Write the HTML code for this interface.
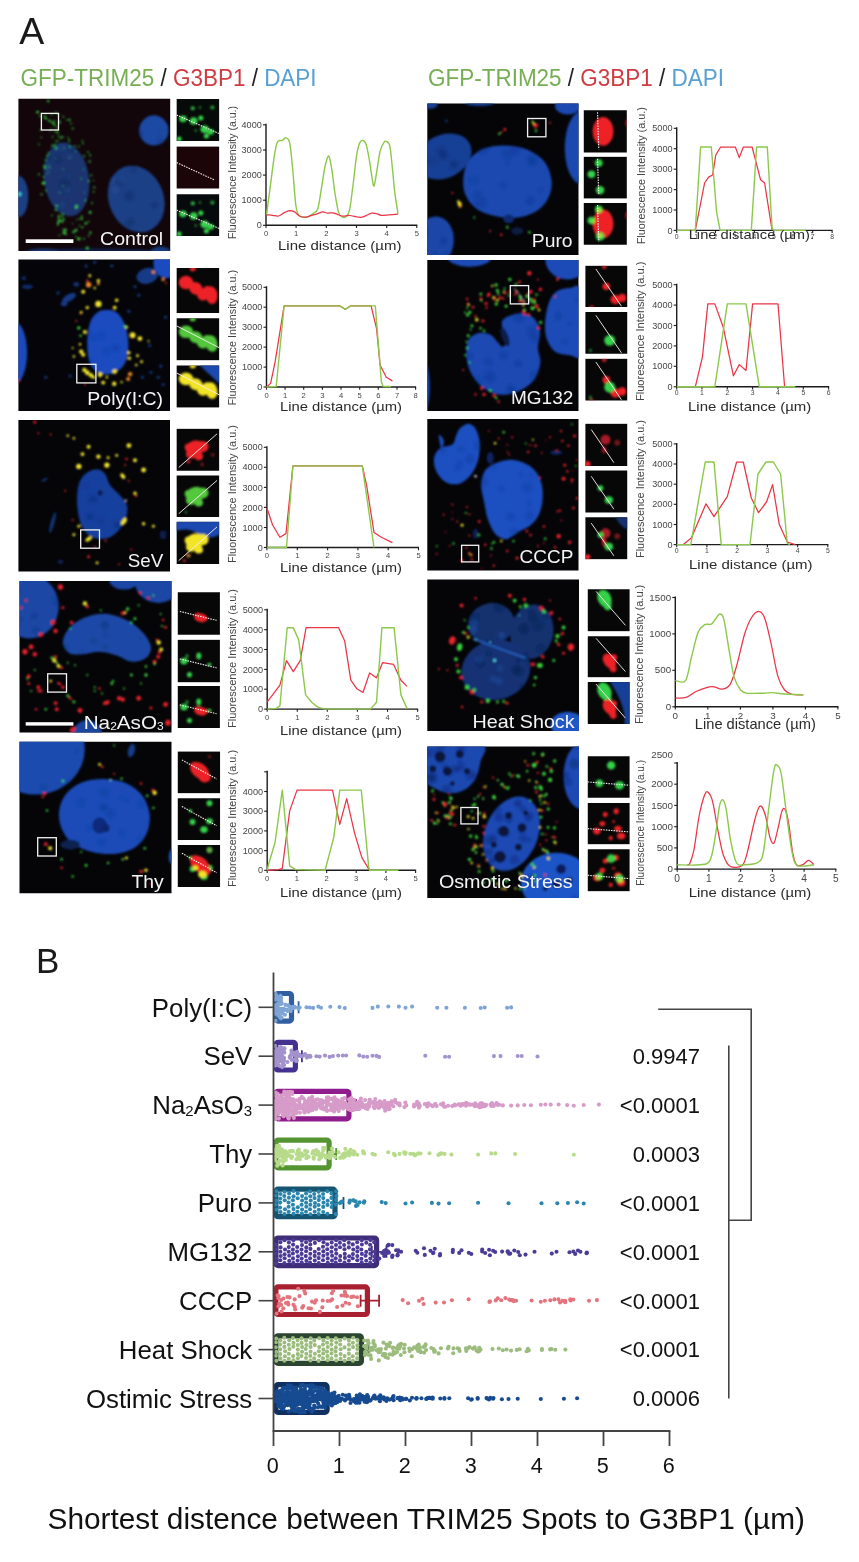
<!DOCTYPE html>
<html lang="en"><head><meta charset="utf-8"><title>Figure</title>
<style>
html,body{margin:0;padding:0;background:#fff;}
body{width:859px;height:1562px;overflow:hidden;}
svg{display:block;}
text{font-family:"Liberation Sans",sans-serif;}
</style></head><body>
<svg width="859" height="1562" viewBox="0 0 859 1562">
<defs>
<filter id="b1" x="-20%" y="-20%" width="140%" height="140%"><feGaussianBlur stdDeviation="0.9"/></filter>
<filter id="b2" x="-20%" y="-20%" width="140%" height="140%"><feGaussianBlur stdDeviation="1.6"/></filter>
<filter id="b3" x="-20%" y="-20%" width="140%" height="140%"><feGaussianBlur stdDeviation="2.8"/></filter>
<filter id="b0" x="-20%" y="-20%" width="140%" height="140%"><feGaussianBlur stdDeviation="0.55"/></filter>
<filter id="bt" x="-5%" y="-5%" width="110%" height="110%"><feGaussianBlur stdDeviation="0.35"/></filter>
</defs>
<rect x="0" y="0" width="859" height="1562" fill="#ffffff"/>
<text x="19.3" y="43.6" font-size="37.5" fill="#1a1a1a" text-anchor="start" >A</text>
<text x="36.0" y="973.2" font-size="35" fill="#1a1a1a" text-anchor="start" >B</text>
<text x="20.6" y="86.4" font-size="23" textLength="296" lengthAdjust="spacingAndGlyphs" filter="url(#bt)"><tspan fill="#76ae52">GFP-TRIM25</tspan><tspan fill="#222"> / </tspan><tspan fill="#cf3a42">G3BP1</tspan><tspan fill="#222"> / </tspan><tspan fill="#58a0d4">DAPI</tspan></text>
<text x="428.0" y="86.4" font-size="23" textLength="296" lengthAdjust="spacingAndGlyphs" filter="url(#bt)"><tspan fill="#76ae52">GFP-TRIM25</tspan><tspan fill="#222"> / </tspan><tspan fill="#cf3a42">G3BP1</tspan><tspan fill="#222"> / </tspan><tspan fill="#58a0d4">DAPI</tspan></text>
<g filter="url(#bt)">
<path d="M266.0,123.8 V225.3 H417.3" fill="none" stroke="#1c1c1c" stroke-width="1.4"/>
<path d="M266.0,225.3 v2.7" stroke="#1c1c1c" stroke-width="1.1"/>
<text x="266.0" y="236.2" font-size="7.6" fill="#444" text-anchor="middle" >0</text>
<path d="M296.1,225.3 v2.7" stroke="#1c1c1c" stroke-width="1.1"/>
<text x="296.1" y="236.2" font-size="7.6" fill="#444" text-anchor="middle" >1</text>
<path d="M326.3,225.3 v2.7" stroke="#1c1c1c" stroke-width="1.1"/>
<text x="326.3" y="236.2" font-size="7.6" fill="#444" text-anchor="middle" >2</text>
<path d="M356.5,225.3 v2.7" stroke="#1c1c1c" stroke-width="1.1"/>
<text x="356.5" y="236.2" font-size="7.6" fill="#444" text-anchor="middle" >3</text>
<path d="M386.7,225.3 v2.7" stroke="#1c1c1c" stroke-width="1.1"/>
<text x="386.7" y="236.2" font-size="7.6" fill="#444" text-anchor="middle" >4</text>
<path d="M416.8,225.3 v2.7" stroke="#1c1c1c" stroke-width="1.1"/>
<text x="416.8" y="236.2" font-size="7.6" fill="#444" text-anchor="middle" >5</text>
<path d="M266.0,225.3 h-3.0" stroke="#1c1c1c" stroke-width="1.1"/>
<text x="261.8" y="228.4" font-size="9.1" fill="#444" text-anchor="end" >0</text>
<path d="M266.0,200.2 h-3.0" stroke="#1c1c1c" stroke-width="1.1"/>
<text x="261.8" y="203.3" font-size="9.1" fill="#444" text-anchor="end" >1000</text>
<path d="M266.0,175.1 h-3.0" stroke="#1c1c1c" stroke-width="1.1"/>
<text x="261.8" y="178.2" font-size="9.1" fill="#444" text-anchor="end" >2000</text>
<path d="M266.0,150.0 h-3.0" stroke="#1c1c1c" stroke-width="1.1"/>
<text x="261.8" y="153.1" font-size="9.1" fill="#444" text-anchor="end" >3000</text>
<path d="M266.0,124.8 h-3.0" stroke="#1c1c1c" stroke-width="1.1"/>
<text x="261.8" y="127.9" font-size="9.1" fill="#444" text-anchor="end" >4000</text>
<path d="M266.5,214.8 C267.1,210.3 268.8,197.7 270.1,187.9 C271.4,178.1 273.1,163.8 274.3,156.1 C275.5,148.5 276.1,144.6 277.5,141.9 C278.8,139.3 280.9,141.2 282.3,140.5 C283.8,139.8 284.8,137.3 286.0,137.8 C287.2,138.2 288.6,138.1 289.7,143.2 C290.8,148.3 291.6,158.0 292.6,168.3 C293.6,178.7 294.8,197.3 295.8,205.0 C296.8,212.8 297.5,212.8 298.7,214.8 C300.0,216.8 301.6,216.9 303.1,217.2 C304.7,217.6 306.4,217.4 308.0,216.8 C309.6,216.1 311.3,214.9 312.9,213.6 C314.5,212.2 316.4,213.0 317.8,208.7 C319.2,204.4 320.2,195.0 321.5,187.9 C322.7,180.8 323.9,171.2 325.1,165.9 C326.4,160.6 327.7,155.3 328.8,156.1 C329.9,156.9 331.0,164.7 332.0,170.8 C333.0,176.9 333.8,185.9 334.9,192.8 C336.0,199.7 337.4,208.4 338.6,212.4 C339.8,216.4 341.0,216.0 342.2,216.8 C343.5,217.5 344.7,217.9 345.9,216.8 C347.1,215.6 348.4,215.5 349.6,209.9 C350.8,204.3 352.0,192.4 353.3,183.0 C354.5,173.6 355.7,160.6 356.9,153.7 C358.1,146.8 359.2,143.2 360.6,141.5 C362.0,139.7 364.1,140.1 365.5,142.9 C366.9,145.8 368.0,152.7 369.1,158.6 C370.2,164.4 371.3,173.6 372.1,178.1 C372.9,182.7 373.3,186.8 374.0,186.0 C374.8,185.1 375.5,179.0 376.5,173.2 C377.5,167.5 378.9,156.3 380.1,151.2 C381.4,146.1 382.7,144.3 383.8,142.7 C384.9,141.0 385.7,140.8 386.7,141.5 C387.8,142.1 389.0,141.9 389.9,146.3 C390.9,150.8 391.6,160.6 392.4,168.3 C393.2,176.1 393.9,185.3 394.8,192.8 C395.8,200.3 397.5,210.1 398.0,213.6" fill="none" stroke="#8cc84a" stroke-width="1.4" stroke-linejoin="round"/>
<path d="M266.5,214.8 C267.5,214.9 270.5,215.1 272.6,215.3 C274.6,215.5 276.6,216.5 278.7,216.0 C280.7,215.5 283.0,213.3 284.8,212.4 C286.6,211.5 288.1,210.7 289.7,210.6 C291.3,210.6 292.9,211.0 294.6,211.9 C296.2,212.8 297.6,215.1 299.5,216.0 C301.3,216.9 303.5,217.4 305.6,217.2 C307.6,217.1 309.6,215.9 311.7,215.3 C313.7,214.7 316.0,214.2 317.8,213.6 C319.6,213.0 321.1,212.0 322.7,211.9 C324.3,211.8 325.9,212.9 327.6,213.1 C329.2,213.3 330.8,212.6 332.5,212.8 C334.1,213.1 335.7,213.8 337.4,214.3 C339.0,214.8 340.2,215.8 342.2,216.0 C344.3,216.2 347.1,215.4 349.6,215.5 C352.0,215.7 354.9,216.5 356.9,216.8 C359.0,217.0 360.2,217.5 361.8,217.2 C363.4,217.0 365.1,216.0 366.7,215.3 C368.3,214.6 370.0,213.4 371.6,213.1 C373.2,212.8 374.8,213.2 376.5,213.6 C378.1,213.9 379.3,215.1 381.4,215.3 C383.4,215.5 385.9,215.0 388.7,214.8 C391.5,214.6 396.4,214.2 398.0,214.1" fill="none" stroke="#ea3546" stroke-width="1.25" stroke-linejoin="round"/>
<text transform="translate(236.1,239.0) rotate(-90)" font-size="11.2" fill="#444" textLength="133.0" lengthAdjust="spacingAndGlyphs">Fluorescence Intensity (a.u.)</text>
<text x="278.0" y="250.3" font-size="13.2" fill="#2a2a2a" text-anchor="start" textLength="123.4" lengthAdjust="spacingAndGlyphs" >Line distance (µm)</text>
</g>
<g filter="url(#bt)">
<path d="M266.5,286.3 V387.0 H416.1" fill="none" stroke="#1c1c1c" stroke-width="1.4"/>
<path d="M266.5,387.0 v2.7" stroke="#1c1c1c" stroke-width="1.1"/>
<text x="266.5" y="397.9" font-size="7.6" fill="#444" text-anchor="middle" >0</text>
<path d="M285.1,387.0 v2.7" stroke="#1c1c1c" stroke-width="1.1"/>
<text x="285.1" y="397.9" font-size="7.6" fill="#444" text-anchor="middle" >1</text>
<path d="M303.7,387.0 v2.7" stroke="#1c1c1c" stroke-width="1.1"/>
<text x="303.7" y="397.9" font-size="7.6" fill="#444" text-anchor="middle" >2</text>
<path d="M322.4,387.0 v2.7" stroke="#1c1c1c" stroke-width="1.1"/>
<text x="322.4" y="397.9" font-size="7.6" fill="#444" text-anchor="middle" >3</text>
<path d="M341.0,387.0 v2.7" stroke="#1c1c1c" stroke-width="1.1"/>
<text x="341.0" y="397.9" font-size="7.6" fill="#444" text-anchor="middle" >4</text>
<path d="M359.7,387.0 v2.7" stroke="#1c1c1c" stroke-width="1.1"/>
<text x="359.7" y="397.9" font-size="7.6" fill="#444" text-anchor="middle" >5</text>
<path d="M378.3,387.0 v2.7" stroke="#1c1c1c" stroke-width="1.1"/>
<text x="378.3" y="397.9" font-size="7.6" fill="#444" text-anchor="middle" >6</text>
<path d="M397.0,387.0 v2.7" stroke="#1c1c1c" stroke-width="1.1"/>
<text x="397.0" y="397.9" font-size="7.6" fill="#444" text-anchor="middle" >7</text>
<path d="M415.6,387.0 v2.7" stroke="#1c1c1c" stroke-width="1.1"/>
<text x="415.6" y="397.9" font-size="7.6" fill="#444" text-anchor="middle" >8</text>
<path d="M266.5,387.0 h-3.0" stroke="#1c1c1c" stroke-width="1.1"/>
<text x="262.3" y="390.1" font-size="9.1" fill="#444" text-anchor="end" >0</text>
<path d="M266.5,367.1 h-3.0" stroke="#1c1c1c" stroke-width="1.1"/>
<text x="262.3" y="370.2" font-size="9.1" fill="#444" text-anchor="end" >1000</text>
<path d="M266.5,347.1 h-3.0" stroke="#1c1c1c" stroke-width="1.1"/>
<text x="262.3" y="350.2" font-size="9.1" fill="#444" text-anchor="end" >2000</text>
<path d="M266.5,327.2 h-3.0" stroke="#1c1c1c" stroke-width="1.1"/>
<text x="262.3" y="330.3" font-size="9.1" fill="#444" text-anchor="end" >3000</text>
<path d="M266.5,307.2 h-3.0" stroke="#1c1c1c" stroke-width="1.1"/>
<text x="262.3" y="310.3" font-size="9.1" fill="#444" text-anchor="end" >4000</text>
<path d="M266.5,287.3 h-3.0" stroke="#1c1c1c" stroke-width="1.1"/>
<text x="262.3" y="290.4" font-size="9.1" fill="#444" text-anchor="end" >5000</text>
<path d="M266.5,387.0 L270.6,383.4 L275.0,362.6 L284.1,305.9 L339.8,305.9 L345.2,309.3 L350.8,305.9 L371.1,305.9 L376.5,328.3 L380.1,365.0 L386.3,377.2 L392.4,380.9" fill="none" stroke="#ea3546" stroke-width="1.25" stroke-linejoin="round"/>
<path d="M266.5,387.0 L276.2,386.5 L284.1,305.9 L339.8,305.9 L345.2,309.3 L350.8,305.9 L375.3,305.9 L381.4,382.1 L383.3,386.5 L391.1,386.5" fill="none" stroke="#8cc84a" stroke-width="1.4" stroke-linejoin="round"/>
<text transform="translate(236.1,405.5) rotate(-90)" font-size="11.2" fill="#444" textLength="135.5" lengthAdjust="spacingAndGlyphs">Fluorescence Intensity (a.u.)</text>
<text x="280.0" y="411.3" font-size="13.2" fill="#2a2a2a" text-anchor="start" textLength="122.0" lengthAdjust="spacingAndGlyphs" >Line distance (µm)</text>
</g>
<g filter="url(#bt)">
<path d="M266.9,446.3 V547.5 H419.0" fill="none" stroke="#1c1c1c" stroke-width="1.4"/>
<path d="M266.9,547.5 v2.7" stroke="#1c1c1c" stroke-width="1.1"/>
<text x="266.9" y="558.4" font-size="7.6" fill="#444" text-anchor="middle" >0</text>
<path d="M297.3,547.5 v2.7" stroke="#1c1c1c" stroke-width="1.1"/>
<text x="297.3" y="558.4" font-size="7.6" fill="#444" text-anchor="middle" >1</text>
<path d="M327.6,547.5 v2.7" stroke="#1c1c1c" stroke-width="1.1"/>
<text x="327.6" y="558.4" font-size="7.6" fill="#444" text-anchor="middle" >2</text>
<path d="M357.9,547.5 v2.7" stroke="#1c1c1c" stroke-width="1.1"/>
<text x="357.9" y="558.4" font-size="7.6" fill="#444" text-anchor="middle" >3</text>
<path d="M388.2,547.5 v2.7" stroke="#1c1c1c" stroke-width="1.1"/>
<text x="388.2" y="558.4" font-size="7.6" fill="#444" text-anchor="middle" >4</text>
<path d="M418.5,547.5 v2.7" stroke="#1c1c1c" stroke-width="1.1"/>
<text x="418.5" y="558.4" font-size="7.6" fill="#444" text-anchor="middle" >5</text>
<path d="M266.9,547.5 h-3.0" stroke="#1c1c1c" stroke-width="1.1"/>
<text x="262.7" y="550.6" font-size="9.1" fill="#444" text-anchor="end" >0</text>
<path d="M266.9,527.5 h-3.0" stroke="#1c1c1c" stroke-width="1.1"/>
<text x="262.7" y="530.6" font-size="9.1" fill="#444" text-anchor="end" >1000</text>
<path d="M266.9,507.4 h-3.0" stroke="#1c1c1c" stroke-width="1.1"/>
<text x="262.7" y="510.5" font-size="9.1" fill="#444" text-anchor="end" >2000</text>
<path d="M266.9,487.4 h-3.0" stroke="#1c1c1c" stroke-width="1.1"/>
<text x="262.7" y="490.5" font-size="9.1" fill="#444" text-anchor="end" >3000</text>
<path d="M266.9,467.3 h-3.0" stroke="#1c1c1c" stroke-width="1.1"/>
<text x="262.7" y="470.4" font-size="9.1" fill="#444" text-anchor="end" >4000</text>
<path d="M266.9,447.3 h-3.0" stroke="#1c1c1c" stroke-width="1.1"/>
<text x="262.7" y="450.4" font-size="9.1" fill="#444" text-anchor="end" >5000</text>
<path d="M266.9,507.9 L272.6,525.0 L279.9,537.2 L286.0,533.6 L292.9,465.9 L362.3,465.9 L366.7,485.9 L374.0,532.4 L381.4,537.2 L392.4,542.6" fill="none" stroke="#ea3546" stroke-width="1.25" stroke-linejoin="round"/>
<path d="M266.9,547.5 L286.5,547.5 L292.9,465.9 L362.3,465.9 L374.0,547.5" fill="none" stroke="#8cc84a" stroke-width="1.4" stroke-linejoin="round"/>
<text transform="translate(236.1,563.0) rotate(-90)" font-size="11.2" fill="#444" textLength="138.0" lengthAdjust="spacingAndGlyphs">Fluorescence Intensity (a.u.)</text>
<text x="280.0" y="572.3" font-size="13.2" fill="#2a2a2a" text-anchor="start" textLength="122.0" lengthAdjust="spacingAndGlyphs" >Line distance (µm)</text>
</g>
<g filter="url(#bt)">
<path d="M267.2,608.8 V709.1 H418.1" fill="none" stroke="#1c1c1c" stroke-width="1.4"/>
<path d="M267.2,709.1 v2.7" stroke="#1c1c1c" stroke-width="1.1"/>
<text x="267.2" y="720.0" font-size="7.6" fill="#444" text-anchor="middle" >0</text>
<path d="M297.3,709.1 v2.7" stroke="#1c1c1c" stroke-width="1.1"/>
<text x="297.3" y="720.0" font-size="7.6" fill="#444" text-anchor="middle" >1</text>
<path d="M327.3,709.1 v2.7" stroke="#1c1c1c" stroke-width="1.1"/>
<text x="327.3" y="720.0" font-size="7.6" fill="#444" text-anchor="middle" >2</text>
<path d="M357.4,709.1 v2.7" stroke="#1c1c1c" stroke-width="1.1"/>
<text x="357.4" y="720.0" font-size="7.6" fill="#444" text-anchor="middle" >3</text>
<path d="M387.5,709.1 v2.7" stroke="#1c1c1c" stroke-width="1.1"/>
<text x="387.5" y="720.0" font-size="7.6" fill="#444" text-anchor="middle" >4</text>
<path d="M417.6,709.1 v2.7" stroke="#1c1c1c" stroke-width="1.1"/>
<text x="417.6" y="720.0" font-size="7.6" fill="#444" text-anchor="middle" >5</text>
<path d="M267.2,709.1 h-3.0" stroke="#1c1c1c" stroke-width="1.1"/>
<text x="263.0" y="712.2" font-size="9.1" fill="#444" text-anchor="end" >0</text>
<path d="M267.2,689.2 h-3.0" stroke="#1c1c1c" stroke-width="1.1"/>
<text x="263.0" y="692.3" font-size="9.1" fill="#444" text-anchor="end" >1000</text>
<path d="M267.2,669.4 h-3.0" stroke="#1c1c1c" stroke-width="1.1"/>
<text x="263.0" y="672.5" font-size="9.1" fill="#444" text-anchor="end" >2000</text>
<path d="M267.2,649.5 h-3.0" stroke="#1c1c1c" stroke-width="1.1"/>
<text x="263.0" y="652.6" font-size="9.1" fill="#444" text-anchor="end" >3000</text>
<path d="M267.2,629.7 h-3.0" stroke="#1c1c1c" stroke-width="1.1"/>
<text x="263.0" y="632.8" font-size="9.1" fill="#444" text-anchor="end" >4000</text>
<path d="M267.2,609.8 h-3.0" stroke="#1c1c1c" stroke-width="1.1"/>
<text x="263.0" y="612.9" font-size="9.1" fill="#444" text-anchor="end" >5000</text>
<path d="M267.2,701.8 L272.6,694.9 L279.9,685.1 L286.5,660.7 L293.3,671.7 L300.2,660.7 L306.1,627.7 L338.6,627.7 L344.7,641.1 L350.8,680.2 L356.9,688.8 L363.0,692.5 L369.6,672.9 L376.5,677.8 L382.6,662.6 L393.6,664.4 L400.9,680.2 L407.0,686.4" fill="none" stroke="#ea3546" stroke-width="1.25" stroke-linejoin="round"/>
<path d="M267.2,709.1 L276.2,708.4 L279.9,705.9 L287.2,627.7 L293.3,627.7 L298.7,639.9 L305.6,694.9 L311.7,702.2 L317.8,707.1 L325.1,709.1 L370.4,709.1 L376.5,702.2 L381.9,627.7 L394.1,627.7 L400.9,694.9 L407.0,708.4" fill="none" stroke="#8cc84a" stroke-width="1.4" stroke-linejoin="round"/>
<text transform="translate(236.1,728.0) rotate(-90)" font-size="11.2" fill="#444" textLength="139.0" lengthAdjust="spacingAndGlyphs">Fluorescence Intensity (a.u.)</text>
<text x="280.0" y="735.3" font-size="13.2" fill="#2a2a2a" text-anchor="start" textLength="122.0" lengthAdjust="spacingAndGlyphs" >Line distance (µm)</text>
</g>
<g filter="url(#bt)">
<path d="M267.2,770.8 V870.3 H416.1" fill="none" stroke="#1c1c1c" stroke-width="1.4"/>
<path d="M267.2,870.3 v2.7" stroke="#1c1c1c" stroke-width="1.1"/>
<text x="267.2" y="881.2" font-size="7.6" fill="#444" text-anchor="middle" >0</text>
<path d="M296.9,870.3 v2.7" stroke="#1c1c1c" stroke-width="1.1"/>
<text x="296.9" y="881.2" font-size="7.6" fill="#444" text-anchor="middle" >1</text>
<path d="M326.6,870.3 v2.7" stroke="#1c1c1c" stroke-width="1.1"/>
<text x="326.6" y="881.2" font-size="7.6" fill="#444" text-anchor="middle" >2</text>
<path d="M356.2,870.3 v2.7" stroke="#1c1c1c" stroke-width="1.1"/>
<text x="356.2" y="881.2" font-size="7.6" fill="#444" text-anchor="middle" >3</text>
<path d="M385.9,870.3 v2.7" stroke="#1c1c1c" stroke-width="1.1"/>
<text x="385.9" y="881.2" font-size="7.6" fill="#444" text-anchor="middle" >4</text>
<path d="M415.6,870.3 v2.7" stroke="#1c1c1c" stroke-width="1.1"/>
<text x="415.6" y="881.2" font-size="7.6" fill="#444" text-anchor="middle" >5</text>
<path d="M267.2,870.3 h-3.0" stroke="#1c1c1c" stroke-width="1.1"/>
<text x="263.0" y="873.4" font-size="9.1" fill="#444" text-anchor="end" >0</text>
<path d="M267.2,850.6 h-3.0" stroke="#1c1c1c" stroke-width="1.1"/>
<text x="263.0" y="853.7" font-size="9.1" fill="#444" text-anchor="end" >1000</text>
<path d="M267.2,830.9 h-3.0" stroke="#1c1c1c" stroke-width="1.1"/>
<text x="263.0" y="834.0" font-size="9.1" fill="#444" text-anchor="end" >2000</text>
<path d="M267.2,811.2 h-3.0" stroke="#1c1c1c" stroke-width="1.1"/>
<text x="263.0" y="814.3" font-size="9.1" fill="#444" text-anchor="end" >3000</text>
<path d="M267.2,791.5 h-3.0" stroke="#1c1c1c" stroke-width="1.1"/>
<text x="263.0" y="794.6" font-size="9.1" fill="#444" text-anchor="end" >4000</text>
<path d="M267.2,771.8 h-3.0" stroke="#1c1c1c" stroke-width="1.1"/>
<path d="M267.2,870.3 L278.7,869.6 L282.3,868.4 L289.7,810.9 L297.0,790.1 L332.5,790.1 L339.8,824.4 L346.7,798.7 L354.5,832.9 L361.8,857.4 L369.1,869.6" fill="none" stroke="#ea3546" stroke-width="1.25" stroke-linejoin="round"/>
<path d="M267.2,870.3 L268.4,864.7 L275.0,842.7 L282.3,790.1 L289.7,865.9 L295.8,869.6 L325.1,870.3 L333.7,837.8 L339.8,790.1 L361.3,790.1 L368.7,867.1 L369.6,870.3 L398.5,870.3" fill="none" stroke="#8cc84a" stroke-width="1.4" stroke-linejoin="round"/>
<text transform="translate(236.1,887.0) rotate(-90)" font-size="11.2" fill="#444" textLength="137.0" lengthAdjust="spacingAndGlyphs">Fluorescence Intensity (a.u.)</text>
<text x="280.0" y="897.3" font-size="13.2" fill="#2a2a2a" text-anchor="start" textLength="122.0" lengthAdjust="spacingAndGlyphs" >Line distance (µm)</text>
</g>
<g filter="url(#bt)">
<path d="M676.7,127.3 V230.4 H832.6" fill="none" stroke="#1c1c1c" stroke-width="1.4"/>
<path d="M676.7,230.4 v2.7" stroke="#1c1c1c" stroke-width="1.1"/>
<text x="676.7" y="238.8" font-size="6.8" fill="#444" text-anchor="middle" >0</text>
<path d="M696.1,230.4 v2.7" stroke="#1c1c1c" stroke-width="1.1"/>
<text x="696.1" y="238.8" font-size="6.8" fill="#444" text-anchor="middle" >1</text>
<path d="M715.5,230.4 v2.7" stroke="#1c1c1c" stroke-width="1.1"/>
<text x="715.5" y="238.8" font-size="6.8" fill="#444" text-anchor="middle" >2</text>
<path d="M734.9,230.4 v2.7" stroke="#1c1c1c" stroke-width="1.1"/>
<text x="734.9" y="238.8" font-size="6.8" fill="#444" text-anchor="middle" >3</text>
<path d="M754.4,230.4 v2.7" stroke="#1c1c1c" stroke-width="1.1"/>
<text x="754.4" y="238.8" font-size="6.8" fill="#444" text-anchor="middle" >4</text>
<path d="M773.8,230.4 v2.7" stroke="#1c1c1c" stroke-width="1.1"/>
<text x="773.8" y="238.8" font-size="6.8" fill="#444" text-anchor="middle" >5</text>
<path d="M793.2,230.4 v2.7" stroke="#1c1c1c" stroke-width="1.1"/>
<text x="793.2" y="238.8" font-size="6.8" fill="#444" text-anchor="middle" >6</text>
<path d="M812.7,230.4 v2.7" stroke="#1c1c1c" stroke-width="1.1"/>
<text x="812.7" y="238.8" font-size="6.8" fill="#444" text-anchor="middle" >7</text>
<path d="M832.1,230.4 v2.7" stroke="#1c1c1c" stroke-width="1.1"/>
<text x="832.1" y="238.8" font-size="6.8" fill="#444" text-anchor="middle" >8</text>
<path d="M676.7,230.4 h-3.0" stroke="#1c1c1c" stroke-width="1.1"/>
<text x="672.5" y="233.5" font-size="9.1" fill="#444" text-anchor="end" >0</text>
<path d="M676.7,210.0 h-3.0" stroke="#1c1c1c" stroke-width="1.1"/>
<text x="672.5" y="213.1" font-size="9.1" fill="#444" text-anchor="end" >1000</text>
<path d="M676.7,189.6 h-3.0" stroke="#1c1c1c" stroke-width="1.1"/>
<text x="672.5" y="192.7" font-size="9.1" fill="#444" text-anchor="end" >2000</text>
<path d="M676.7,169.2 h-3.0" stroke="#1c1c1c" stroke-width="1.1"/>
<text x="672.5" y="172.3" font-size="9.1" fill="#444" text-anchor="end" >3000</text>
<path d="M676.7,148.7 h-3.0" stroke="#1c1c1c" stroke-width="1.1"/>
<text x="672.5" y="151.8" font-size="9.1" fill="#444" text-anchor="end" >4000</text>
<path d="M676.7,128.3 h-3.0" stroke="#1c1c1c" stroke-width="1.1"/>
<text x="672.5" y="131.4" font-size="9.1" fill="#444" text-anchor="end" >5000</text>
<path d="M695.3,230.4 L704.6,183.0 L708.6,177.1 L712.6,175.0 L715.8,155.0 L720.6,147.0 L735.3,147.0 L739.3,157.6 L743.3,147.0 L752.1,147.0 L756.6,164.3 L760.6,179.8 L764.6,183.0 L772.1,230.4" fill="none" stroke="#ea3546" stroke-width="1.25" stroke-linejoin="round"/>
<path d="M676.7,230.4 L695.3,230.4 L700.6,147.0 L711.3,147.0 L716.6,212.3 L720.1,230.4 L751.3,230.4 L756.6,147.0 L767.3,147.0 L772.1,228.3 L774.0,230.4 L806.0,230.4" fill="none" stroke="#8cc84a" stroke-width="1.4" stroke-linejoin="round"/>
<text transform="translate(644.6,244.3) rotate(-90)" font-size="11.2" fill="#444" textLength="137.3" lengthAdjust="spacingAndGlyphs">Fluorescence Intensity (a.u.)</text>
<text x="688.7" y="239.3" font-size="13.6" fill="#2a2a2a" text-anchor="start" textLength="125.3" lengthAdjust="spacingAndGlyphs" >Line distance (µm):</text>
</g>
<g filter="url(#bt)">
<path d="M676.7,283.7 V386.8 H829.1" fill="none" stroke="#1c1c1c" stroke-width="1.4"/>
<path d="M676.7,386.8 v2.7" stroke="#1c1c1c" stroke-width="1.1"/>
<text x="676.7" y="395.2" font-size="6.8" fill="#444" text-anchor="middle" >0</text>
<path d="M702.0,386.8 v2.7" stroke="#1c1c1c" stroke-width="1.1"/>
<text x="702.0" y="395.2" font-size="6.8" fill="#444" text-anchor="middle" >1</text>
<path d="M727.3,386.8 v2.7" stroke="#1c1c1c" stroke-width="1.1"/>
<text x="727.3" y="395.2" font-size="6.8" fill="#444" text-anchor="middle" >2</text>
<path d="M752.6,386.8 v2.7" stroke="#1c1c1c" stroke-width="1.1"/>
<text x="752.6" y="395.2" font-size="6.8" fill="#444" text-anchor="middle" >3</text>
<path d="M778.0,386.8 v2.7" stroke="#1c1c1c" stroke-width="1.1"/>
<text x="778.0" y="395.2" font-size="6.8" fill="#444" text-anchor="middle" >4</text>
<path d="M803.3,386.8 v2.7" stroke="#1c1c1c" stroke-width="1.1"/>
<text x="803.3" y="395.2" font-size="6.8" fill="#444" text-anchor="middle" >5</text>
<path d="M828.6,386.8 v2.7" stroke="#1c1c1c" stroke-width="1.1"/>
<text x="828.6" y="395.2" font-size="6.8" fill="#444" text-anchor="middle" >6</text>
<path d="M676.7,386.8 h-3.0" stroke="#1c1c1c" stroke-width="1.1"/>
<text x="672.5" y="389.9" font-size="9.1" fill="#444" text-anchor="end" >0</text>
<path d="M676.7,366.3 h-3.0" stroke="#1c1c1c" stroke-width="1.1"/>
<text x="672.5" y="369.4" font-size="9.1" fill="#444" text-anchor="end" >1000</text>
<path d="M676.7,345.9 h-3.0" stroke="#1c1c1c" stroke-width="1.1"/>
<text x="672.5" y="349.0" font-size="9.1" fill="#444" text-anchor="end" >2000</text>
<path d="M676.7,325.5 h-3.0" stroke="#1c1c1c" stroke-width="1.1"/>
<text x="672.5" y="328.6" font-size="9.1" fill="#444" text-anchor="end" >3000</text>
<path d="M676.7,305.1 h-3.0" stroke="#1c1c1c" stroke-width="1.1"/>
<text x="672.5" y="308.2" font-size="9.1" fill="#444" text-anchor="end" >4000</text>
<path d="M676.7,284.7 h-3.0" stroke="#1c1c1c" stroke-width="1.1"/>
<text x="672.5" y="287.8" font-size="9.1" fill="#444" text-anchor="end" >5000</text>
<path d="M695.3,386.8 L702.5,356.6 L707.8,303.9 L714.8,303.9 L723.3,327.3 L733.4,375.8 L739.3,364.6 L746.0,370.5 L752.6,303.9 L778.0,303.9 L784.6,386.8" fill="none" stroke="#ea3546" stroke-width="1.25" stroke-linejoin="round"/>
<path d="M676.7,386.8 L714.8,386.8 L727.3,303.9 L746.0,303.9 L759.3,386.8 L795.3,386.8" fill="none" stroke="#8cc84a" stroke-width="1.4" stroke-linejoin="round"/>
<text transform="translate(643.8,401.0) rotate(-90)" font-size="11.2" fill="#444" textLength="139.5" lengthAdjust="spacingAndGlyphs">Fluorescence Intensity (a.u.)</text>
<text x="688.0" y="411.1" font-size="13.2" fill="#2a2a2a" text-anchor="start" textLength="123.3" lengthAdjust="spacingAndGlyphs" >Line distance (µm)</text>
</g>
<g filter="url(#bt)">
<path d="M676.7,442.9 V544.6 H828.3" fill="none" stroke="#1c1c1c" stroke-width="1.4"/>
<path d="M676.7,544.6 v2.7" stroke="#1c1c1c" stroke-width="1.1"/>
<text x="676.7" y="553.0" font-size="6.8" fill="#444" text-anchor="middle" >0</text>
<path d="M706.9,544.6 v2.7" stroke="#1c1c1c" stroke-width="1.1"/>
<text x="706.9" y="553.0" font-size="6.8" fill="#444" text-anchor="middle" >1</text>
<path d="M737.1,544.6 v2.7" stroke="#1c1c1c" stroke-width="1.1"/>
<text x="737.1" y="553.0" font-size="6.8" fill="#444" text-anchor="middle" >2</text>
<path d="M767.4,544.6 v2.7" stroke="#1c1c1c" stroke-width="1.1"/>
<text x="767.4" y="553.0" font-size="6.8" fill="#444" text-anchor="middle" >3</text>
<path d="M797.6,544.6 v2.7" stroke="#1c1c1c" stroke-width="1.1"/>
<text x="797.6" y="553.0" font-size="6.8" fill="#444" text-anchor="middle" >4</text>
<path d="M827.8,544.6 v2.7" stroke="#1c1c1c" stroke-width="1.1"/>
<text x="827.8" y="553.0" font-size="6.8" fill="#444" text-anchor="middle" >5</text>
<path d="M676.7,544.6 h-3.0" stroke="#1c1c1c" stroke-width="1.1"/>
<text x="672.5" y="547.7" font-size="9.1" fill="#444" text-anchor="end" >0</text>
<path d="M676.7,524.5 h-3.0" stroke="#1c1c1c" stroke-width="1.1"/>
<text x="672.5" y="527.6" font-size="9.1" fill="#444" text-anchor="end" >1000</text>
<path d="M676.7,504.3 h-3.0" stroke="#1c1c1c" stroke-width="1.1"/>
<text x="672.5" y="507.4" font-size="9.1" fill="#444" text-anchor="end" >2000</text>
<path d="M676.7,484.2 h-3.0" stroke="#1c1c1c" stroke-width="1.1"/>
<text x="672.5" y="487.3" font-size="9.1" fill="#444" text-anchor="end" >3000</text>
<path d="M676.7,464.0 h-3.0" stroke="#1c1c1c" stroke-width="1.1"/>
<text x="672.5" y="467.1" font-size="9.1" fill="#444" text-anchor="end" >4000</text>
<path d="M676.7,443.9 h-3.0" stroke="#1c1c1c" stroke-width="1.1"/>
<text x="672.5" y="447.0" font-size="9.1" fill="#444" text-anchor="end" >5000</text>
<path d="M683.3,544.6 L691.3,538.0 L706.0,503.8 L714.0,516.6 L727.3,496.6 L736.6,462.0 L743.3,462.0 L751.3,498.0 L758.5,512.6 L766.5,502.0 L772.6,484.6 L779.3,524.6 L787.3,542.0 L795.3,544.6" fill="none" stroke="#ea3546" stroke-width="1.25" stroke-linejoin="round"/>
<path d="M676.7,544.6 L690.8,544.6 L705.2,462.0 L714.0,462.0 L721.2,544.6 L750.0,544.6 L758.0,474.0 L766.0,462.0 L773.4,462.0 L780.6,474.0 L787.3,543.3 L790.0,544.6" fill="none" stroke="#8cc84a" stroke-width="1.4" stroke-linejoin="round"/>
<text transform="translate(643.8,558.0) rotate(-90)" font-size="11.2" fill="#444" textLength="138.0" lengthAdjust="spacingAndGlyphs">Fluorescence Intensity (a.u.)</text>
<text x="689.0" y="568.9" font-size="13.2" fill="#2a2a2a" text-anchor="start" textLength="123.6" lengthAdjust="spacingAndGlyphs" >Line distance (µm)</text>
</g>
<g filter="url(#bt)">
<path d="M675.3,596.5 V706.8 H838.4" fill="none" stroke="#1c1c1c" stroke-width="1.4"/>
<path d="M675.3,706.8 v2.7" stroke="#1c1c1c" stroke-width="1.1"/>
<text x="675.3" y="718.6" font-size="9.8" fill="#444" text-anchor="middle" >0</text>
<path d="M707.8,706.8 v2.7" stroke="#1c1c1c" stroke-width="1.1"/>
<text x="707.8" y="718.6" font-size="9.8" fill="#444" text-anchor="middle" >1</text>
<path d="M740.4,706.8 v2.7" stroke="#1c1c1c" stroke-width="1.1"/>
<text x="740.4" y="718.6" font-size="9.8" fill="#444" text-anchor="middle" >2</text>
<path d="M772.9,706.8 v2.7" stroke="#1c1c1c" stroke-width="1.1"/>
<text x="772.9" y="718.6" font-size="9.8" fill="#444" text-anchor="middle" >3</text>
<path d="M805.4,706.8 v2.7" stroke="#1c1c1c" stroke-width="1.1"/>
<text x="805.4" y="718.6" font-size="9.8" fill="#444" text-anchor="middle" >4</text>
<path d="M837.9,706.8 v2.7" stroke="#1c1c1c" stroke-width="1.1"/>
<text x="837.9" y="718.6" font-size="9.8" fill="#444" text-anchor="middle" >5</text>
<path d="M675.3,706.8 h-3.0" stroke="#1c1c1c" stroke-width="1.1"/>
<text x="671.1" y="709.9" font-size="9.8" fill="#444" text-anchor="end" >0</text>
<path d="M675.3,670.3 h-3.0" stroke="#1c1c1c" stroke-width="1.1"/>
<text x="671.1" y="673.4" font-size="9.8" fill="#444" text-anchor="end" >500</text>
<path d="M675.3,633.9 h-3.0" stroke="#1c1c1c" stroke-width="1.1"/>
<text x="671.1" y="637.0" font-size="9.8" fill="#444" text-anchor="end" >1000</text>
<path d="M675.3,597.5 h-3.0" stroke="#1c1c1c" stroke-width="1.1"/>
<text x="671.1" y="600.6" font-size="9.8" fill="#444" text-anchor="end" >1500</text>
<path d="M675.3,698.0 C677.1,697.9 682.4,698.5 686.0,697.4 C689.5,696.3 693.1,693.0 696.6,691.3 C700.2,689.6 704.4,688.1 707.3,687.3 C710.2,686.5 711.5,686.5 714.0,686.8 C716.4,687.1 719.3,689.5 722.0,689.2 C724.6,688.8 727.5,688.5 730.0,684.6 C732.4,680.8 734.2,674.4 736.6,666.0 C739.1,657.5 742.2,642.0 744.6,634.0 C747.1,626.0 749.0,621.8 751.3,618.0 C753.6,614.2 756.3,611.3 758.5,611.3 C760.7,611.3 762.5,612.4 764.6,618.0 C766.8,623.5 769.1,634.9 771.3,644.6 C773.5,654.4 775.7,669.1 778.0,676.6 C780.2,684.2 782.2,687.0 784.6,690.0 C787.1,692.9 789.5,693.7 792.6,694.5 C795.7,695.3 801.5,694.7 803.3,694.8" fill="none" stroke="#ea3546" stroke-width="1.25" stroke-linejoin="round"/>
<path d="M675.3,680.6 C677.0,680.6 682.8,684.4 685.5,680.6 C688.1,676.9 689.2,666.0 691.3,658.0 C693.4,650.0 695.8,638.2 698.0,632.6 C700.2,627.1 702.4,626.1 704.6,624.7 C706.9,623.2 709.5,625.0 711.3,624.1 C713.1,623.2 713.9,621.0 715.3,619.3 C716.7,617.6 718.4,614.0 719.8,614.0 C721.3,614.0 722.4,613.8 723.8,619.3 C725.3,624.9 727.0,637.8 728.6,647.3 C730.3,656.9 732.0,669.5 734.0,676.6 C736.0,683.7 738.4,687.2 740.6,690.0 C742.9,692.7 743.5,692.6 747.3,693.2 C751.1,693.7 759.1,693.3 763.3,693.2 C767.5,693.1 769.1,692.5 772.6,692.6 C776.2,692.8 779.5,693.6 784.6,694.0 C789.7,694.3 800.2,694.6 803.3,694.8" fill="none" stroke="#8cc84a" stroke-width="1.4" stroke-linejoin="round"/>
<text transform="translate(643.3,724.0) rotate(-90)" font-size="11.2" fill="#444" textLength="139.3" lengthAdjust="spacingAndGlyphs">Fluorescence Intensity (a.u.)</text>
<text x="694.8" y="728.9" font-size="14.2" fill="#2a2a2a" text-anchor="start" textLength="121.0" lengthAdjust="spacingAndGlyphs" >Line distance (µm)</text>
</g>
<g filter="url(#bt)">
<path d="M677.2,762.0 V869.1 H836.3" fill="none" stroke="#1c1c1c" stroke-width="1.4"/>
<path d="M677.2,869.1 v2.7" stroke="#1c1c1c" stroke-width="1.1"/>
<text x="677.2" y="882.3" font-size="10.2" fill="#444" text-anchor="middle" >0</text>
<path d="M708.9,869.1 v2.7" stroke="#1c1c1c" stroke-width="1.1"/>
<text x="708.9" y="882.3" font-size="10.2" fill="#444" text-anchor="middle" >1</text>
<path d="M740.6,869.1 v2.7" stroke="#1c1c1c" stroke-width="1.1"/>
<text x="740.6" y="882.3" font-size="10.2" fill="#444" text-anchor="middle" >2</text>
<path d="M772.4,869.1 v2.7" stroke="#1c1c1c" stroke-width="1.1"/>
<text x="772.4" y="882.3" font-size="10.2" fill="#444" text-anchor="middle" >3</text>
<path d="M804.1,869.1 v2.7" stroke="#1c1c1c" stroke-width="1.1"/>
<text x="804.1" y="882.3" font-size="10.2" fill="#444" text-anchor="middle" >4</text>
<path d="M835.8,869.1 v2.7" stroke="#1c1c1c" stroke-width="1.1"/>
<text x="835.8" y="882.3" font-size="10.2" fill="#444" text-anchor="middle" >5</text>
<path d="M677.2,869.1 h-3.0" stroke="#1c1c1c" stroke-width="1.1"/>
<text x="673.0" y="872.2" font-size="9.8" fill="#444" text-anchor="end" >0</text>
<path d="M677.2,847.9 h-3.0" stroke="#1c1c1c" stroke-width="1.1"/>
<text x="673.0" y="851.0" font-size="9.8" fill="#444" text-anchor="end" >500</text>
<path d="M677.2,826.7 h-3.0" stroke="#1c1c1c" stroke-width="1.1"/>
<text x="673.0" y="829.8" font-size="9.8" fill="#444" text-anchor="end" >1000</text>
<path d="M677.2,805.4 h-3.0" stroke="#1c1c1c" stroke-width="1.1"/>
<text x="673.0" y="808.5" font-size="9.8" fill="#444" text-anchor="end" >1500</text>
<path d="M677.2,784.2 h-3.0" stroke="#1c1c1c" stroke-width="1.1"/>
<text x="673.0" y="787.3" font-size="9.8" fill="#444" text-anchor="end" >2000</text>
<path d="M677.2,763.0 h-3.0" stroke="#1c1c1c" stroke-width="1.1"/>
<text x="673.0" y="758.1" font-size="9.8" fill="#444" text-anchor="end" >2500</text>
<path d="M687.3,865.1 C687.8,864.7 688.9,865.5 690.0,863.0 C691.1,860.4 692.4,857.6 694.0,849.6 C695.5,841.6 697.5,824.1 699.3,815.0 C701.1,805.9 703.2,798.8 704.6,795.0 C706.1,791.2 706.8,791.2 708.1,792.3 C709.4,793.4 711.0,795.2 712.6,801.6 C714.3,808.1 716.2,822.1 718.0,831.0 C719.8,839.9 721.3,849.1 723.3,855.0 C725.3,860.8 726.9,864.4 730.0,866.2 C733.1,867.9 739.1,867.9 742.0,865.6 C744.9,863.3 745.3,859.4 747.3,852.3 C749.3,845.2 752.1,830.3 754.0,823.0 C755.8,815.6 757.2,811.0 758.5,808.3 C759.8,805.6 760.7,805.4 762.0,807.0 C763.2,808.5 764.6,812.5 766.0,817.6 C767.3,822.8 768.6,833.4 770.0,837.6 C771.3,841.9 772.6,844.5 774.0,843.0 C775.3,841.4 776.6,833.6 778.0,828.3 C779.3,823.0 780.8,814.1 782.0,811.0 C783.2,807.9 784.0,807.6 785.2,809.6 C786.3,811.6 787.4,815.9 788.6,823.0 C789.9,830.1 791.3,845.3 792.6,852.3 C794.0,859.3 794.8,863.1 796.6,865.1 C798.4,867.1 801.3,865.1 803.3,864.3 C805.3,863.5 806.8,860.2 808.6,860.3 C810.4,860.4 813.1,864.1 814.0,864.8" fill="none" stroke="#ea3546" stroke-width="1.25" stroke-linejoin="round"/>
<path d="M677.2,864.8 C680.9,864.8 693.8,865.6 699.3,864.8 C704.8,864.1 707.3,865.1 710.0,860.3 C712.6,855.5 713.8,845.2 715.3,836.3 C716.9,827.4 718.1,813.1 719.3,807.0 C720.5,800.9 721.4,799.6 722.5,799.8 C723.6,800.0 724.6,801.3 726.0,808.3 C727.4,815.3 729.0,832.5 730.8,841.6 C732.6,850.7 734.3,859.1 736.6,863.0 C738.9,866.8 741.1,864.9 744.6,864.8 C748.2,864.7 754.9,864.5 758.0,862.4 C761.1,860.3 761.5,861.1 763.3,852.3 C765.1,843.5 766.9,823.4 768.6,809.6 C770.4,795.9 772.5,777.0 774.0,769.7 C775.4,762.3 776.2,764.8 777.4,765.7 C778.7,766.5 779.8,765.9 781.4,775.0 C783.1,784.1 785.4,807.0 787.3,820.3 C789.2,833.6 790.8,847.4 792.6,855.0 C794.4,862.5 794.4,864.0 798.0,865.6 C801.5,867.3 811.3,865.0 814.0,864.8" fill="none" stroke="#8cc84a" stroke-width="1.4" stroke-linejoin="round"/>
<text transform="translate(643.6,885.7) rotate(-90)" font-size="11.2" fill="#444" textLength="125.7" lengthAdjust="spacingAndGlyphs">Fluorescence Intensity (a.u.)</text>
<text x="688.7" y="897.3" font-size="13.2" fill="#2a2a2a" text-anchor="start" textLength="122.6" lengthAdjust="spacingAndGlyphs" >Line distance (µm)</text>
</g>
<svg x="18.4" y="98.7" width="151.8" height="152.3" viewBox="0 0 151.8 152.3">
<rect x="-1" y="-1" width="153.8" height="154.3" fill="#12060b"/>
<g filter="url(#b1)"><path d="M70.4,77.6 C71.3,83.7 71.2,90.8 70.0,96.4 C68.9,101.9 66.6,107.5 63.8,111.0 C61.0,114.5 57.1,117.0 53.3,117.5 C49.6,118.0 45.2,116.7 41.5,114.1 C37.9,111.5 34.1,106.8 31.5,101.8 C28.9,96.7 26.8,89.9 25.9,83.8 C25.0,77.7 25.2,70.6 26.3,65.0 C27.4,59.4 29.8,53.9 32.5,50.4 C35.3,46.9 39.3,44.4 43.0,43.9 C46.7,43.4 51.2,44.6 54.8,47.2 C58.5,49.9 62.3,54.5 64.9,59.6 C67.5,64.6 69.6,71.4 70.4,77.6Z" fill="#1a3570" opacity="1"/><g filter="url(#b2)"><clipPath id="c18_98_1"><path d="M70.4,77.6 C71.3,83.7 71.2,90.8 70.0,96.4 C68.9,101.9 66.6,107.5 63.8,111.0 C61.0,114.5 57.1,117.0 53.3,117.5 C49.6,118.0 45.2,116.7 41.5,114.1 C37.9,111.5 34.1,106.8 31.5,101.8 C28.9,96.7 26.8,89.9 25.9,83.8 C25.0,77.7 25.2,70.6 26.3,65.0 C27.4,59.4 29.8,53.9 32.5,50.4 C35.3,46.9 39.3,44.4 43.0,43.9 C46.7,43.4 51.2,44.6 54.8,47.2 C58.5,49.9 62.3,54.5 64.9,59.6 C67.5,64.6 69.6,71.4 70.4,77.6Z"/></clipPath><g clip-path="url(#c18_98_1)"><circle cx="46.0" cy="85.1" r="4.8" fill="#0c1a42" opacity="0.29"/><circle cx="52.1" cy="57.5" r="3.5" fill="#244a90" opacity="0.35"/><circle cx="30.1" cy="66.2" r="2.3" fill="#244a90" opacity="0.33"/><circle cx="27.8" cy="116.2" r="4.9" fill="#244a90" opacity="0.32"/><circle cx="32.9" cy="45.0" r="3.6" fill="#0c1a42" opacity="0.22"/><circle cx="36.7" cy="46.1" r="3.4" fill="#0c1a42" opacity="0.37"/><circle cx="49.0" cy="91.0" r="3.5" fill="#244a90" opacity="0.28"/><circle cx="38.3" cy="117.3" r="5.0" fill="#244a90" opacity="0.34"/><circle cx="39.9" cy="60.8" r="2.9" fill="#0c1a42" opacity="0.35"/><circle cx="43.7" cy="106.2" r="3.2" fill="#244a90" opacity="0.37"/><circle cx="25.9" cy="59.3" r="4.7" fill="#0c1a42" opacity="0.40"/><circle cx="43.6" cy="49.3" r="3.9" fill="#244a90" opacity="0.24"/><circle cx="29.8" cy="68.4" r="4.9" fill="#244a90" opacity="0.21"/><circle cx="36.9" cy="51.3" r="2.2" fill="#244a90" opacity="0.22"/><circle cx="50.8" cy="76.8" r="2.6" fill="#244a90" opacity="0.21"/><circle cx="54.6" cy="52.5" r="3.3" fill="#0c1a42" opacity="0.24"/></g></g><path d="M143.2,90.0 C145.4,95.3 146.5,101.8 146.2,107.2 C146.0,112.7 144.2,118.5 141.6,122.6 C139.1,126.7 134.9,130.3 130.7,132.0 C126.4,133.7 121.0,134.0 116.3,132.9 C111.5,131.7 106.2,128.7 102.3,125.0 C98.3,121.3 94.6,115.8 92.5,110.5 C90.3,105.2 89.2,98.7 89.4,93.3 C89.7,87.8 91.5,82.0 94.0,77.9 C96.6,73.8 100.8,70.2 105.0,68.5 C109.3,66.8 114.7,66.5 119.4,67.6 C124.2,68.8 129.5,71.8 133.4,75.5 C137.4,79.2 141.1,84.7 143.2,90.0Z" fill="#1c3f86" opacity="1"/><g filter="url(#b2)"><clipPath id="c18_98_2"><path d="M143.2,90.0 C145.4,95.3 146.5,101.8 146.2,107.2 C146.0,112.7 144.2,118.5 141.6,122.6 C139.1,126.7 134.9,130.3 130.7,132.0 C126.4,133.7 121.0,134.0 116.3,132.9 C111.5,131.7 106.2,128.7 102.3,125.0 C98.3,121.3 94.6,115.8 92.5,110.5 C90.3,105.2 89.2,98.7 89.4,93.3 C89.7,87.8 91.5,82.0 94.0,77.9 C96.6,73.8 100.8,70.2 105.0,68.5 C109.3,66.8 114.7,66.5 119.4,67.6 C124.2,68.8 129.5,71.8 133.4,75.5 C137.4,79.2 141.1,84.7 143.2,90.0Z"/></clipPath><g clip-path="url(#c18_98_2)"><circle cx="144.6" cy="120.0" r="2.9" fill="#2752a0" opacity="0.23"/><circle cx="111.8" cy="123.4" r="3.9" fill="#0e2252" opacity="0.40"/><circle cx="101.6" cy="84.5" r="4.3" fill="#0e2252" opacity="0.25"/><circle cx="93.6" cy="73.5" r="3.7" fill="#0e2252" opacity="0.31"/><circle cx="110.6" cy="97.2" r="4.9" fill="#0e2252" opacity="0.31"/><circle cx="138.7" cy="79.6" r="2.5" fill="#2752a0" opacity="0.36"/><circle cx="103.6" cy="80.0" r="4.2" fill="#2752a0" opacity="0.22"/><circle cx="143.4" cy="125.2" r="3.8" fill="#0e2252" opacity="0.20"/><circle cx="91.6" cy="130.4" r="2.7" fill="#2752a0" opacity="0.24"/><circle cx="136.2" cy="106.5" r="2.9" fill="#0e2252" opacity="0.34"/><circle cx="93.4" cy="82.5" r="3.7" fill="#2752a0" opacity="0.32"/><circle cx="105.4" cy="127.5" r="2.6" fill="#0e2252" opacity="0.24"/><circle cx="114.8" cy="71.6" r="2.5" fill="#0e2252" opacity="0.31"/><circle cx="96.9" cy="91.3" r="4.7" fill="#2752a0" opacity="0.32"/></g></g><path d="M150.1,31.8 C150.1,34.3 149.4,37.2 148.2,39.4 C146.9,41.6 144.9,43.6 142.8,44.9 C140.7,46.2 137.9,46.9 135.5,46.9 C133.0,46.9 130.2,46.2 128.1,44.9 C126.0,43.6 124.0,41.6 122.7,39.4 C121.5,37.2 120.8,34.3 120.8,31.8 C120.8,29.3 121.5,26.4 122.7,24.2 C124.0,22.0 126.0,19.9 128.1,18.7 C130.2,17.4 133.0,16.6 135.5,16.6 C137.9,16.6 140.7,17.4 142.8,18.7 C144.9,19.9 146.9,22.0 148.2,24.2 C149.4,26.4 150.1,29.3 150.1,31.8Z" fill="#1d49a4" opacity="1"/><g filter="url(#b2)"><clipPath id="c18_98_3"><path d="M150.1,31.8 C150.1,34.3 149.4,37.2 148.2,39.4 C146.9,41.6 144.9,43.6 142.8,44.9 C140.7,46.2 137.9,46.9 135.5,46.9 C133.0,46.9 130.2,46.2 128.1,44.9 C126.0,43.6 124.0,41.6 122.7,39.4 C121.5,37.2 120.8,34.3 120.8,31.8 C120.8,29.3 121.5,26.4 122.7,24.2 C124.0,22.0 126.0,19.9 128.1,18.7 C130.2,17.4 133.0,16.6 135.5,16.6 C137.9,16.6 140.7,17.4 142.8,18.7 C144.9,19.9 146.9,22.0 148.2,24.2 C149.4,26.4 150.1,29.3 150.1,31.8Z"/></clipPath><g clip-path="url(#c18_98_3)"><circle cx="141.1" cy="34.3" r="2.4" fill="#102a68" opacity="0.19"/><circle cx="121.3" cy="44.2" r="4.1" fill="#102a68" opacity="0.39"/><circle cx="121.4" cy="35.9" r="3.4" fill="#102a68" opacity="0.34"/><circle cx="130.1" cy="46.9" r="2.2" fill="#102a68" opacity="0.30"/><circle cx="142.4" cy="43.9" r="4.2" fill="#102a68" opacity="0.33"/></g></g><path d="M9.8,97.8 C9.8,101.3 9.3,105.2 8.5,108.2 C7.7,111.2 6.3,114.1 4.9,115.8 C3.5,117.5 1.6,118.6 0.0,118.6 C-1.6,118.6 -3.5,117.5 -4.9,115.8 C-6.3,114.1 -7.7,111.2 -8.5,108.2 C-9.3,105.2 -9.8,101.3 -9.8,97.8 C-9.8,94.3 -9.3,90.4 -8.5,87.4 C-7.7,84.4 -6.3,81.5 -4.9,79.8 C-3.5,78.1 -1.6,77.0 -0.0,77.0 C1.6,77.0 3.5,78.1 4.9,79.8 C6.3,81.5 7.7,84.4 8.5,87.4 C9.3,90.4 9.8,94.3 9.8,97.8Z" fill="#1b3f86" opacity="1"/><circle cx="1.0" cy="95.4" r="2.20" fill="#38c8d8"/><ellipse cx="76.3" cy="155.7" rx="80.7" ry="6.4" fill="#0f1a3e" opacity="1" transform="rotate(0 76.3 155.7)"/><ellipse cx="142.3" cy="154.0" rx="11.0" ry="6.1" fill="#173a7c" opacity="1" transform="rotate(0 142.3 154.0)"/><ellipse cx="24.9" cy="154.0" rx="17.1" ry="4.4" fill="#142e66" opacity="1" transform="rotate(0 24.9 154.0)"/><circle cx="63.3" cy="120.4" r="1.01" fill="#2fbf3a" opacity="0.75"/><circle cx="20.7" cy="75.6" r="1.08" fill="#3ad23a" opacity="0.75"/><circle cx="25.7" cy="68.6" r="1.19" fill="#2fbf3a" opacity="0.75"/><circle cx="40.4" cy="118.7" r="1.21" fill="#3ad23a" opacity="0.75"/><circle cx="64.0" cy="41.9" r="0.84" fill="#3ad23a" opacity="0.75"/><circle cx="24.9" cy="78.3" r="0.86" fill="#45d84a" opacity="0.75"/><circle cx="75.9" cy="88.7" r="1.04" fill="#45d84a" opacity="0.75"/><circle cx="27.5" cy="91.9" r="0.84" fill="#3ad23a" opacity="0.75"/><circle cx="64.0" cy="120.3" r="0.83" fill="#3ad23a" opacity="0.75"/><circle cx="54.3" cy="125.0" r="0.79" fill="#2fbf3a" opacity="0.75"/><circle cx="27.5" cy="69.1" r="0.91" fill="#45d84a" opacity="0.75"/><circle cx="39.2" cy="42.0" r="1.00" fill="#2fbf3a" opacity="0.75"/><circle cx="75.2" cy="93.1" r="0.94" fill="#3ad23a" opacity="0.75"/><circle cx="60.5" cy="47.6" r="0.87" fill="#45d84a" opacity="0.75"/><circle cx="67.2" cy="101.7" r="1.03" fill="#2fbf3a" opacity="0.75"/><circle cx="73.0" cy="76.6" r="1.12" fill="#2fbf3a" opacity="0.75"/><circle cx="39.2" cy="123.3" r="0.81" fill="#2fbf3a" opacity="0.75"/><circle cx="44.2" cy="115.6" r="0.94" fill="#3ad23a" opacity="0.75"/><circle cx="73.6" cy="104.4" r="1.14" fill="#2fbf3a" opacity="0.75"/><circle cx="50.8" cy="41.7" r="1.17" fill="#3ad23a" opacity="0.75"/><circle cx="33.5" cy="116.6" r="0.90" fill="#45d84a" opacity="0.75"/><circle cx="69.7" cy="53.4" r="1.06" fill="#2fbf3a" opacity="0.75"/><circle cx="74.9" cy="81.8" r="0.77" fill="#45d84a" opacity="0.75"/><circle cx="70.5" cy="82.4" r="0.99" fill="#3ad23a" opacity="0.75"/><circle cx="64.5" cy="44.5" r="0.96" fill="#3ad23a" opacity="0.75"/><circle cx="30.0" cy="54.7" r="0.85" fill="#45d84a" opacity="0.75"/><circle cx="71.7" cy="56.6" r="1.08" fill="#3ad23a" opacity="0.75"/><circle cx="46.1" cy="120.2" r="0.83" fill="#2fbf3a" opacity="0.75"/><circle cx="23.1" cy="95.6" r="1.10" fill="#45d84a" opacity="0.75"/><circle cx="28.6" cy="57.3" r="0.89" fill="#3ad23a" opacity="0.75"/><circle cx="27.3" cy="61.3" r="1.02" fill="#2fbf3a" opacity="0.75"/><circle cx="71.3" cy="62.7" r="1.18" fill="#45d84a" opacity="0.75"/><circle cx="65.8" cy="57.3" r="1.10" fill="#2fbf3a" opacity="0.75"/><circle cx="36.3" cy="46.6" r="1.19" fill="#2fbf3a" opacity="0.75"/><circle cx="26.1" cy="67.1" r="1.13" fill="#2fbf3a" opacity="0.75"/><circle cx="33.9" cy="46.8" r="1.07" fill="#45d84a" opacity="0.75"/><circle cx="41.5" cy="122.4" r="1.17" fill="#45d84a" opacity="0.75"/><circle cx="43.2" cy="38.2" r="0.78" fill="#45d84a" opacity="0.75"/><circle cx="37.3" cy="42.5" r="0.82" fill="#3ad23a" opacity="0.8"/><circle cx="36.1" cy="22.3" r="0.94" fill="#2fbf3a" opacity="0.8"/><circle cx="44.9" cy="18.1" r="0.94" fill="#3ad23a" opacity="0.8"/><circle cx="33.0" cy="15.7" r="0.81" fill="#3ad23a" opacity="0.8"/><circle cx="22.3" cy="31.2" r="1.00" fill="#2fbf3a" opacity="0.8"/><circle cx="39.2" cy="33.5" r="1.19" fill="#3ad23a" opacity="0.8"/><circle cx="40.1" cy="15.8" r="0.89" fill="#3ad23a" opacity="0.8"/><circle cx="37.8" cy="49.5" r="1.18" fill="#3ad23a" opacity="0.8"/><circle cx="40.8" cy="24.5" r="0.92" fill="#3ad23a" opacity="0.8"/><circle cx="56.7" cy="47.1" r="0.84" fill="#2fbf3a" opacity="0.8"/><circle cx="51.0" cy="21.3" r="1.22" fill="#3ad23a" opacity="0.8"/><circle cx="38.3" cy="28.7" r="1.16" fill="#2fbf3a" opacity="0.8"/><circle cx="25.6" cy="18.1" r="0.87" fill="#3ad23a" opacity="0.8"/><circle cx="40.2" cy="37.3" r="0.93" fill="#2fbf3a" opacity="0.8"/><circle cx="26.9" cy="16.1" r="0.92" fill="#3ad23a" opacity="0.8"/><circle cx="49.8" cy="39.0" r="0.83" fill="#2fbf3a" opacity="0.8"/><circle cx="21.6" cy="17.4" r="0.98" fill="#3ad23a" opacity="0.8"/><circle cx="51.5" cy="48.0" r="1.06" fill="#2fbf3a" opacity="0.8"/><circle cx="31.7" cy="31.9" r="0.82" fill="#3ad23a" opacity="0.8"/><circle cx="42.2" cy="39.4" r="1.03" fill="#2fbf3a" opacity="0.8"/><circle cx="54.3" cy="29.9" r="1.07" fill="#3ad23a" opacity="0.8"/><circle cx="19.7" cy="13.5" r="0.88" fill="#2fbf3a" opacity="0.8"/><circle cx="33.8" cy="15.1" r="0.75" fill="#2fbf3a" opacity="0.8"/><circle cx="34.2" cy="38.1" r="0.89" fill="#3ad23a" opacity="0.8"/><circle cx="52.6" cy="25.0" r="0.92" fill="#2fbf3a" opacity="0.8"/><circle cx="36.9" cy="32.5" r="1.01" fill="#3ad23a" opacity="0.8"/><circle cx="33.2" cy="30.3" r="0.79" fill="#2fbf3a" opacity="0.8"/><circle cx="44.5" cy="38.5" r="0.86" fill="#3ad23a" opacity="0.8"/><circle cx="19.9" cy="13.6" r="0.99" fill="#3ad23a" opacity="0.8"/><circle cx="20.5" cy="45.7" r="0.84" fill="#2fbf3a" opacity="0.8"/><circle cx="41.4" cy="23.0" r="1.15" fill="#3ad23a" opacity="0.8"/><circle cx="22.8" cy="38.6" r="0.84" fill="#2fbf3a" opacity="0.8"/><circle cx="37.6" cy="14.1" r="0.95" fill="#3ad23a" opacity="0.8"/><circle cx="48.3" cy="21.1" r="0.80" fill="#3ad23a" opacity="0.8"/><circle cx="44.7" cy="120.7" r="0.99" fill="#45d84a" opacity="0.85"/><circle cx="45.2" cy="134.2" r="1.33" fill="#3ad23a" opacity="0.85"/><circle cx="71.8" cy="113.4" r="0.94" fill="#3ad23a" opacity="0.85"/><circle cx="44.9" cy="131.0" r="0.89" fill="#45d84a" opacity="0.85"/><circle cx="40.7" cy="121.4" r="1.25" fill="#3ad23a" opacity="0.85"/><circle cx="71.9" cy="134.0" r="1.22" fill="#45d84a" opacity="0.85"/><circle cx="57.6" cy="131.6" r="1.46" fill="#45d84a" opacity="0.85"/><circle cx="38.2" cy="107.4" r="1.13" fill="#45d84a" opacity="0.85"/><circle cx="43.9" cy="122.8" r="1.23" fill="#45d84a" opacity="0.85"/><circle cx="61.4" cy="120.1" r="0.89" fill="#3ad23a" opacity="0.85"/><circle cx="58.7" cy="120.8" r="0.75" fill="#45d84a" opacity="0.85"/><circle cx="47.3" cy="135.1" r="1.24" fill="#45d84a" opacity="0.85"/><circle cx="47.0" cy="131.3" r="1.46" fill="#45d84a" opacity="0.85"/><circle cx="70.4" cy="137.1" r="0.89" fill="#45d84a" opacity="0.85"/><circle cx="39.8" cy="124.0" r="1.29" fill="#3ad23a" opacity="0.85"/><circle cx="39.4" cy="126.1" r="0.97" fill="#3ad23a" opacity="0.85"/><circle cx="46.2" cy="133.9" r="1.02" fill="#45d84a" opacity="0.85"/><circle cx="55.2" cy="133.3" r="1.34" fill="#45d84a" opacity="0.85"/><circle cx="58.2" cy="107.8" r="1.41" fill="#45d84a" opacity="0.85"/><circle cx="65.5" cy="140.0" r="0.86" fill="#45d84a" opacity="0.85"/><circle cx="64.0" cy="128.6" r="1.15" fill="#3ad23a" opacity="0.85"/><circle cx="43.6" cy="117.9" r="1.08" fill="#45d84a" opacity="0.85"/><circle cx="59.9" cy="140.2" r="1.42" fill="#45d84a" opacity="0.85"/><circle cx="61.0" cy="140.2" r="1.34" fill="#3ad23a" opacity="0.85"/><circle cx="63.4" cy="117.9" r="1.04" fill="#3ad23a" opacity="0.85"/><circle cx="67.5" cy="124.6" r="1.37" fill="#3ad23a" opacity="0.85"/><circle cx="57.4" cy="137.8" r="0.78" fill="#3ad23a" opacity="0.85"/><circle cx="40.6" cy="117.1" r="1.04" fill="#3ad23a" opacity="0.85"/><circle cx="37.3" cy="111.4" r="1.05" fill="#45d84a" opacity="0.85"/><circle cx="61.0" cy="127.1" r="0.80" fill="#45d84a" opacity="0.85"/><circle cx="41.0" cy="136.6" r="0.82" fill="#45d84a" opacity="0.85"/><circle cx="70.2" cy="122.9" r="0.93" fill="#3ad23a" opacity="0.85"/><circle cx="71.7" cy="113.7" r="1.43" fill="#45d84a" opacity="0.85"/><circle cx="57.5" cy="109.0" r="1.07" fill="#45d84a" opacity="0.85"/><circle cx="31.1" cy="68.7" r="0.77" fill="#3aa860" opacity="0.6"/><circle cx="45.7" cy="49.4" r="0.84" fill="#3aa860" opacity="0.6"/><circle cx="57.3" cy="52.8" r="0.92" fill="#3aa860" opacity="0.6"/><circle cx="62.8" cy="80.1" r="0.94" fill="#3aa860" opacity="0.6"/><circle cx="50.7" cy="59.4" r="0.80" fill="#3aa860" opacity="0.6"/><circle cx="65.3" cy="70.6" r="0.88" fill="#3aa860" opacity="0.6"/><circle cx="65.8" cy="93.8" r="0.76" fill="#3aa860" opacity="0.6"/><circle cx="37.1" cy="59.9" r="0.73" fill="#3aa860" opacity="0.6"/><circle cx="30.2" cy="73.4" r="0.79" fill="#3aa860" opacity="0.6"/><circle cx="28.4" cy="75.1" r="0.81" fill="#3aa860" opacity="0.6"/><circle cx="30.6" cy="67.8" r="0.85" fill="#3aa860" opacity="0.6"/><circle cx="41.2" cy="93.9" r="0.98" fill="#3aa860" opacity="0.6"/><circle cx="44.5" cy="87.6" r="0.95" fill="#3aa860" opacity="0.6"/><circle cx="44.9" cy="70.7" r="0.80" fill="#3aa860" opacity="0.6"/><circle cx="68.9" cy="149.1" r="1.22" fill="#3ad23a"/><circle cx="29.8" cy="2.4" r="1.22" fill="#3ad23a"/><circle cx="24.9" cy="84.4" r="1.71" fill="#3ad23a"/><circle cx="18.8" cy="13.4" r="1.22" fill="#3ad23a"/><circle cx="27.4" cy="19.6" r="1.22" fill="#3ad23a"/><circle cx="31.1" cy="22.0" r="1.22" fill="#3ad23a"/><circle cx="34.2" cy="23.7" r="1.22" fill="#3ad23a"/><circle cx="35.9" cy="25.7" r="1.22" fill="#3ad23a"/></g>
<g filter="url(#bt)"><rect x="23.0" y="14.7" width="17.1" height="16.6" fill="none" stroke="#f2f2f2" stroke-width="1.3"/><rect x="7.3" y="140.6" width="47.7" height="3.7" fill="#ffffff"/><text x="81.7" y="146.0" font-size="19" fill="#f4f4f4" textLength="63.1" lengthAdjust="spacingAndGlyphs">Control</text></g>
</svg>
<svg x="18.4" y="259.4" width="151.6" height="151.6" viewBox="0 0 151.6 151.6">
<rect x="-1" y="-1" width="153.6" height="153.6" fill="#050509"/>
<g filter="url(#b1)"><path d="M86.1,50.6 C89.5,50.4 94.8,50.4 98.3,53.1 C101.8,55.7 104.9,61.0 106.8,66.5 C108.8,72.0 110.0,80.0 110.0,86.1 C110.0,92.2 109.0,98.7 106.8,103.2 C104.7,107.7 101.3,111.1 97.1,113.0 C92.8,114.8 85.5,115.8 81.2,114.2 C76.9,112.6 73.4,108.3 71.4,103.2 C69.4,98.1 68.9,90.1 68.9,83.6 C68.9,77.1 70.0,68.9 71.4,64.1 C72.8,59.2 75.1,56.5 77.5,54.3 C80.0,52.0 82.6,50.8 86.1,50.6Z" fill="#1a4cc0" opacity="1"/><g filter="url(#b2)"><clipPath id="c18_259_1"><path d="M86.1,50.6 C89.5,50.4 94.8,50.4 98.3,53.1 C101.8,55.7 104.9,61.0 106.8,66.5 C108.8,72.0 110.0,80.0 110.0,86.1 C110.0,92.2 109.0,98.7 106.8,103.2 C104.7,107.7 101.3,111.1 97.1,113.0 C92.8,114.8 85.5,115.8 81.2,114.2 C76.9,112.6 73.4,108.3 71.4,103.2 C69.4,98.1 68.9,90.1 68.9,83.6 C68.9,77.1 70.0,68.9 71.4,64.1 C72.8,59.2 75.1,56.5 77.5,54.3 C80.0,52.0 82.6,50.8 86.1,50.6Z"/></clipPath><g clip-path="url(#c18_259_1)"><circle cx="88.4" cy="92.4" r="4.0" fill="#0f2f88" opacity="0.21"/><circle cx="69.4" cy="74.4" r="2.8" fill="#0f2f88" opacity="0.36"/><circle cx="97.3" cy="88.8" r="3.7" fill="#0f2f88" opacity="0.33"/><circle cx="74.9" cy="78.6" r="2.5" fill="#0f2f88" opacity="0.38"/><circle cx="71.4" cy="102.7" r="2.2" fill="#0f2f88" opacity="0.33"/><circle cx="82.8" cy="76.3" r="4.5" fill="#0f2f88" opacity="0.18"/><circle cx="71.4" cy="108.8" r="3.5" fill="#0f2f88" opacity="0.20"/><circle cx="109.5" cy="110.8" r="2.3" fill="#0f2f88" opacity="0.27"/></g></g><path d="M8.6,93.4 C8.6,98.5 8.0,104.3 7.0,108.7 C6.0,113.1 4.4,117.3 2.7,119.9 C1.0,122.4 -1.2,124.0 -3.2,124.0 C-5.1,124.0 -7.4,122.4 -9.0,119.9 C-10.7,117.3 -12.4,113.1 -13.3,108.7 C-14.3,104.3 -14.9,98.5 -14.9,93.4 C-14.9,88.3 -14.3,82.5 -13.3,78.1 C-12.4,73.7 -10.7,69.5 -9.0,66.9 C-7.4,64.4 -5.1,62.8 -3.2,62.8 C-1.2,62.8 1.0,64.4 2.7,66.9 C4.4,69.5 6.0,73.7 7.0,78.1 C8.0,82.5 8.6,88.3 8.6,93.4Z" fill="#1a4cc0" opacity="1"/><path d="M161.9,4.2 C161.9,6.6 161.2,9.4 160.1,11.5 C158.9,13.6 157.1,15.6 155.1,16.9 C153.2,18.1 150.7,18.8 148.4,18.8 C146.2,18.8 143.6,18.1 141.7,16.9 C139.7,15.6 137.9,13.6 136.8,11.5 C135.6,9.4 135.0,6.6 135.0,4.2 C135.0,1.7 135.6,-1.1 136.8,-3.2 C137.9,-5.3 139.7,-7.3 141.7,-8.5 C143.6,-9.8 146.2,-10.5 148.4,-10.5 C150.7,-10.5 153.2,-9.8 155.1,-8.5 C157.1,-7.3 158.9,-5.3 160.1,-3.2 C161.2,-1.1 161.9,1.7 161.9,4.2Z" fill="#1a4cc0" opacity="1"/><ellipse cx="128.9" cy="16.4" rx="11.0" ry="7.8" fill="#143a86" opacity="1" transform="rotate(-15 128.9 16.4)"/><ellipse cx="50.6" cy="38.4" rx="7.8" ry="3.4" fill="#143a86" opacity="1" transform="rotate(-30 50.6 38.4)"/><ellipse cx="57.9" cy="24.9" rx="2.9" ry="2.4" fill="#123070" opacity="1" transform="rotate(0 57.9 24.9)"/><ellipse cx="45.7" cy="44.5" rx="3.4" ry="2.2" fill="#143a86" opacity="1" transform="rotate(0 45.7 44.5)"/><ellipse cx="9.0" cy="27.4" rx="5.4" ry="2.4" fill="#102a66" opacity="1" transform="rotate(0 9.0 27.4)"/><ellipse cx="5.4" cy="18.8" rx="2.4" ry="2.0" fill="#102a66" opacity="1" transform="rotate(0 5.4 18.8)"/><circle cx="116.6" cy="27.4" r="1.71" fill="#12306e"/><circle cx="120.3" cy="35.9" r="1.71" fill="#12306e"/><circle cx="110.5" cy="51.8" r="1.71" fill="#12306e"/><circle cx="132.5" cy="113.0" r="1.71" fill="#12306e"/><circle cx="139.9" cy="117.8" r="1.71" fill="#12306e"/><circle cx="144.7" cy="125.2" r="1.71" fill="#12306e"/><circle cx="142.3" cy="106.8" r="1.71" fill="#12306e"/><circle cx="124.0" cy="117.8" r="1.71" fill="#12306e"/><circle cx="27.4" cy="117.8" r="1.71" fill="#12306e"/><circle cx="51.8" cy="116.6" r="1.71" fill="#12306e"/><circle cx="39.6" cy="33.5" r="1.71" fill="#12306e"/><circle cx="67.7" cy="6.6" r="1.71" fill="#12306e"/><circle cx="76.3" cy="2.9" r="1.71" fill="#12306e"/><circle cx="93.4" cy="6.6" r="1.71" fill="#12306e"/><circle cx="147.2" cy="57.9" r="1.71" fill="#12306e"/><circle cx="131.3" cy="86.1" r="1.71" fill="#12306e"/><circle cx="80.0" cy="44.5" r="3.18" fill="#efe22a"/><circle cx="68.9" cy="48.2" r="1.71" fill="#efe22a"/><circle cx="62.8" cy="53.1" r="1.47" fill="#efe22a"/><circle cx="98.3" cy="40.8" r="1.71" fill="#efe22a"/><circle cx="96.3" cy="48.2" r="1.96" fill="#efe22a"/><circle cx="64.8" cy="32.3" r="1.96" fill="#efe22a"/><circle cx="80.0" cy="21.3" r="1.71" fill="#efe22a"/><circle cx="71.4" cy="16.4" r="1.47" fill="#efe22a"/><circle cx="66.5" cy="72.6" r="1.96" fill="#efe22a"/><circle cx="114.2" cy="75.8" r="2.93" fill="#efe22a"/><circle cx="121.5" cy="79.2" r="2.44" fill="#efe22a"/><circle cx="108.1" cy="67.7" r="1.71" fill="#efe22a"/><circle cx="62.8" cy="92.2" r="2.20" fill="#efe22a"/><circle cx="64.8" cy="95.4" r="1.96" fill="#efe22a"/><circle cx="55.5" cy="97.1" r="1.22" fill="#efe22a"/><circle cx="110.5" cy="93.4" r="1.71" fill="#efe22a"/><circle cx="111.0" cy="98.8" r="1.71" fill="#efe22a"/><circle cx="119.1" cy="96.3" r="1.47" fill="#efe22a"/><circle cx="123.2" cy="102.4" r="1.47" fill="#efe22a"/><circle cx="81.7" cy="115.4" r="2.44" fill="#efe22a"/><circle cx="96.3" cy="112.2" r="2.44" fill="#efe22a"/><circle cx="84.8" cy="123.2" r="1.96" fill="#efe22a"/><circle cx="95.8" cy="124.4" r="2.20" fill="#efe22a"/><circle cx="54.3" cy="88.5" r="0.98" fill="#efe22a"/><circle cx="130.1" cy="81.7" r="0.98" fill="#efe22a"/><circle cx="76.3" cy="28.6" r="1.22" fill="#efe22a"/><circle cx="61.6" cy="84.8" r="1.22" fill="#efe22a"/><circle cx="103.2" cy="122.7" r="1.22" fill="#efe22a"/><circle cx="117.8" cy="105.6" r="1.22" fill="#efe22a"/><circle cx="88.5" cy="117.8" r="1.22" fill="#efe22a"/><circle cx="66.0" cy="110.5" r="2.20" fill="#efe22a"/><circle cx="68.9" cy="113.4" r="2.44" fill="#efe22a"/><circle cx="72.6" cy="115.9" r="2.20" fill="#efe22a"/><circle cx="75.1" cy="117.8" r="1.71" fill="#efe22a"/><circle cx="60.4" cy="68.5" r="1.71" fill="#3ad23a"/><circle cx="106.8" cy="67.0" r="1.47" fill="#3ad23a"/><circle cx="62.1" cy="76.3" r="1.22" fill="#3ad23a"/><circle cx="70.2" cy="25.4" r="2.69" fill="#f08a22"/><circle cx="111.7" cy="114.7" r="2.20" fill="#f08a22"/><circle cx="109.8" cy="119.6" r="1.96" fill="#f08a22"/><circle cx="135.0" cy="12.7" r="1.71" fill="#f08a22"/><circle cx="144.7" cy="20.0" r="1.71" fill="#f08a22"/><circle cx="80.0" cy="24.4" r="1.47" fill="#f08a22"/><circle cx="68.9" cy="21.3" r="1.22" fill="#e8222c"/><circle cx="57.9" cy="61.6" r="0.98" fill="#e8222c"/><circle cx="62.3" cy="54.3" r="0.98" fill="#e8222c"/><circle cx="66.5" cy="125.2" r="0.98" fill="#e8222c"/><circle cx="147.7" cy="23.7" r="0.98" fill="#e8222c"/><circle cx="0.5" cy="121.5" r="1.22" fill="#e8222c"/></g>
<g filter="url(#bt)"><rect x="58.4" y="104.9" width="19.1" height="18.6" fill="none" stroke="#f2f2f2" stroke-width="1.3"/><text x="68.9" y="146.0" font-size="19" fill="#f4f4f4" textLength="75.8" lengthAdjust="spacingAndGlyphs">Poly(I:C)</text></g>
</svg>
<svg x="18.4" y="419.9" width="151.6" height="151.6" viewBox="0 0 151.6 151.6">
<rect x="-1" y="-1" width="153.6" height="153.6" fill="#050508"/>
<g filter="url(#b1)"><path d="M68.9,52.6 C71.8,50.6 75.8,49.2 78.7,49.4 C81.7,49.6 84.4,51.2 86.6,53.8 C88.7,56.4 89.1,61.3 91.4,64.8 C93.8,68.3 97.9,71.1 100.7,74.6 C103.6,78.0 107.5,81.3 108.6,85.6 C109.6,89.9 108.6,95.8 106.8,100.2 C105.1,104.7 101.5,109.4 98.3,112.5 C95.0,115.5 91.4,117.8 87.3,118.6 C83.2,119.4 77.7,119.2 73.8,117.4 C70.0,115.5 66.4,111.7 64.1,107.6 C61.7,103.5 60.6,98.2 59.7,92.9 C58.8,87.6 58.4,81.1 58.7,75.8 C59.0,70.5 59.9,65.0 61.6,61.1 C63.3,57.3 66.1,54.5 68.9,52.6Z" fill="#173f9e" opacity="1"/><g filter="url(#b2)"><clipPath id="c18_419_1"><path d="M68.9,52.6 C71.8,50.6 75.8,49.2 78.7,49.4 C81.7,49.6 84.4,51.2 86.6,53.8 C88.7,56.4 89.1,61.3 91.4,64.8 C93.8,68.3 97.9,71.1 100.7,74.6 C103.6,78.0 107.5,81.3 108.6,85.6 C109.6,89.9 108.6,95.8 106.8,100.2 C105.1,104.7 101.5,109.4 98.3,112.5 C95.0,115.5 91.4,117.8 87.3,118.6 C83.2,119.4 77.7,119.2 73.8,117.4 C70.0,115.5 66.4,111.7 64.1,107.6 C61.7,103.5 60.6,98.2 59.7,92.9 C58.8,87.6 58.4,81.1 58.7,75.8 C59.0,70.5 59.9,65.0 61.6,61.1 C63.3,57.3 66.1,54.5 68.9,52.6Z"/></clipPath><g clip-path="url(#c18_419_1)"><circle cx="71.6" cy="96.8" r="4.1" fill="#0c2a70" opacity="0.37"/><circle cx="67.9" cy="65.3" r="2.4" fill="#0c2a70" opacity="0.23"/><circle cx="95.3" cy="58.4" r="3.6" fill="#0c2a70" opacity="0.23"/><circle cx="73.4" cy="79.3" r="4.5" fill="#0c2a70" opacity="0.31"/><circle cx="59.4" cy="68.5" r="2.4" fill="#0c2a70" opacity="0.37"/><circle cx="99.1" cy="105.2" r="4.5" fill="#0c2a70" opacity="0.34"/><circle cx="106.0" cy="104.3" r="2.8" fill="#0c2a70" opacity="0.37"/><circle cx="83.0" cy="101.6" r="3.7" fill="#0c2a70" opacity="0.27"/><circle cx="76.8" cy="79.1" r="2.9" fill="#0c2a70" opacity="0.21"/></g></g><ellipse cx="81.7" cy="72.9" rx="2.4" ry="2.9" fill="#0a1c50" opacity="1" transform="rotate(0 81.7 72.9)"/><ellipse cx="34.2" cy="102.7" rx="2.0" ry="11.0" fill="#12306e" opacity="1" transform="rotate(15 34.2 102.7)"/><ellipse cx="26.2" cy="59.9" rx="3.4" ry="1.5" fill="#102a60" opacity="1" transform="rotate(-30 26.2 59.9)"/><ellipse cx="42.1" cy="141.8" rx="2.9" ry="2.0" fill="#0e2456" opacity="1" transform="rotate(0 42.1 141.8)"/><ellipse cx="144.7" cy="114.9" rx="3.4" ry="4.4" fill="#0c1e48" opacity="1" transform="rotate(0 144.7 114.9)"/><circle cx="70.2" cy="26.9" r="1.96" fill="#efe22a"/><circle cx="64.1" cy="34.2" r="1.96" fill="#efe22a"/><circle cx="80.0" cy="36.7" r="2.20" fill="#efe22a"/><circle cx="60.4" cy="46.5" r="2.69" fill="#efe22a"/><circle cx="88.5" cy="45.2" r="2.69" fill="#efe22a"/><circle cx="89.7" cy="37.9" r="1.47" fill="#efe22a"/><circle cx="98.3" cy="35.5" r="1.47" fill="#efe22a"/><circle cx="110.5" cy="25.7" r="2.44" fill="#efe22a"/><circle cx="116.6" cy="40.3" r="1.96" fill="#efe22a"/><circle cx="125.2" cy="50.1" r="2.44" fill="#efe22a"/><circle cx="116.6" cy="73.3" r="1.71" fill="#efe22a"/><circle cx="125.2" cy="103.9" r="1.71" fill="#efe22a"/><circle cx="135.0" cy="106.4" r="1.47" fill="#efe22a"/><circle cx="55.5" cy="114.9" r="1.47" fill="#efe22a"/><circle cx="60.4" cy="106.4" r="1.47" fill="#efe22a"/><circle cx="49.4" cy="15.9" r="1.22" fill="#efe22a"/><circle cx="55.5" cy="18.3" r="1.22" fill="#efe22a"/><circle cx="78.7" cy="143.0" r="1.47" fill="#efe22a"/><ellipse cx="104.4" cy="56.2" rx="3.18" ry="1.96" fill="#efe22a" transform="rotate(55 104.4 56.2)"/><ellipse cx="105.6" cy="101.5" rx="4.16" ry="2.20" fill="#efe22a" transform="rotate(-55 105.6 101.5)"/><ellipse cx="70.2" cy="119.1" rx="3.67" ry="1.96" fill="#efe22a" transform="rotate(-35 70.2 119.1)"/><circle cx="16.4" cy="2.4" r="1.47" fill="#e8222c"/><circle cx="20.0" cy="13.4" r="0.98" fill="#e8222c"/><circle cx="32.3" cy="14.7" r="0.98" fill="#e8222c"/><circle cx="46.9" cy="70.9" r="0.98" fill="#e8222c"/><circle cx="70.2" cy="136.9" r="1.47" fill="#e8222c"/><circle cx="108.1" cy="39.1" r="1.22" fill="#e8222c"/><circle cx="87.3" cy="121.0" r="0.98" fill="#e8222c"/><circle cx="54.3" cy="100.2" r="0.98" fill="#e8222c"/><circle cx="106.8" cy="45.2" r="0.98" fill="#e8222c"/><circle cx="117.8" cy="75.8" r="1.22" fill="#e8222c"/><circle cx="110.5" cy="61.1" r="0.98" fill="#e8222c"/><circle cx="76.3" cy="127.1" r="0.98" fill="#e8222c"/><circle cx="113.0" cy="129.6" r="0.98" fill="#e8222c"/><circle cx="100.7" cy="144.3" r="0.98" fill="#e8222c"/><circle cx="107.6" cy="80.7" r="0.98" fill="#e8e8ff"/></g>
<g filter="url(#bt)"><rect x="62.3" y="110.0" width="18.8" height="18.3" fill="none" stroke="#f2f2f2" stroke-width="1.3"/><text x="109.3" y="146.7" font-size="19" fill="#f4f4f4" textLength="35.5" lengthAdjust="spacingAndGlyphs">SeV</text></g>
</svg>
<svg x="19.5" y="580.9" width="152" height="151.6" viewBox="0 0 152 151.6">
<rect x="-1" y="-1" width="154" height="153.6" fill="#050508"/>
<g filter="url(#b1)"><path d="M39.2,25.7 C39.2,31.0 37.8,37.0 35.4,41.6 C33.0,46.2 29.0,50.6 24.8,53.2 C20.7,55.8 15.2,57.5 10.4,57.5 C5.6,57.5 0.1,55.8 -4.0,53.2 C-8.2,50.6 -12.2,46.2 -14.6,41.6 C-17.0,37.0 -18.5,31.0 -18.5,25.7 C-18.5,20.4 -17.0,14.4 -14.6,9.8 C-12.2,5.2 -8.2,0.8 -4.0,-1.9 C0.1,-4.5 5.6,-6.1 10.4,-6.1 C15.2,-6.1 20.7,-4.5 24.8,-1.9 C29.0,0.8 33.0,5.2 35.4,9.8 C37.8,14.4 39.2,20.4 39.2,25.7Z" fill="#1c47a5" opacity="1"/><g filter="url(#b2)"><clipPath id="c19_580_1"><path d="M39.2,25.7 C39.2,31.0 37.8,37.0 35.4,41.6 C33.0,46.2 29.0,50.6 24.8,53.2 C20.7,55.8 15.2,57.5 10.4,57.5 C5.6,57.5 0.1,55.8 -4.0,53.2 C-8.2,50.6 -12.2,46.2 -14.6,41.6 C-17.0,37.0 -18.5,31.0 -18.5,25.7 C-18.5,20.4 -17.0,14.4 -14.6,9.8 C-12.2,5.2 -8.2,0.8 -4.0,-1.9 C0.1,-4.5 5.6,-6.1 10.4,-6.1 C15.2,-6.1 20.7,-4.5 24.8,-1.9 C29.0,0.8 33.0,5.2 35.4,9.8 C37.8,14.4 39.2,20.4 39.2,25.7Z"/></clipPath><g clip-path="url(#c19_580_1)"><circle cx="-12.3" cy="38.6" r="4.0" fill="#0e2a70" opacity="0.39"/><circle cx="-2.8" cy="10.1" r="4.2" fill="#0e2a70" opacity="0.32"/><circle cx="-1.0" cy="37.4" r="3.2" fill="#0e2a70" opacity="0.35"/><circle cx="-11.6" cy="8.1" r="4.7" fill="#0e2a70" opacity="0.26"/><circle cx="-3.4" cy="45.0" r="3.9" fill="#0e2a70" opacity="0.21"/><circle cx="13.4" cy="36.1" r="2.5" fill="#0e2a70" opacity="0.32"/><circle cx="-11.4" cy="15.3" r="2.2" fill="#0e2a70" opacity="0.22"/><circle cx="38.0" cy="19.5" r="5.0" fill="#0e2a70" opacity="0.28"/><circle cx="16.6" cy="49.4" r="4.1" fill="#0e2a70" opacity="0.20"/><circle cx="15.5" cy="34.2" r="2.5" fill="#0e2a70" opacity="0.20"/></g></g><path d="M43.4,61.1 C43.4,57.0 45.8,51.8 49.5,47.7 C53.2,43.6 59.1,39.1 65.4,36.7 C71.7,34.2 80.1,32.4 87.4,33.0 C94.7,33.6 103.3,37.1 109.4,40.3 C115.5,43.6 120.4,48.3 124.1,52.6 C127.8,56.8 131.0,61.9 131.4,66.0 C131.8,70.1 129.8,74.6 126.5,77.0 C123.3,79.5 116.7,81.1 111.9,80.7 C107.0,80.3 102.5,76.2 97.2,74.6 C91.9,72.9 85.8,71.1 80.1,70.9 C74.4,70.7 68.1,73.1 63.0,73.3 C57.9,73.6 52.8,74.2 49.5,72.1 C46.3,70.1 43.4,65.2 43.4,61.1Z" fill="#1f4aa8" opacity="1"/><g filter="url(#b2)"><clipPath id="c19_580_2"><path d="M43.4,61.1 C43.4,57.0 45.8,51.8 49.5,47.7 C53.2,43.6 59.1,39.1 65.4,36.7 C71.7,34.2 80.1,32.4 87.4,33.0 C94.7,33.6 103.3,37.1 109.4,40.3 C115.5,43.6 120.4,48.3 124.1,52.6 C127.8,56.8 131.0,61.9 131.4,66.0 C131.8,70.1 129.8,74.6 126.5,77.0 C123.3,79.5 116.7,81.1 111.9,80.7 C107.0,80.3 102.5,76.2 97.2,74.6 C91.9,72.9 85.8,71.1 80.1,70.9 C74.4,70.7 68.1,73.1 63.0,73.3 C57.9,73.6 52.8,74.2 49.5,72.1 C46.3,70.1 43.4,65.2 43.4,61.1Z"/></clipPath><g clip-path="url(#c19_580_2)"><circle cx="120.4" cy="57.5" r="2.6" fill="#102c72" opacity="0.28"/><circle cx="62.6" cy="71.1" r="3.5" fill="#102c72" opacity="0.20"/><circle cx="115.4" cy="37.3" r="2.8" fill="#102c72" opacity="0.19"/><circle cx="108.6" cy="38.4" r="3.6" fill="#102c72" opacity="0.20"/><circle cx="85.7" cy="65.7" r="3.6" fill="#102c72" opacity="0.28"/><circle cx="86.1" cy="53.8" r="3.8" fill="#102c72" opacity="0.20"/><circle cx="85.2" cy="44.3" r="4.6" fill="#102c72" opacity="0.39"/><circle cx="49.2" cy="39.8" r="4.1" fill="#102c72" opacity="0.31"/><circle cx="45.1" cy="66.6" r="4.8" fill="#102c72" opacity="0.27"/><circle cx="74.0" cy="60.2" r="4.8" fill="#102c72" opacity="0.24"/></g></g><path d="M162.0,1.2 C162.0,4.7 160.8,8.6 158.9,11.6 C156.9,14.6 153.7,17.5 150.4,19.2 C147.0,21.0 142.6,22.0 138.8,22.0 C134.9,22.0 130.5,21.0 127.1,19.2 C123.8,17.5 120.6,14.6 118.6,11.6 C116.7,8.6 115.5,4.7 115.5,1.2 C115.5,-2.2 116.7,-6.2 118.6,-9.2 C120.6,-12.2 123.8,-15.0 127.1,-16.8 C130.5,-18.5 134.9,-19.6 138.8,-19.6 C142.6,-19.6 147.0,-18.5 150.4,-16.8 C153.7,-15.0 156.9,-12.2 158.9,-9.2 C160.8,-6.2 162.0,-2.2 162.0,1.2Z" fill="#1c47a5" opacity="1"/><ellipse cx="104.5" cy="-1.2" rx="14.7" ry="9.8" fill="#1c47a5" opacity="1" transform="rotate(0 104.5 -1.2)"/><path d="M82.5,154.0 C82.5,156.5 81.8,159.3 80.6,161.4 C79.3,163.5 77.3,165.5 75.2,166.7 C73.1,168.0 70.3,168.7 67.8,168.7 C65.4,168.7 62.6,168.0 60.5,166.7 C58.4,165.5 56.4,163.5 55.1,161.4 C53.9,159.3 53.2,156.5 53.2,154.0 C53.2,151.6 53.9,148.8 55.1,146.7 C56.4,144.6 58.4,142.6 60.5,141.3 C62.6,140.1 65.4,139.4 67.8,139.4 C70.3,139.4 73.1,140.1 75.2,141.3 C77.3,142.6 79.3,144.6 80.6,146.7 C81.8,148.8 82.5,151.6 82.5,154.0Z" fill="#1d45a0" opacity="1"/><circle cx="41.0" cy="6.1" r="2.69" fill="#e8222c"/><circle cx="33.6" cy="41.6" r="2.44" fill="#e8222c"/><circle cx="36.1" cy="50.1" r="2.20" fill="#e8222c"/><circle cx="21.4" cy="53.8" r="2.20" fill="#e8222c"/><circle cx="11.6" cy="66.0" r="2.44" fill="#e8222c"/><circle cx="5.5" cy="70.9" r="2.69" fill="#e8222c"/><circle cx="15.3" cy="73.3" r="2.20" fill="#e8222c"/><circle cx="52.0" cy="41.6" r="1.71" fill="#e8222c"/><circle cx="9.2" cy="95.4" r="1.96" fill="#e8222c"/><circle cx="18.9" cy="106.4" r="1.96" fill="#e8222c"/><circle cx="21.4" cy="110.0" r="1.71" fill="#e8222c"/><circle cx="36.1" cy="122.2" r="1.96" fill="#e8222c"/><circle cx="37.3" cy="128.4" r="1.96" fill="#e8222c"/><circle cx="60.5" cy="129.6" r="2.44" fill="#e8222c"/><circle cx="99.6" cy="117.4" r="2.20" fill="#e8222c"/><circle cx="103.3" cy="118.6" r="2.20" fill="#e8222c"/><circle cx="119.2" cy="117.4" r="2.44" fill="#e8222c"/><circle cx="146.1" cy="123.5" r="2.44" fill="#e8222c"/><circle cx="148.5" cy="141.8" r="2.93" fill="#e8222c"/><circle cx="138.8" cy="75.8" r="1.96" fill="#e8222c"/><circle cx="135.1" cy="80.7" r="1.96" fill="#e8222c"/><circle cx="131.4" cy="127.1" r="1.47" fill="#e8222c"/><circle cx="1.8" cy="26.9" r="1.22" fill="#e8222c"/><circle cx="6.7" cy="19.6" r="1.22" fill="#e8222c"/><circle cx="43.4" cy="26.9" r="1.47" fill="#e8222c"/><circle cx="120.4" cy="12.2" r="1.47" fill="#e8222c"/><circle cx="129.0" cy="17.1" r="1.22" fill="#e8222c"/><circle cx="146.1" cy="46.5" r="1.47" fill="#e8222c"/><circle cx="143.6" cy="39.1" r="1.22" fill="#e8222c"/><circle cx="43.4" cy="106.4" r="1.71" fill="#e8222c"/><circle cx="50.7" cy="117.4" r="1.47" fill="#e8222c"/><circle cx="80.1" cy="107.6" r="1.22" fill="#e8222c"/><circle cx="9.2" cy="102.7" r="1.47" fill="#e8222c"/><circle cx="16.5" cy="128.4" r="1.22" fill="#e8222c"/><ellipse cx="86.9" cy="121.8" rx="3.67" ry="1.96" fill="#e8222c" transform="rotate(-20 86.9 121.8)"/><ellipse cx="53.2" cy="148.7" rx="3.42" ry="2.20" fill="#e8222c" transform="rotate(-45 53.2 148.7)"/><ellipse cx="39.7" cy="102.7" rx="2.44" ry="1.22" fill="#e8222c" transform="rotate(20 39.7 102.7)"/><circle cx="65.4" cy="22.5" r="2.20" fill="#efe22a"/><circle cx="34.8" cy="79.5" r="2.20" fill="#efe22a"/><circle cx="39.0" cy="85.1" r="1.96" fill="#efe22a"/><circle cx="139.2" cy="61.6" r="2.20" fill="#efe22a"/><circle cx="141.7" cy="68.5" r="1.96" fill="#efe22a"/><circle cx="105.7" cy="31.8" r="1.47" fill="#efe22a"/><circle cx="31.2" cy="100.2" r="1.47" fill="#efe22a"/><circle cx="67.8" cy="25.7" r="1.71" fill="#e8222c"/><circle cx="103.3" cy="32.3" r="1.96" fill="#e8222c"/><circle cx="36.1" cy="75.8" r="1.47" fill="#e8222c"/><circle cx="42.2" cy="86.8" r="1.47" fill="#e8222c"/><circle cx="137.5" cy="59.2" r="1.47" fill="#e8222c"/><circle cx="140.0" cy="71.4" r="1.71" fill="#e8222c"/><circle cx="18.9" cy="110.0" r="1.22" fill="#e8222c"/><circle cx="108.2" cy="28.1" r="1.71" fill="#3ad23a"/><circle cx="115.5" cy="37.9" r="1.47" fill="#3ad23a"/><circle cx="111.9" cy="41.6" r="1.22" fill="#3ad23a"/><circle cx="126.5" cy="94.1" r="1.71" fill="#3ad23a"/><circle cx="111.9" cy="94.1" r="1.47" fill="#3ad23a"/><circle cx="92.3" cy="102.7" r="1.47" fill="#3ad23a"/><circle cx="93.5" cy="100.2" r="1.22" fill="#3ad23a"/><circle cx="48.3" cy="114.9" r="1.47" fill="#3ad23a"/><circle cx="54.4" cy="121.0" r="1.47" fill="#3ad23a"/><circle cx="32.4" cy="77.0" r="1.47" fill="#3ad23a"/><circle cx="37.3" cy="81.9" r="1.22" fill="#3ad23a"/><circle cx="119.2" cy="24.4" r="0.98" fill="#3ad23a"/><circle cx="133.9" cy="14.7" r="0.98" fill="#3ad23a"/><circle cx="81.3" cy="29.3" r="0.98" fill="#3ad23a"/><circle cx="50.7" cy="47.7" r="0.98" fill="#3ad23a"/><circle cx="48.3" cy="81.9" r="0.98" fill="#3ad23a"/><circle cx="55.6" cy="84.4" r="0.98" fill="#3ad23a"/><circle cx="67.8" cy="94.1" r="0.98" fill="#3ad23a"/><circle cx="75.2" cy="110.0" r="0.98" fill="#3ad23a"/><circle cx="82.5" cy="112.5" r="0.98" fill="#3ad23a"/><circle cx="104.5" cy="107.6" r="0.98" fill="#3ad23a"/><circle cx="121.6" cy="102.7" r="0.98" fill="#3ad23a"/><circle cx="126.5" cy="85.6" r="1.22" fill="#3ad23a"/><circle cx="135.1" cy="83.1" r="1.22" fill="#3ad23a"/><circle cx="26.3" cy="128.4" r="1.22" fill="#3ad23a"/><circle cx="11.6" cy="110.0" r="0.98" fill="#3ad23a"/><circle cx="15.3" cy="89.2" r="0.98" fill="#3ad23a"/><circle cx="7.9" cy="97.8" r="0.98" fill="#3ad23a"/><circle cx="75.2" cy="106.4" r="0.98" fill="#3ad23a"/><circle cx="142.4" cy="45.2" r="0.98" fill="#3ad23a"/><circle cx="141.2" cy="33.0" r="0.98" fill="#3ad23a"/></g>
<g filter="url(#bt)"><rect x="28.2" y="92.9" width="18.8" height="18.3" fill="none" stroke="#f2f2f2" stroke-width="1.3"/><rect x="6.2" y="141.3" width="47.7" height="3.4" fill="#ffffff"/><text x="64.2" y="147.9" font-size="19" fill="#f4f4f4" textLength="80.0" lengthAdjust="spacingAndGlyphs">Na<tspan font-size="11" dy="1.5">2</tspan><tspan dy="-1.5">AsO</tspan><tspan font-size="11" dy="1.5">3</tspan></text></g>
</svg>
<svg x="19.5" y="741.8" width="152" height="151.5" viewBox="0 0 152 151.5">
<rect x="-1" y="-1" width="154" height="153.5" fill="#050508"/>
<g filter="url(#b1)"><path d="M64.4,-1.3 C65.9,5.9 65.3,14.6 62.7,21.6 C60.1,28.6 54.9,36.0 49.0,41.0 C43.0,46.0 34.6,50.1 26.9,51.7 C19.1,53.4 9.8,53.0 2.3,50.9 C-5.2,48.7 -12.9,44.2 -18.1,38.8 C-23.3,33.4 -27.4,25.7 -28.9,18.6 C-30.4,11.4 -29.8,2.8 -27.2,-4.3 C-24.7,-11.3 -19.5,-18.7 -13.5,-23.7 C-7.5,-28.7 0.8,-32.7 8.6,-34.4 C16.3,-36.0 25.6,-35.7 33.1,-33.6 C40.6,-31.4 48.3,-26.8 53.5,-21.5 C58.7,-16.1 62.8,-8.4 64.4,-1.3Z" fill="#1c4cb0" opacity="1"/><g filter="url(#b2)"><clipPath id="c19_741_1"><path d="M64.4,-1.3 C65.9,5.9 65.3,14.6 62.7,21.6 C60.1,28.6 54.9,36.0 49.0,41.0 C43.0,46.0 34.6,50.1 26.9,51.7 C19.1,53.4 9.8,53.0 2.3,50.9 C-5.2,48.7 -12.9,44.2 -18.1,38.8 C-23.3,33.4 -27.4,25.7 -28.9,18.6 C-30.4,11.4 -29.8,2.8 -27.2,-4.3 C-24.7,-11.3 -19.5,-18.7 -13.5,-23.7 C-7.5,-28.7 0.8,-32.7 8.6,-34.4 C16.3,-36.0 25.6,-35.7 33.1,-33.6 C40.6,-31.4 48.3,-26.8 53.5,-21.5 C58.7,-16.1 62.8,-8.4 64.4,-1.3Z"/></clipPath><g clip-path="url(#c19_741_1)"><circle cx="61.1" cy="-33.4" r="4.2" fill="#0f2f80" opacity="0.21"/><circle cx="63.1" cy="-32.9" r="4.6" fill="#0f2f80" opacity="0.33"/><circle cx="51.1" cy="51.7" r="2.7" fill="#0f2f80" opacity="0.25"/><circle cx="37.1" cy="-10.2" r="2.8" fill="#0f2f80" opacity="0.23"/><circle cx="51.1" cy="40.9" r="4.4" fill="#0f2f80" opacity="0.23"/><circle cx="57.4" cy="9.6" r="2.7" fill="#0f2f80" opacity="0.28"/><circle cx="10.3" cy="-27.6" r="3.7" fill="#0f2f80" opacity="0.26"/><circle cx="24.2" cy="45.7" r="3.9" fill="#0f2f80" opacity="0.27"/><circle cx="51.6" cy="51.3" r="3.5" fill="#0f2f80" opacity="0.39"/><circle cx="-27.2" cy="-22.3" r="2.5" fill="#0f2f80" opacity="0.39"/></g></g><path d="M39.7,68.6 C40.5,62.6 43.2,56.1 47.1,51.4 C50.9,46.8 56.6,42.8 63.0,40.4 C69.3,38.1 77.6,37.1 85.0,37.3 C92.3,37.5 100.7,38.9 107.0,41.7 C113.3,44.4 119.0,48.6 122.9,53.9 C126.7,59.2 129.6,66.9 130.2,73.4 C130.8,80.0 129.2,87.5 126.5,93.0 C123.9,98.5 119.6,103.3 114.3,106.5 C109.0,109.6 101.7,111.5 94.7,112.1 C87.8,112.7 79.7,111.9 72.7,110.1 C65.8,108.4 58.3,105.4 53.2,101.6 C48.1,97.7 44.4,92.4 42.2,86.9 C39.9,81.4 38.9,74.5 39.7,68.6Z" fill="#1a4cb8" opacity="1"/><g filter="url(#b2)"><clipPath id="c19_741_2"><path d="M39.7,68.6 C40.5,62.6 43.2,56.1 47.1,51.4 C50.9,46.8 56.6,42.8 63.0,40.4 C69.3,38.1 77.6,37.1 85.0,37.3 C92.3,37.5 100.7,38.9 107.0,41.7 C113.3,44.4 119.0,48.6 122.9,53.9 C126.7,59.2 129.6,66.9 130.2,73.4 C130.8,80.0 129.2,87.5 126.5,93.0 C123.9,98.5 119.6,103.3 114.3,106.5 C109.0,109.6 101.7,111.5 94.7,112.1 C87.8,112.7 79.7,111.9 72.7,110.1 C65.8,108.4 58.3,105.4 53.2,101.6 C48.1,97.7 44.4,92.4 42.2,86.9 C39.9,81.4 38.9,74.5 39.7,68.6Z"/></clipPath><g clip-path="url(#c19_741_2)"><circle cx="102.2" cy="91.1" r="2.9" fill="#0f2f88" opacity="0.29"/><circle cx="120.0" cy="44.7" r="2.3" fill="#0f2f88" opacity="0.19"/><circle cx="82.1" cy="100.1" r="3.7" fill="#0f2f88" opacity="0.27"/><circle cx="85.1" cy="50.7" r="4.8" fill="#0f2f88" opacity="0.26"/><circle cx="61.0" cy="60.5" r="4.5" fill="#0f2f88" opacity="0.25"/><circle cx="121.6" cy="62.4" r="3.3" fill="#0f2f88" opacity="0.20"/><circle cx="121.8" cy="96.8" r="3.4" fill="#0f2f88" opacity="0.21"/><circle cx="84.3" cy="65.4" r="4.5" fill="#0f2f88" opacity="0.38"/><circle cx="106.8" cy="58.7" r="2.1" fill="#0f2f88" opacity="0.38"/><circle cx="125.2" cy="49.1" r="3.5" fill="#0f2f88" opacity="0.29"/><circle cx="128.1" cy="40.5" r="2.2" fill="#0f2f88" opacity="0.37"/><circle cx="91.3" cy="71.8" r="4.3" fill="#0f2f88" opacity="0.31"/><circle cx="102.4" cy="56.4" r="2.3" fill="#0f2f88" opacity="0.18"/><circle cx="69.9" cy="85.8" r="3.1" fill="#0f2f88" opacity="0.26"/></g></g><ellipse cx="80.1" cy="83.7" rx="7.3" ry="8.3" fill="#102c7c" opacity="1" transform="rotate(0 80.1 83.7)"/><ellipse cx="86.2" cy="86.2" rx="3.9" ry="4.4" fill="#0e2570" opacity="1" transform="rotate(0 86.2 86.2)"/><ellipse cx="152.2" cy="115.0" rx="2.9" ry="7.3" fill="#1c4cb0" opacity="1" transform="rotate(0 152.2 115.0)"/><ellipse cx="111.9" cy="8.7" rx="3.4" ry="6.8" fill="#143a86" opacity="1" transform="rotate(15 111.9 8.7)"/><ellipse cx="50.7" cy="102.8" rx="9.8" ry="4.9" fill="#0c2050" opacity="1" transform="rotate(0 50.7 102.8)"/><circle cx="43.4" cy="39.2" r="1.22" fill="#3ad23a"/><circle cx="27.5" cy="68.6" r="1.22" fill="#3ad23a"/><circle cx="102.1" cy="36.8" r="1.22" fill="#3ad23a"/><circle cx="127.8" cy="53.9" r="1.22" fill="#3ad23a"/><circle cx="133.9" cy="66.1" r="1.22" fill="#3ad23a"/><circle cx="125.3" cy="106.5" r="1.22" fill="#3ad23a"/><circle cx="103.3" cy="117.5" r="1.22" fill="#3ad23a"/><circle cx="88.6" cy="121.1" r="1.22" fill="#3ad23a"/><circle cx="66.6" cy="123.6" r="1.47" fill="#3ad23a"/><circle cx="42.2" cy="117.5" r="1.22" fill="#3ad23a"/><circle cx="53.2" cy="134.6" r="1.22" fill="#3ad23a"/><circle cx="94.7" cy="3.8" r="0.98" fill="#3ad23a"/><circle cx="61.7" cy="110.1" r="0.98" fill="#3ad23a"/><circle cx="80.1" cy="22.6" r="1.47" fill="#efe22a"/><circle cx="135.1" cy="51.0" r="2.20" fill="#efe22a"/><circle cx="107.0" cy="116.2" r="1.47" fill="#efe22a"/><circle cx="126.5" cy="128.5" r="1.71" fill="#efe22a"/><circle cx="30.7" cy="106.5" r="1.96" fill="#efe22a"/><circle cx="83.0" cy="25.0" r="1.22" fill="#e8222c"/><circle cx="25.1" cy="51.9" r="1.71" fill="#e8222c"/><circle cx="23.3" cy="55.1" r="1.22" fill="#e8222c"/><circle cx="121.6" cy="41.7" r="1.22" fill="#e8222c"/><circle cx="133.4" cy="48.5" r="1.47" fill="#e8222c"/><circle cx="42.2" cy="126.0" r="1.22" fill="#e8222c"/><circle cx="121.6" cy="129.7" r="1.71" fill="#e8222c"/><circle cx="26.3" cy="102.3" r="1.96" fill="#e8222c"/><circle cx="94.7" cy="31.9" r="0.98" fill="#e8222c"/><circle cx="131.4" cy="141.9" r="0.98" fill="#e8222c"/><circle cx="91.1" cy="38.0" r="0.98" fill="#9fe8e0"/></g>
<g filter="url(#bt)"><rect x="18.2" y="95.9" width="18.6" height="18.3" fill="none" stroke="#f2f2f2" stroke-width="1.3"/><text x="111.9" y="146.1" font-size="19" fill="#f4f4f4" textLength="32.3" lengthAdjust="spacingAndGlyphs">Thy</text></g>
</svg>
<svg x="427.3" y="103.6" width="151.2" height="151.3" viewBox="0 0 151.2 151.3">
<rect x="-1" y="-1" width="153.2" height="153.3" fill="#050508"/>
<g filter="url(#b1)"><path d="M36.0,76.0 C36.4,70.3 37.7,62.8 40.9,57.7 C44.2,52.6 49.7,48.1 55.6,45.5 C61.5,42.8 69.3,41.8 76.4,41.8 C83.5,41.8 91.7,42.8 98.4,45.5 C105.1,48.1 112.4,52.6 116.7,57.7 C121.0,62.8 123.2,70.1 124.1,76.0 C124.9,81.9 123.9,88.1 121.6,93.2 C119.4,98.2 115.7,103.1 110.6,106.6 C105.5,110.1 98.0,112.9 91.1,113.9 C84.1,115.0 76.0,114.1 69.0,112.7 C62.1,111.3 54.6,108.8 49.5,105.4 C44.4,101.9 40.7,96.8 38.5,91.9 C36.2,87.0 35.6,81.7 36.0,76.0Z" fill="#1a48b0" opacity="1"/><g filter="url(#b2)"><clipPath id="c427_103_1"><path d="M36.0,76.0 C36.4,70.3 37.7,62.8 40.9,57.7 C44.2,52.6 49.7,48.1 55.6,45.5 C61.5,42.8 69.3,41.8 76.4,41.8 C83.5,41.8 91.7,42.8 98.4,45.5 C105.1,48.1 112.4,52.6 116.7,57.7 C121.0,62.8 123.2,70.1 124.1,76.0 C124.9,81.9 123.9,88.1 121.6,93.2 C119.4,98.2 115.7,103.1 110.6,106.6 C105.5,110.1 98.0,112.9 91.1,113.9 C84.1,115.0 76.0,114.1 69.0,112.7 C62.1,111.3 54.6,108.8 49.5,105.4 C44.4,101.9 40.7,96.8 38.5,91.9 C36.2,87.0 35.6,81.7 36.0,76.0Z"/></clipPath><g clip-path="url(#c427_103_1)"><circle cx="50.6" cy="91.6" r="3.9" fill="#0f2c80" opacity="0.29"/><circle cx="55.1" cy="99.0" r="4.4" fill="#0f2c80" opacity="0.29"/><circle cx="80.5" cy="58.8" r="2.0" fill="#0f2c80" opacity="0.26"/><circle cx="87.6" cy="46.8" r="4.4" fill="#0f2c80" opacity="0.23"/><circle cx="56.5" cy="44.9" r="5.0" fill="#0f2c80" opacity="0.34"/><circle cx="113.1" cy="86.2" r="2.1" fill="#0f2c80" opacity="0.25"/><circle cx="79.8" cy="50.2" r="4.9" fill="#0f2c80" opacity="0.26"/><circle cx="49.7" cy="100.8" r="2.4" fill="#0f2c80" opacity="0.38"/><circle cx="75.9" cy="81.6" r="3.0" fill="#0f2c80" opacity="0.29"/><circle cx="52.5" cy="44.5" r="4.6" fill="#0f2c80" opacity="0.23"/><circle cx="104.7" cy="56.9" r="4.9" fill="#0f2c80" opacity="0.38"/><circle cx="102.5" cy="96.8" r="3.7" fill="#0f2c80" opacity="0.34"/><circle cx="46.8" cy="76.2" r="4.5" fill="#0f2c80" opacity="0.22"/><circle cx="117.3" cy="105.8" r="3.2" fill="#0f2c80" opacity="0.26"/></g></g><path d="M42.6,40.6 C44.1,43.9 44.5,48.2 43.7,52.0 C42.8,55.8 40.4,60.2 37.4,63.6 C34.4,67.0 29.9,70.3 25.6,72.3 C21.2,74.3 15.8,75.7 11.3,75.8 C6.7,75.9 1.9,74.9 -1.6,73.1 C-5.1,71.3 -8.2,68.3 -9.7,65.0 C-11.2,61.8 -11.6,57.5 -10.7,53.6 C-9.8,49.8 -7.5,45.4 -4.5,42.0 C-1.5,38.6 3.0,35.3 7.4,33.3 C11.7,31.3 17.1,30.0 21.7,29.8 C26.2,29.7 31.1,30.7 34.6,32.5 C38.1,34.3 41.1,37.4 42.6,40.6Z" fill="#183f95" opacity="1"/><g filter="url(#b2)"><clipPath id="c427_103_2"><path d="M42.6,40.6 C44.1,43.9 44.5,48.2 43.7,52.0 C42.8,55.8 40.4,60.2 37.4,63.6 C34.4,67.0 29.9,70.3 25.6,72.3 C21.2,74.3 15.8,75.7 11.3,75.8 C6.7,75.9 1.9,74.9 -1.6,73.1 C-5.1,71.3 -8.2,68.3 -9.7,65.0 C-11.2,61.8 -11.6,57.5 -10.7,53.6 C-9.8,49.8 -7.5,45.4 -4.5,42.0 C-1.5,38.6 3.0,35.3 7.4,33.3 C11.7,31.3 17.1,30.0 21.7,29.8 C26.2,29.7 31.1,30.7 34.6,32.5 C38.1,34.3 41.1,37.4 42.6,40.6Z"/></clipPath><g clip-path="url(#c427_103_2)"><circle cx="13.8" cy="47.6" r="5.0" fill="#0c2460" opacity="0.27"/><circle cx="-9.3" cy="34.1" r="4.2" fill="#0c2460" opacity="0.40"/><circle cx="16.3" cy="52.4" r="3.7" fill="#0c2460" opacity="0.34"/><circle cx="1.4" cy="57.8" r="3.7" fill="#0c2460" opacity="0.32"/><circle cx="-0.9" cy="37.6" r="3.0" fill="#0c2460" opacity="0.38"/><circle cx="8.1" cy="57.3" r="2.9" fill="#0c2460" opacity="0.20"/><circle cx="-7.1" cy="67.2" r="4.3" fill="#0c2460" opacity="0.26"/><circle cx="26.5" cy="60.9" r="4.7" fill="#0c2460" opacity="0.39"/></g></g><path d="M171.7,44.3 C171.7,50.4 170.9,57.3 169.4,62.6 C168.0,67.9 165.6,73.0 163.2,76.0 C160.7,79.1 157.5,80.9 154.6,80.9 C151.8,80.9 148.5,79.1 146.1,76.0 C143.6,73.0 141.2,67.9 139.8,62.6 C138.4,57.3 137.5,50.4 137.5,44.3 C137.5,38.1 138.4,31.2 139.8,25.9 C141.2,20.6 143.6,15.5 146.1,12.5 C148.5,9.4 151.8,7.6 154.6,7.6 C157.5,7.6 160.7,9.4 163.2,12.5 C165.6,15.5 168.0,20.6 169.4,25.9 C170.9,31.2 171.7,38.1 171.7,44.3Z" fill="#1a48b0" opacity="1"/><g filter="url(#b2)"><clipPath id="c427_103_3"><path d="M171.7,44.3 C171.7,50.4 170.9,57.3 169.4,62.6 C168.0,67.9 165.6,73.0 163.2,76.0 C160.7,79.1 157.5,80.9 154.6,80.9 C151.8,80.9 148.5,79.1 146.1,76.0 C143.6,73.0 141.2,67.9 139.8,62.6 C138.4,57.3 137.5,50.4 137.5,44.3 C137.5,38.1 138.4,31.2 139.8,25.9 C141.2,20.6 143.6,15.5 146.1,12.5 C148.5,9.4 151.8,7.6 154.6,7.6 C157.5,7.6 160.7,9.4 163.2,12.5 C165.6,15.5 168.0,20.6 169.4,25.9 C170.9,31.2 171.7,38.1 171.7,44.3Z"/></clipPath><g clip-path="url(#c427_103_3)"><circle cx="151.4" cy="80.1" r="4.9" fill="#0f2c80" opacity="0.31"/><circle cx="167.7" cy="43.6" r="3.1" fill="#0f2c80" opacity="0.23"/><circle cx="167.5" cy="19.5" r="2.2" fill="#0f2c80" opacity="0.36"/><circle cx="164.0" cy="43.0" r="4.5" fill="#0f2c80" opacity="0.19"/></g></g><ellipse cx="140.4" cy="2.2" rx="12.7" ry="8.8" fill="#1a48b0" opacity="1" transform="rotate(0 140.4 2.2)"/><ellipse cx="3.0" cy="0.7" rx="7.3" ry="4.4" fill="#183f95" opacity="1" transform="rotate(0 3.0 0.7)"/><ellipse cx="52.4" cy="-1.0" rx="14.7" ry="3.4" fill="#183f95" opacity="1" transform="rotate(0 52.4 -1.0)"/><path d="M26.0,141.8 C25.2,146.0 23.4,150.6 21.2,154.0 C18.9,157.3 15.6,160.4 12.5,162.0 C9.3,163.6 5.5,164.2 2.2,163.7 C-1.0,163.1 -4.4,161.2 -6.8,158.6 C-9.2,156.0 -11.2,152.0 -12.2,148.1 C-13.2,144.2 -13.3,139.2 -12.6,135.0 C-11.8,130.8 -10.0,126.2 -7.8,122.8 C-5.5,119.4 -2.2,116.4 0.9,114.8 C4.1,113.2 7.9,112.5 11.2,113.1 C14.4,113.7 17.8,115.6 20.2,118.2 C22.6,120.8 24.6,124.8 25.6,128.7 C26.6,132.6 26.7,137.6 26.0,141.8Z" fill="#1a46a8" opacity="1"/><g filter="url(#b2)"><clipPath id="c427_103_4"><path d="M26.0,141.8 C25.2,146.0 23.4,150.6 21.2,154.0 C18.9,157.3 15.6,160.4 12.5,162.0 C9.3,163.6 5.5,164.2 2.2,163.7 C-1.0,163.1 -4.4,161.2 -6.8,158.6 C-9.2,156.0 -11.2,152.0 -12.2,148.1 C-13.2,144.2 -13.3,139.2 -12.6,135.0 C-11.8,130.8 -10.0,126.2 -7.8,122.8 C-5.5,119.4 -2.2,116.4 0.9,114.8 C4.1,113.2 7.9,112.5 11.2,113.1 C14.4,113.7 17.8,115.6 20.2,118.2 C22.6,120.8 24.6,124.8 25.6,128.7 C26.6,132.6 26.7,137.6 26.0,141.8Z"/></clipPath><g clip-path="url(#c427_103_4)"><circle cx="-2.6" cy="127.8" r="3.3" fill="#0f2c80" opacity="0.22"/><circle cx="-9.9" cy="130.2" r="4.7" fill="#0f2c80" opacity="0.40"/><circle cx="16.2" cy="137.3" r="2.8" fill="#0f2c80" opacity="0.39"/><circle cx="7.7" cy="149.9" r="2.1" fill="#0f2c80" opacity="0.23"/><circle cx="19.7" cy="153.3" r="4.6" fill="#0f2c80" opacity="0.31"/></g></g><ellipse cx="81.3" cy="115.2" rx="5.4" ry="4.4" fill="#102c70" opacity="1" transform="rotate(0 81.3 115.2)"/><ellipse cx="89.8" cy="127.4" rx="6.1" ry="3.9" fill="#081a40" opacity="1" transform="rotate(0 89.8 127.4)"/><circle cx="72.0" cy="30.1" r="1.22" fill="#3ad23a"/><circle cx="47.0" cy="113.9" r="0.98" fill="#3ad23a"/><circle cx="80.0" cy="123.7" r="1.22" fill="#3ad23a"/><circle cx="102.1" cy="128.6" r="1.22" fill="#3ad23a"/><circle cx="108.7" cy="27.1" r="1.22" fill="#3ad23a"/><circle cx="105.2" cy="17.8" r="1.22" fill="#3ad23a"/><circle cx="32.4" cy="100.5" r="2.20" fill="#efe22a"/><circle cx="31.1" cy="98.0" r="1.47" fill="#efe22a"/><circle cx="32.9" cy="102.9" r="1.47" fill="#f08a22"/><circle cx="77.6" cy="25.9" r="1.47" fill="#e8222c"/><circle cx="74.4" cy="28.4" r="0.98" fill="#e8222c"/><circle cx="108.2" cy="21.8" r="2.44" fill="#e8222c"/><circle cx="122.8" cy="19.1" r="0.98" fill="#e8222c"/><circle cx="73.9" cy="131.1" r="1.22" fill="#e8222c"/><circle cx="62.9" cy="127.4" r="0.98" fill="#e8222c"/><circle cx="25.0" cy="89.5" r="0.98" fill="#e8222c"/><circle cx="106.2" cy="19.8" r="1.22" fill="#efe22a"/><circle cx="18.9" cy="17.4" r="1.47" fill="#12306e"/></g>
<g filter="url(#bt)"><rect x="100.3" y="14.9" width="18.3" height="18.3" fill="none" stroke="#f2f2f2" stroke-width="1.3"/><text x="104.5" y="143.8" font-size="19" fill="#f4f4f4" textLength="40.8" lengthAdjust="spacingAndGlyphs">Puro</text></g>
</svg>
<svg x="427.3" y="260" width="151.2" height="151" viewBox="0 0 151.2 151">
<rect x="-1" y="-1" width="153.2" height="153" fill="#050508"/>
<g filter="url(#b1)"><path d="M76.4,59.0 C79.2,56.5 87.4,53.5 92.3,53.2 C97.2,52.9 102.3,54.4 105.7,57.3 C109.1,60.3 111.8,65.7 112.6,70.8 C113.4,75.9 110.5,82.6 110.6,87.9 C110.7,93.2 113.7,97.3 113.1,102.6 C112.4,107.9 110.4,115.0 106.9,119.7 C103.5,124.4 97.8,128.2 92.3,130.7 C86.8,133.2 79.8,135.2 73.9,134.8 C68.0,134.4 61.7,131.6 56.8,128.2 C51.9,124.9 47.5,119.9 44.6,114.8 C41.7,109.7 39.8,103.4 39.2,97.7 C38.6,92.0 39.0,84.6 40.9,80.6 C42.8,76.5 47.0,74.2 50.7,73.2 C54.4,72.2 59.9,73.2 62.9,74.4 C66.0,75.7 67.0,78.5 69.0,80.6 C71.1,82.6 73.3,86.7 75.2,86.7 C77.0,86.7 80.0,83.6 80.0,80.6 C80.0,77.5 75.8,71.9 75.2,68.3 C74.5,64.8 73.5,61.6 76.4,59.0Z" fill="#1a48b2" opacity="1"/><g filter="url(#b2)"><clipPath id="c427_260_1"><path d="M76.4,59.0 C79.2,56.5 87.4,53.5 92.3,53.2 C97.2,52.9 102.3,54.4 105.7,57.3 C109.1,60.3 111.8,65.7 112.6,70.8 C113.4,75.9 110.5,82.6 110.6,87.9 C110.7,93.2 113.7,97.3 113.1,102.6 C112.4,107.9 110.4,115.0 106.9,119.7 C103.5,124.4 97.8,128.2 92.3,130.7 C86.8,133.2 79.8,135.2 73.9,134.8 C68.0,134.4 61.7,131.6 56.8,128.2 C51.9,124.9 47.5,119.9 44.6,114.8 C41.7,109.7 39.8,103.4 39.2,97.7 C38.6,92.0 39.0,84.6 40.9,80.6 C42.8,76.5 47.0,74.2 50.7,73.2 C54.4,72.2 59.9,73.2 62.9,74.4 C66.0,75.7 67.0,78.5 69.0,80.6 C71.1,82.6 73.3,86.7 75.2,86.7 C77.0,86.7 80.0,83.6 80.0,80.6 C80.0,77.5 75.8,71.9 75.2,68.3 C74.5,64.8 73.5,61.6 76.4,59.0Z"/></clipPath><g clip-path="url(#c427_260_1)"><circle cx="110.0" cy="64.6" r="2.1" fill="#0f2c80" opacity="0.40"/><circle cx="52.8" cy="63.0" r="4.0" fill="#0f2c80" opacity="0.26"/><circle cx="104.9" cy="72.1" r="4.9" fill="#0f2c80" opacity="0.25"/><circle cx="83.6" cy="129.3" r="4.1" fill="#0f2c80" opacity="0.38"/><circle cx="91.5" cy="57.1" r="4.6" fill="#0f2c80" opacity="0.31"/><circle cx="62.2" cy="68.7" r="4.5" fill="#0f2c80" opacity="0.31"/><circle cx="108.5" cy="116.4" r="4.9" fill="#0f2c80" opacity="0.30"/><circle cx="90.8" cy="103.2" r="2.8" fill="#0f2c80" opacity="0.39"/><circle cx="62.3" cy="117.0" r="4.9" fill="#0f2c80" opacity="0.32"/><circle cx="49.7" cy="120.6" r="4.0" fill="#0f2c80" opacity="0.22"/><circle cx="42.8" cy="96.6" r="2.1" fill="#0f2c80" opacity="0.38"/><circle cx="76.6" cy="95.4" r="3.2" fill="#0f2c80" opacity="0.33"/><circle cx="106.9" cy="78.3" r="3.1" fill="#0f2c80" opacity="0.31"/><circle cx="61.2" cy="101.8" r="3.6" fill="#0f2c80" opacity="0.28"/></g></g><path d="M128.9,31.7 C132.4,29.2 138.3,28.0 142.4,28.0 C146.5,28.0 151.4,20.9 153.4,31.7 C155.4,42.5 156.5,82.2 154.6,92.8 C152.8,103.4 146.9,95.4 142.4,95.2 C137.9,95.0 131.6,94.4 127.7,91.6 C123.9,88.7 120.8,83.2 119.2,78.1 C117.5,73.0 117.5,66.9 117.9,61.0 C118.4,55.1 119.8,47.6 121.6,42.7 C123.4,37.8 125.5,34.1 128.9,31.7Z" fill="#1c4cb8" opacity="1"/><g filter="url(#b2)"><clipPath id="c427_260_2"><path d="M128.9,31.7 C132.4,29.2 138.3,28.0 142.4,28.0 C146.5,28.0 151.4,20.9 153.4,31.7 C155.4,42.5 156.5,82.2 154.6,92.8 C152.8,103.4 146.9,95.4 142.4,95.2 C137.9,95.0 131.6,94.4 127.7,91.6 C123.9,88.7 120.8,83.2 119.2,78.1 C117.5,73.0 117.5,66.9 117.9,61.0 C118.4,55.1 119.8,47.6 121.6,42.7 C123.4,37.8 125.5,34.1 128.9,31.7Z"/></clipPath><g clip-path="url(#c427_260_2)"><circle cx="142.6" cy="63.5" r="2.3" fill="#0f2c80" opacity="0.40"/><circle cx="131.0" cy="57.0" r="3.2" fill="#0f2c80" opacity="0.38"/><circle cx="152.9" cy="62.4" r="3.2" fill="#0f2c80" opacity="0.20"/><circle cx="150.8" cy="39.5" r="3.6" fill="#0f2c80" opacity="0.26"/><circle cx="130.0" cy="52.0" r="2.6" fill="#0f2c80" opacity="0.19"/><circle cx="137.6" cy="81.5" r="3.9" fill="#0f2c80" opacity="0.22"/></g></g><path d="M162.0,-1.3 C162.0,2.1 160.8,6.0 159.0,9.0 C157.2,12.0 154.1,14.9 151.0,16.7 C147.8,18.4 143.6,19.4 140.0,19.4 C136.3,19.4 132.1,18.4 128.9,16.7 C125.8,14.9 122.7,12.0 120.9,9.0 C119.1,6.0 117.9,2.1 117.9,-1.3 C117.9,-4.8 119.1,-8.7 120.9,-11.7 C122.7,-14.7 125.8,-17.6 128.9,-19.3 C132.1,-21.1 136.3,-22.1 140.0,-22.1 C143.6,-22.1 147.8,-21.1 151.0,-19.3 C154.1,-17.6 157.2,-14.7 159.0,-11.7 C160.8,-8.7 162.0,-4.8 162.0,-1.3Z" fill="#1c4cb8" opacity="1"/><ellipse cx="42.2" cy="-3.1" rx="22.0" ry="9.8" fill="#1c4cb8" opacity="1" transform="rotate(0 42.2 -3.1)"/><ellipse cx="-3.1" cy="127.0" rx="5.4" ry="24.4" fill="#1c4cb8" opacity="1" transform="rotate(0 -3.1 127.0)"/><ellipse cx="77.6" cy="76.9" rx="3.4" ry="9.8" fill="#0a1a48" opacity="1" transform="rotate(-20 77.6 76.9)"/><circle cx="102.1" cy="13.3" r="2.20" fill="#e8222c"/><circle cx="92.3" cy="21.9" r="1.47" fill="#e8222c"/><circle cx="113.1" cy="29.2" r="1.71" fill="#e8222c"/><circle cx="103.3" cy="31.7" r="1.96" fill="#e8222c"/><circle cx="61.7" cy="34.1" r="1.71" fill="#e8222c"/><circle cx="72.7" cy="37.8" r="1.47" fill="#e8222c"/><circle cx="55.6" cy="61.0" r="1.47" fill="#e8222c"/><circle cx="59.3" cy="47.6" r="1.22" fill="#e8222c"/><circle cx="130.2" cy="19.4" r="1.47" fill="#e8222c"/><circle cx="109.4" cy="46.3" r="1.96" fill="#e8222c"/><circle cx="100.8" cy="34.1" r="1.47" fill="#e8222c"/><circle cx="54.4" cy="128.2" r="1.71" fill="#e8222c"/><circle cx="56.8" cy="134.4" r="1.71" fill="#e8222c"/><circle cx="66.6" cy="135.6" r="1.71" fill="#e8222c"/><circle cx="48.3" cy="134.4" r="1.22" fill="#e8222c"/><circle cx="71.5" cy="141.7" r="1.22" fill="#e8222c"/><circle cx="82.5" cy="31.7" r="1.22" fill="#e8222c"/><circle cx="127.7" cy="36.6" r="0.98" fill="#e8222c"/><circle cx="110.6" cy="19.4" r="0.98" fill="#e8222c"/><circle cx="48.3" cy="56.1" r="1.22" fill="#e8222c"/><circle cx="36.0" cy="109.9" r="0.98" fill="#e8222c"/><circle cx="82.5" cy="19.4" r="1.71" fill="#3ad23a"/><circle cx="69.0" cy="43.9" r="1.71" fill="#3ad23a"/><circle cx="78.8" cy="46.3" r="1.47" fill="#3ad23a"/><circle cx="103.3" cy="39.5" r="1.71" fill="#3ad23a"/><circle cx="106.9" cy="41.9" r="1.96" fill="#3ad23a"/><circle cx="97.2" cy="50.0" r="1.47" fill="#3ad23a"/><circle cx="44.6" cy="65.9" r="1.47" fill="#3ad23a"/><circle cx="40.9" cy="75.7" r="1.47" fill="#3ad23a"/><circle cx="39.7" cy="87.9" r="1.22" fill="#3ad23a"/><circle cx="62.9" cy="130.7" r="1.47" fill="#3ad23a"/><circle cx="69.0" cy="138.0" r="1.22" fill="#3ad23a"/><circle cx="88.6" cy="24.3" r="1.22" fill="#3ad23a"/><circle cx="76.4" cy="31.7" r="1.22" fill="#3ad23a"/><circle cx="105.2" cy="48.3" r="1.96" fill="#3ad23a"/><circle cx="53.2" cy="68.3" r="1.22" fill="#3ad23a"/><circle cx="56.8" cy="70.8" r="1.22" fill="#3ad23a"/><circle cx="43.4" cy="69.6" r="0.98" fill="#3ad23a"/><circle cx="39.2" cy="81.8" r="0.98" fill="#3ad23a"/><circle cx="37.8" cy="95.2" r="0.98" fill="#3ad23a"/><circle cx="42.2" cy="102.6" r="0.98" fill="#3ad23a"/><circle cx="93.5" cy="40.2" r="1.47" fill="#3ad23a"/><circle cx="66.6" cy="37.8" r="1.71" fill="#efe22a"/><circle cx="49.5" cy="59.8" r="1.71" fill="#efe22a"/><circle cx="70.3" cy="40.2" r="1.22" fill="#efe22a"/><circle cx="97.3" cy="53.4" r="1.58" fill="#e8222c"/><circle cx="95.9" cy="51.4" r="1.44" fill="#e8222c"/><circle cx="53.7" cy="39.1" r="1.49" fill="#e8222c"/><circle cx="39.8" cy="39.1" r="1.23" fill="#e8222c"/><circle cx="45.8" cy="47.2" r="1.40" fill="#d82028"/><circle cx="61.0" cy="35.5" r="1.62" fill="#e8222c"/><circle cx="77.7" cy="32.9" r="1.58" fill="#e8222c"/><circle cx="67.2" cy="38.8" r="1.58" fill="#e8222c"/><circle cx="101.4" cy="54.5" r="1.48" fill="#d82028"/><circle cx="111.6" cy="67.8" r="1.55" fill="#e8222c"/><circle cx="40.9" cy="44.0" r="1.42" fill="#e8222c"/><circle cx="87.8" cy="34.4" r="1.25" fill="#d82028"/><circle cx="106.8" cy="39.5" r="1.33" fill="#e8222c"/><circle cx="75.8" cy="38.4" r="1.37" fill="#d82028"/><circle cx="92.9" cy="41.3" r="1.66" fill="#d82028"/><circle cx="58.8" cy="43.6" r="1.66" fill="#e8222c"/><circle cx="70.2" cy="30.5" r="1.59" fill="#48d848"/><circle cx="68.8" cy="25.0" r="1.71" fill="#3ad23a"/><circle cx="54.1" cy="40.7" r="1.04" fill="#48d848"/><circle cx="70.9" cy="33.5" r="1.29" fill="#3ad23a"/><circle cx="77.3" cy="28.6" r="1.09" fill="#3ad23a"/><circle cx="99.4" cy="36.6" r="1.48" fill="#48d848"/><circle cx="113.4" cy="62.3" r="1.53" fill="#3ad23a"/><circle cx="39.9" cy="48.1" r="1.02" fill="#3ad23a"/><circle cx="81.8" cy="35.7" r="1.15" fill="#48d848"/><circle cx="40.3" cy="54.9" r="1.68" fill="#3ad23a"/><circle cx="42.5" cy="52.3" r="1.56" fill="#48d848"/><circle cx="103.4" cy="42.2" r="0.99" fill="#48d848"/><circle cx="37.7" cy="52.5" r="1.02" fill="#3ad23a"/><circle cx="109.2" cy="34.7" r="1.19" fill="#3ad23a"/><circle cx="53.6" cy="34.1" r="1.44" fill="#48d848"/><circle cx="101.7" cy="37.6" r="1.01" fill="#3ad23a"/><circle cx="96.0" cy="45.0" r="1.27" fill="#efe22a"/><circle cx="41.3" cy="45.1" r="1.14" fill="#efe22a"/><circle cx="111.7" cy="50.0" r="1.33" fill="#efe22a"/><circle cx="64.9" cy="25.9" r="1.09" fill="#efe22a"/><circle cx="89.3" cy="31.7" r="1.47" fill="#e8222c"/><circle cx="96.4" cy="41.9" r="1.47" fill="#e8222c"/><circle cx="93.0" cy="37.0" r="1.71" fill="#3ad23a"/><path d="M86.7,28.0 L98.4,42.7" stroke="#f0e8e8" stroke-width="0.7" fill="none"/></g>
<g filter="url(#bt)"><rect x="83.0" y="25.6" width="18.3" height="18.3" fill="none" stroke="#f2f2f2" stroke-width="1.3"/><text x="83.7" y="143.6" font-size="19" fill="#f4f4f4" textLength="62.3" lengthAdjust="spacingAndGlyphs">MG132</text></g>
</svg>
<svg x="427.3" y="419" width="151.2" height="151.5" viewBox="0 0 151.2 151.5">
<rect x="-1" y="-1" width="153.2" height="153.5" fill="#050508"/>
<g filter="url(#b1)"><path d="M32.4,9.7 C34.4,7.6 38.3,4.8 40.9,4.8 C43.6,4.8 46.3,6.4 48.3,9.7 C50.2,12.9 52.0,19.0 52.4,24.3 C52.8,29.6 52.2,36.1 50.7,41.4 C49.2,46.7 46.4,52.2 43.4,56.1 C40.3,60.0 36.4,63.4 32.4,64.7 C28.3,65.9 22.8,65.5 18.9,63.4 C15.1,61.4 11.2,56.5 9.1,52.4 C7.1,48.4 6.1,42.9 6.7,39.0 C7.3,35.1 9.8,31.5 12.8,29.2 C15.9,27.0 22.4,27.6 25.0,25.6 C27.7,23.5 27.5,19.6 28.7,17.0 C29.9,14.3 30.3,11.7 32.4,9.7Z" fill="#1c4fc0" opacity="1"/><g filter="url(#b2)"><clipPath id="c427_419_1"><path d="M32.4,9.7 C34.4,7.6 38.3,4.8 40.9,4.8 C43.6,4.8 46.3,6.4 48.3,9.7 C50.2,12.9 52.0,19.0 52.4,24.3 C52.8,29.6 52.2,36.1 50.7,41.4 C49.2,46.7 46.4,52.2 43.4,56.1 C40.3,60.0 36.4,63.4 32.4,64.7 C28.3,65.9 22.8,65.5 18.9,63.4 C15.1,61.4 11.2,56.5 9.1,52.4 C7.1,48.4 6.1,42.9 6.7,39.0 C7.3,35.1 9.8,31.5 12.8,29.2 C15.9,27.0 22.4,27.6 25.0,25.6 C27.7,23.5 27.5,19.6 28.7,17.0 C29.9,14.3 30.3,11.7 32.4,9.7Z"/></clipPath><g clip-path="url(#c427_419_1)"><circle cx="49.0" cy="61.6" r="4.7" fill="#102f8a" opacity="0.20"/><circle cx="33.8" cy="30.2" r="3.6" fill="#102f8a" opacity="0.21"/><circle cx="15.5" cy="31.4" r="2.7" fill="#102f8a" opacity="0.28"/><circle cx="7.8" cy="9.9" r="4.1" fill="#102f8a" opacity="0.27"/><circle cx="30.1" cy="48.7" r="3.1" fill="#102f8a" opacity="0.19"/><circle cx="42.5" cy="40.1" r="4.0" fill="#102f8a" opacity="0.32"/><circle cx="51.1" cy="26.5" r="4.3" fill="#102f8a" opacity="0.26"/><circle cx="32.9" cy="44.3" r="2.9" fill="#102f8a" opacity="0.20"/></g></g><path d="M11.6,15.8 C12.0,14.5 16.1,19.6 16.5,21.9 C16.9,24.1 14.8,30.2 14.0,29.2 C13.2,28.2 11.2,17.0 11.6,15.8Z" fill="#1c4fc0" opacity="1"/><path d="M69.0,43.9 C73.7,42.2 80.5,40.3 86.2,41.0 C91.9,41.6 98.8,44.2 103.3,47.6 C107.8,50.9 111.0,55.9 113.1,61.0 C115.1,66.1 115.7,72.4 115.5,78.1 C115.3,83.8 113.9,90.5 111.8,95.2 C109.8,99.9 106.5,103.4 103.3,106.2 C100.0,109.1 96.3,110.0 92.3,112.3 C88.2,114.7 82.9,119.8 78.8,120.2 C74.8,120.6 70.9,118.1 67.8,114.8 C64.8,111.5 62.3,105.4 60.5,100.1 C58.7,94.8 57.9,88.7 56.8,83.0 C55.7,77.3 53.7,71.2 53.9,65.9 C54.1,60.6 55.5,54.9 58.0,51.2 C60.6,47.6 64.4,45.6 69.0,43.9Z" fill="#1c4fc0" opacity="1"/><g filter="url(#b2)"><clipPath id="c427_419_2"><path d="M69.0,43.9 C73.7,42.2 80.5,40.3 86.2,41.0 C91.9,41.6 98.8,44.2 103.3,47.6 C107.8,50.9 111.0,55.9 113.1,61.0 C115.1,66.1 115.7,72.4 115.5,78.1 C115.3,83.8 113.9,90.5 111.8,95.2 C109.8,99.9 106.5,103.4 103.3,106.2 C100.0,109.1 96.3,110.0 92.3,112.3 C88.2,114.7 82.9,119.8 78.8,120.2 C74.8,120.6 70.9,118.1 67.8,114.8 C64.8,111.5 62.3,105.4 60.5,100.1 C58.7,94.8 57.9,88.7 56.8,83.0 C55.7,77.3 53.7,71.2 53.9,65.9 C54.1,60.6 55.5,54.9 58.0,51.2 C60.6,47.6 64.4,45.6 69.0,43.9Z"/></clipPath><g clip-path="url(#c427_419_2)"><circle cx="83.1" cy="97.8" r="3.8" fill="#102f8a" opacity="0.28"/><circle cx="93.5" cy="55.4" r="2.5" fill="#102f8a" opacity="0.25"/><circle cx="104.2" cy="56.4" r="2.3" fill="#102f8a" opacity="0.20"/><circle cx="56.3" cy="62.8" r="3.7" fill="#102f8a" opacity="0.36"/><circle cx="74.3" cy="70.2" r="2.9" fill="#102f8a" opacity="0.25"/><circle cx="101.8" cy="84.4" r="2.8" fill="#102f8a" opacity="0.20"/><circle cx="102.2" cy="97.0" r="4.5" fill="#102f8a" opacity="0.23"/><circle cx="87.5" cy="113.7" r="3.8" fill="#102f8a" opacity="0.39"/><circle cx="64.2" cy="118.2" r="2.2" fill="#102f8a" opacity="0.27"/><circle cx="55.3" cy="105.1" r="4.1" fill="#102f8a" opacity="0.39"/><circle cx="103.5" cy="116.1" r="3.6" fill="#102f8a" opacity="0.40"/><circle cx="100.0" cy="68.4" r="4.9" fill="#102f8a" opacity="0.26"/><circle cx="65.8" cy="47.0" r="3.4" fill="#102f8a" opacity="0.22"/><circle cx="111.4" cy="116.2" r="2.6" fill="#102f8a" opacity="0.20"/></g></g><ellipse cx="128.9" cy="33.6" rx="6.1" ry="2.0" fill="#102868" opacity="1" transform="rotate(0 128.9 33.6)"/><ellipse cx="62.9" cy="39.0" rx="3.4" ry="6.1" fill="#0e2460" opacity="1" transform="rotate(0 62.9 39.0)"/><ellipse cx="48.3" cy="114.8" rx="2.4" ry="4.9" fill="#0e2460" opacity="1" transform="rotate(0 48.3 114.8)"/><circle cx="71.5" cy="19.4" r="0.98" fill="#e8222c"/><circle cx="108.2" cy="26.8" r="1.22" fill="#e8222c"/><circle cx="100.8" cy="32.9" r="1.22" fill="#e8222c"/><circle cx="133.8" cy="12.1" r="1.22" fill="#e8222c"/><circle cx="147.3" cy="17.0" r="1.47" fill="#e8222c"/><circle cx="135.1" cy="21.9" r="1.22" fill="#e8222c"/><circle cx="141.2" cy="26.8" r="1.22" fill="#e8222c"/><circle cx="137.5" cy="46.3" r="1.47" fill="#e8222c"/><circle cx="140.0" cy="52.4" r="1.22" fill="#e8222c"/><circle cx="136.3" cy="59.8" r="1.96" fill="#e8222c"/><circle cx="144.8" cy="61.0" r="1.47" fill="#e8222c"/><circle cx="51.9" cy="102.6" r="1.47" fill="#e8222c"/><circle cx="80.0" cy="131.9" r="1.22" fill="#e8222c"/><circle cx="131.4" cy="117.2" r="2.20" fill="#e8222c"/><circle cx="142.4" cy="123.3" r="1.71" fill="#e8222c"/><circle cx="132.6" cy="91.6" r="1.22" fill="#e8222c"/><circle cx="146.1" cy="89.1" r="1.47" fill="#e8222c"/><circle cx="99.6" cy="112.3" r="1.22" fill="#e8222c"/><circle cx="103.3" cy="116.0" r="1.22" fill="#e8222c"/><circle cx="89.8" cy="139.2" r="1.47" fill="#e8222c"/><circle cx="34.8" cy="141.7" r="1.47" fill="#e8222c"/><circle cx="149.7" cy="79.3" r="1.22" fill="#e8222c"/><circle cx="42.2" cy="95.2" r="0.98" fill="#e8222c"/><circle cx="25.0" cy="85.5" r="0.98" fill="#e8222c"/><circle cx="29.9" cy="102.6" r="0.98" fill="#e8222c"/><circle cx="58.0" cy="125.8" r="1.22" fill="#e8222c"/><circle cx="122.8" cy="18.2" r="0.98" fill="#e8222c"/><circle cx="84.9" cy="18.2" r="0.98" fill="#e8222c"/><circle cx="116.7" cy="107.5" r="1.22" fill="#e8222c"/><circle cx="110.6" cy="127.0" r="0.98" fill="#e8222c"/><circle cx="127.7" cy="128.2" r="1.22" fill="#e8222c"/><circle cx="39.7" cy="87.9" r="0.98" fill="#e8222c"/><circle cx="44.6" cy="140.5" r="1.22" fill="#e8222c"/><circle cx="113.1" cy="58.6" r="0.98" fill="#e8222c"/><circle cx="66.6" cy="146.6" r="1.22" fill="#e8222c"/><circle cx="76.4" cy="13.3" r="1.22" fill="#3ad23a"/><circle cx="51.9" cy="116.0" r="1.22" fill="#3ad23a"/><circle cx="66.6" cy="123.3" r="1.22" fill="#3ad23a"/><circle cx="86.2" cy="122.1" r="1.22" fill="#3ad23a"/><circle cx="64.2" cy="129.5" r="1.22" fill="#3ad23a"/><circle cx="117.9" cy="119.7" r="1.22" fill="#3ad23a"/><circle cx="38.5" cy="94.0" r="0.98" fill="#3ad23a"/><circle cx="67.8" cy="24.3" r="1.22" fill="#efe22a"/><circle cx="105.7" cy="20.7" r="0.98" fill="#efe22a"/><circle cx="34.8" cy="106.2" r="1.47" fill="#efe22a"/><circle cx="73.9" cy="122.1" r="1.22" fill="#efe22a"/><circle cx="43.4" cy="135.6" r="1.22" fill="#efe22a"/><circle cx="48.3" cy="57.3" r="1.22" fill="#d8d8e8"/><circle cx="41.7" cy="133.9" r="1.22" fill="#e8222c"/><circle cx="80.0" cy="25.7" r="0.86" fill="#e8222c" opacity="0.85"/><circle cx="63.8" cy="136.5" r="1.11" fill="#c81c28" opacity="0.85"/><circle cx="25.0" cy="93.5" r="0.77" fill="#c81c28" opacity="0.85"/><circle cx="130.1" cy="92.4" r="1.14" fill="#e8222c" opacity="0.85"/><circle cx="16.4" cy="95.6" r="1.21" fill="#c81c28" opacity="0.85"/><circle cx="25.0" cy="100.1" r="1.01" fill="#c81c28" opacity="0.85"/><circle cx="81.9" cy="35.6" r="1.12" fill="#c81c28" opacity="0.85"/><circle cx="149.4" cy="41.2" r="0.92" fill="#c81c28" opacity="0.85"/><circle cx="118.8" cy="21.5" r="0.83" fill="#c81c28" opacity="0.85"/><circle cx="103.0" cy="26.2" r="1.10" fill="#c81c28" opacity="0.85"/><circle cx="144.3" cy="63.6" r="0.97" fill="#c81c28" opacity="0.85"/><circle cx="45.0" cy="136.2" r="0.84" fill="#e8222c" opacity="0.85"/><circle cx="9.4" cy="134.8" r="1.11" fill="#c81c28" opacity="0.85"/><circle cx="145.1" cy="51.7" r="0.75" fill="#c81c28" opacity="0.85"/><circle cx="134.1" cy="101.2" r="1.00" fill="#c81c28" opacity="0.85"/><circle cx="42.0" cy="116.6" r="1.15" fill="#e8222c" opacity="0.85"/><circle cx="39.2" cy="128.9" r="1.11" fill="#e8222c" opacity="0.85"/><circle cx="61.5" cy="12.1" r="0.91" fill="#e8222c" opacity="0.85"/><circle cx="22.2" cy="126.9" r="0.82" fill="#e8222c" opacity="0.85"/><circle cx="54.6" cy="149.4" r="0.75" fill="#e8222c" opacity="0.85"/><circle cx="18.2" cy="113.0" r="0.80" fill="#e8222c" opacity="0.85"/><circle cx="44.5" cy="135.8" r="1.01" fill="#c81c28" opacity="0.85"/><circle cx="116.5" cy="124.5" r="0.89" fill="#e8222c" opacity="0.85"/><circle cx="129.6" cy="31.2" r="1.22" fill="#c81c28" opacity="0.85"/><circle cx="114.5" cy="33.7" r="1.06" fill="#c81c28" opacity="0.85"/><circle cx="80.4" cy="33.2" r="0.96" fill="#c81c28" opacity="0.85"/><circle cx="148.5" cy="47.0" r="0.97" fill="#3ad23a" opacity="0.85"/><circle cx="98.4" cy="24.5" r="0.93" fill="#3ad23a" opacity="0.85"/><circle cx="64.6" cy="124.7" r="0.91" fill="#3ad23a" opacity="0.85"/><circle cx="144.4" cy="5.3" r="0.95" fill="#3ad23a" opacity="0.85"/><circle cx="26.2" cy="124.5" r="1.21" fill="#3ad23a" opacity="0.85"/><circle cx="9.5" cy="127.3" r="1.05" fill="#3ad23a" opacity="0.85"/></g>
<g filter="url(#bt)"><rect x="34.3" y="126.3" width="17.1" height="16.6" fill="none" stroke="#f2f2f2" stroke-width="1.3"/><text x="92.3" y="143.6" font-size="19" fill="#f4f4f4" textLength="53.8" lengthAdjust="spacingAndGlyphs">CCCP</text></g>
</svg>
<svg x="427.3" y="579.6" width="151.7" height="151.4" viewBox="0 0 151.7 151.4">
<rect x="-1" y="-1" width="153.7" height="153.4" fill="#050508"/>
<g filter="url(#b1)"><path d="M87.0,40.2 C87.6,43.6 87.2,47.7 85.8,51.0 C84.4,54.3 81.7,57.7 78.7,60.0 C75.7,62.2 71.6,64.0 67.8,64.7 C64.0,65.4 59.4,65.1 55.8,64.0 C52.2,62.9 48.6,60.6 46.2,58.0 C43.7,55.4 41.9,51.7 41.3,48.3 C40.7,44.9 41.2,40.8 42.5,37.5 C43.9,34.2 46.6,30.8 49.6,28.5 C52.6,26.3 56.7,24.5 60.5,23.8 C64.4,23.1 68.9,23.4 72.5,24.5 C76.1,25.6 79.7,27.9 82.2,30.5 C84.6,33.1 86.4,36.8 87.0,40.2Z" fill="#12306e" opacity="1"/><g filter="url(#b2)"><clipPath id="c427_579_1"><path d="M87.0,40.2 C87.6,43.6 87.2,47.7 85.8,51.0 C84.4,54.3 81.7,57.7 78.7,60.0 C75.7,62.2 71.6,64.0 67.8,64.7 C64.0,65.4 59.4,65.1 55.8,64.0 C52.2,62.9 48.6,60.6 46.2,58.0 C43.7,55.4 41.9,51.7 41.3,48.3 C40.7,44.9 41.2,40.8 42.5,37.5 C43.9,34.2 46.6,30.8 49.6,28.5 C52.6,26.3 56.7,24.5 60.5,23.8 C64.4,23.1 68.9,23.4 72.5,24.5 C76.1,25.6 79.7,27.9 82.2,30.5 C84.6,33.1 86.4,36.8 87.0,40.2Z"/></clipPath><g clip-path="url(#c427_579_1)"><circle cx="73.9" cy="58.2" r="2.5" fill="#2358b8" opacity="0.22"/><circle cx="72.0" cy="27.5" r="4.3" fill="#08163c" opacity="0.34"/><circle cx="74.4" cy="55.1" r="3.3" fill="#2358b8" opacity="0.40"/><circle cx="46.6" cy="44.9" r="4.9" fill="#2358b8" opacity="0.28"/><circle cx="55.2" cy="62.8" r="2.3" fill="#2358b8" opacity="0.37"/><circle cx="48.5" cy="37.2" r="2.9" fill="#08163c" opacity="0.26"/><circle cx="82.2" cy="61.6" r="2.9" fill="#2358b8" opacity="0.20"/><circle cx="45.7" cy="51.0" r="4.4" fill="#2358b8" opacity="0.40"/></g></g><path d="M125.7,55.8 C124.9,60.3 122.9,65.2 120.5,68.8 C118.0,72.4 114.4,75.6 111.0,77.3 C107.5,79.0 103.3,79.7 99.7,79.0 C96.2,78.4 92.4,76.4 89.8,73.6 C87.1,70.8 84.9,66.5 83.8,62.3 C82.7,58.1 82.5,52.8 83.3,48.3 C84.1,43.8 86.1,38.9 88.5,35.4 C91.0,31.8 94.6,28.6 98.0,26.9 C101.5,25.1 105.7,24.5 109.3,25.1 C112.8,25.7 116.5,27.8 119.2,30.6 C121.9,33.4 124.1,37.6 125.2,41.8 C126.3,46.0 126.5,51.3 125.7,55.8Z" fill="#12306e" opacity="1"/><g filter="url(#b2)"><clipPath id="c427_579_2"><path d="M125.7,55.8 C124.9,60.3 122.9,65.2 120.5,68.8 C118.0,72.4 114.4,75.6 111.0,77.3 C107.5,79.0 103.3,79.7 99.7,79.0 C96.2,78.4 92.4,76.4 89.8,73.6 C87.1,70.8 84.9,66.5 83.8,62.3 C82.7,58.1 82.5,52.8 83.3,48.3 C84.1,43.8 86.1,38.9 88.5,35.4 C91.0,31.8 94.6,28.6 98.0,26.9 C101.5,25.1 105.7,24.5 109.3,25.1 C112.8,25.7 116.5,27.8 119.2,30.6 C121.9,33.4 124.1,37.6 125.2,41.8 C126.3,46.0 126.5,51.3 125.7,55.8Z"/></clipPath><g clip-path="url(#c427_579_2)"><circle cx="119.7" cy="39.5" r="4.2" fill="#2358b8" opacity="0.20"/><circle cx="104.3" cy="33.4" r="2.4" fill="#08163c" opacity="0.33"/><circle cx="124.6" cy="32.2" r="3.5" fill="#2358b8" opacity="0.35"/><circle cx="105.9" cy="38.2" r="3.9" fill="#08163c" opacity="0.32"/><circle cx="110.8" cy="46.2" r="4.4" fill="#08163c" opacity="0.28"/><circle cx="118.6" cy="38.6" r="2.6" fill="#08163c" opacity="0.28"/><circle cx="120.4" cy="38.5" r="3.1" fill="#08163c" opacity="0.28"/><circle cx="96.6" cy="49.3" r="4.3" fill="#08163c" opacity="0.40"/><circle cx="113.5" cy="68.9" r="3.6" fill="#08163c" opacity="0.27"/></g></g><path d="M102.1,81.2 C103.4,86.0 103.1,91.9 101.5,96.8 C99.8,101.8 96.2,107.0 92.0,110.7 C87.8,114.4 81.9,117.5 76.3,119.0 C70.7,120.5 64.0,120.8 58.5,119.7 C53.0,118.6 47.3,115.8 43.4,112.4 C39.5,109.0 36.3,104.0 35.0,99.2 C33.7,94.4 34.0,88.5 35.7,83.6 C37.3,78.7 40.9,73.5 45.1,69.8 C49.3,66.1 55.2,62.9 60.8,61.4 C66.4,59.9 73.2,59.7 78.6,60.8 C84.1,61.9 89.8,64.6 93.7,68.0 C97.6,71.4 100.8,76.4 102.1,81.2Z" fill="#133274" opacity="1"/><g filter="url(#b2)"><clipPath id="c427_579_3"><path d="M102.1,81.2 C103.4,86.0 103.1,91.9 101.5,96.8 C99.8,101.8 96.2,107.0 92.0,110.7 C87.8,114.4 81.9,117.5 76.3,119.0 C70.7,120.5 64.0,120.8 58.5,119.7 C53.0,118.6 47.3,115.8 43.4,112.4 C39.5,109.0 36.3,104.0 35.0,99.2 C33.7,94.4 34.0,88.5 35.7,83.6 C37.3,78.7 40.9,73.5 45.1,69.8 C49.3,66.1 55.2,62.9 60.8,61.4 C66.4,59.9 73.2,59.7 78.6,60.8 C84.1,61.9 89.8,64.6 93.7,68.0 C97.6,71.4 100.8,76.4 102.1,81.2Z"/></clipPath><g clip-path="url(#c427_579_3)"><circle cx="61.6" cy="73.8" r="2.9" fill="#08163c" opacity="0.25"/><circle cx="95.9" cy="107.8" r="3.9" fill="#08163c" opacity="0.24"/><circle cx="71.5" cy="101.5" r="3.3" fill="#2358b8" opacity="0.38"/><circle cx="53.0" cy="83.3" r="4.3" fill="#08163c" opacity="0.34"/><circle cx="61.7" cy="61.9" r="3.4" fill="#08163c" opacity="0.35"/><circle cx="91.7" cy="92.0" r="4.7" fill="#08163c" opacity="0.28"/><circle cx="46.8" cy="63.6" r="4.5" fill="#08163c" opacity="0.39"/><circle cx="72.4" cy="102.0" r="2.1" fill="#2358b8" opacity="0.35"/><circle cx="42.0" cy="71.5" r="2.4" fill="#08163c" opacity="0.20"/><circle cx="88.6" cy="90.0" r="4.1" fill="#08163c" opacity="0.32"/><circle cx="65.4" cy="99.0" r="3.2" fill="#2358b8" opacity="0.37"/><circle cx="90.9" cy="80.9" r="2.6" fill="#08163c" opacity="0.21"/><circle cx="99.9" cy="77.4" r="4.6" fill="#08163c" opacity="0.32"/><circle cx="51.7" cy="78.9" r="4.2" fill="#2358b8" opacity="0.39"/><circle cx="50.9" cy="76.7" r="2.2" fill="#08163c" opacity="0.40"/><circle cx="72.8" cy="88.8" r="3.0" fill="#2358b8" opacity="0.33"/></g></g><path d="M45.8,59.4 L98.4,78.5" stroke="#2a66c8" stroke-width="1.6" fill="none"/><path d="M157.6,145.0 C157.6,147.1 156.7,149.5 155.3,151.3 C153.8,153.2 151.5,154.9 149.0,156.0 C146.5,157.1 143.3,157.7 140.4,157.7 C137.6,157.7 134.4,157.1 131.9,156.0 C129.4,154.9 127.0,153.2 125.6,151.3 C124.2,149.5 123.3,147.1 123.3,145.0 C123.3,142.9 124.2,140.5 125.6,138.6 C127.0,136.8 129.4,135.0 131.9,134.0 C134.4,132.9 137.6,132.3 140.4,132.3 C143.3,132.3 146.5,132.9 149.0,134.0 C151.5,135.0 153.8,136.8 155.3,138.6 C156.7,140.5 157.6,142.9 157.6,145.0Z" fill="#2058c8" opacity="1"/><g filter="url(#b2)"><clipPath id="c427_579_4"><path d="M157.6,145.0 C157.6,147.1 156.7,149.5 155.3,151.3 C153.8,153.2 151.5,154.9 149.0,156.0 C146.5,157.1 143.3,157.7 140.4,157.7 C137.6,157.7 134.4,157.1 131.9,156.0 C129.4,154.9 127.0,153.2 125.6,151.3 C124.2,149.5 123.3,147.1 123.3,145.0 C123.3,142.9 124.2,140.5 125.6,138.6 C127.0,136.8 129.4,135.0 131.9,134.0 C134.4,132.9 137.6,132.3 140.4,132.3 C143.3,132.3 146.5,132.9 149.0,134.0 C151.5,135.0 153.8,136.8 155.3,138.6 C156.7,140.5 157.6,142.9 157.6,145.0Z"/></clipPath><g clip-path="url(#c427_579_4)"><circle cx="128.7" cy="133.5" r="2.5" fill="#123a98" opacity="0.36"/><circle cx="148.4" cy="138.0" r="2.7" fill="#123a98" opacity="0.25"/><circle cx="146.6" cy="151.3" r="2.7" fill="#123a98" opacity="0.25"/><circle cx="131.4" cy="156.3" r="3.7" fill="#123a98" opacity="0.39"/></g></g><circle cx="67.3" cy="80.9" r="1.47" fill="#58d8e8"/><circle cx="62.9" cy="62.6" r="0.98" fill="#48b8d8"/><circle cx="48.3" cy="60.1" r="0.98" fill="#48b8d8"/><circle cx="92.3" cy="35.7" r="0.73" fill="#48b8d8"/><circle cx="34.3" cy="25.9" r="1.96" fill="#e8222c"/><circle cx="82.5" cy="16.1" r="1.96" fill="#e8222c"/><circle cx="97.2" cy="19.8" r="1.71" fill="#e8222c"/><circle cx="131.4" cy="65.0" r="1.71" fill="#e8222c"/><circle cx="114.3" cy="28.4" r="2.20" fill="#e8222c"/><circle cx="124.1" cy="33.3" r="1.96" fill="#e8222c"/><circle cx="135.1" cy="54.0" r="1.71" fill="#e8222c"/><circle cx="33.6" cy="98.0" r="1.96" fill="#e8222c"/><circle cx="44.6" cy="112.7" r="2.20" fill="#e8222c"/><circle cx="105.7" cy="84.6" r="1.96" fill="#e8222c"/><circle cx="115.5" cy="77.3" r="1.71" fill="#e8222c"/><circle cx="80.0" cy="123.7" r="1.47" fill="#e8222c"/><circle cx="34.8" cy="127.4" r="1.22" fill="#e8222c"/><circle cx="48.3" cy="18.6" r="1.22" fill="#e8222c"/><circle cx="132.6" cy="39.4" r="1.22" fill="#e8222c"/><circle cx="54.4" cy="122.5" r="1.47" fill="#e8222c"/><circle cx="122.8" cy="21.0" r="0.98" fill="#e8222c"/><circle cx="20.1" cy="90.7" r="0.98" fill="#e8222c"/><circle cx="11.6" cy="89.5" r="0.98" fill="#e8222c"/><circle cx="136.3" cy="73.6" r="1.47" fill="#e8222c"/><circle cx="38.5" cy="54.0" r="1.47" fill="#e8222c"/><circle cx="29.9" cy="85.8" r="1.47" fill="#e8222c"/><ellipse cx="25.0" cy="60.9" rx="3.18" ry="4.16" fill="#e8222c" transform="rotate(20 25.0 60.9)"/><ellipse cx="143.6" cy="67.5" rx="3.18" ry="3.67" fill="#e8222c" transform="rotate(0 143.6 67.5)"/><circle cx="87.4" cy="21.0" r="1.96" fill="#3ad23a"/><circle cx="98.4" cy="25.9" r="2.20" fill="#3ad23a"/><circle cx="116.7" cy="32.0" r="1.96" fill="#3ad23a"/><circle cx="28.7" cy="79.7" r="1.96" fill="#3ad23a"/><circle cx="31.1" cy="91.9" r="1.96" fill="#3ad23a"/><circle cx="39.7" cy="107.8" r="2.44" fill="#3ad23a"/><circle cx="60.5" cy="121.3" r="2.20" fill="#3ad23a"/><circle cx="70.3" cy="122.5" r="1.47" fill="#3ad23a"/><circle cx="76.4" cy="122.0" r="1.47" fill="#3ad23a"/><circle cx="108.2" cy="98.0" r="1.71" fill="#3ad23a"/><circle cx="130.2" cy="56.5" r="2.20" fill="#3ad23a"/><circle cx="136.3" cy="47.9" r="1.96" fill="#3ad23a"/><circle cx="126.5" cy="80.9" r="1.47" fill="#3ad23a"/><circle cx="36.0" cy="52.8" r="1.47" fill="#3ad23a"/><circle cx="93.0" cy="27.1" r="1.47" fill="#3ad23a"/><circle cx="37.3" cy="40.6" r="0.98" fill="#3ad23a"/><circle cx="128.9" cy="61.4" r="1.47" fill="#3ad23a"/><circle cx="47.0" cy="110.3" r="1.71" fill="#3ad23a"/><circle cx="106.9" cy="105.4" r="1.22" fill="#3ad23a"/><circle cx="40.9" cy="47.9" r="1.22" fill="#3ad23a"/><ellipse cx="32.4" cy="67.5" rx="2.69" ry="3.91" fill="#3ad23a" transform="rotate(10 32.4 67.5)"/><ellipse cx="112.6" cy="85.8" rx="2.93" ry="2.44" fill="#3ad23a" transform="rotate(0 112.6 85.8)"/><circle cx="40.9" cy="57.7" r="1.47" fill="#efe22a"/></g>
<g filter="url(#bt)"><text x="45.3" y="148.9" font-size="19" fill="#f4f4f4" textLength="102.0" lengthAdjust="spacingAndGlyphs">Heat Shock</text></g>
</svg>
<svg x="427.3" y="746.5" width="151.7" height="151.5" viewBox="0 0 151.7 151.5">
<rect x="-1" y="-1" width="153.7" height="153.5" fill="#050508"/>
<g filter="url(#b1)"><path d="M-1.9,-2.1 C7.5,-7.8 45.2,-4.9 54.4,-2.1 C63.5,0.8 54.2,9.4 53.2,15.1 C52.1,20.8 50.9,27.5 48.3,32.2 C45.6,36.9 41.5,40.7 37.3,43.2 C33.0,45.6 27.5,47.0 22.6,46.8 C17.7,46.6 12.0,44.4 7.9,42.0 C3.8,39.5 -0.2,39.5 -1.9,32.2 C-3.5,24.8 -11.2,3.7 -1.9,-2.1Z" fill="#1a48b0" opacity="1"/><g filter="url(#b2)"><clipPath id="c427_746_1"><path d="M-1.9,-2.1 C7.5,-7.8 45.2,-4.9 54.4,-2.1 C63.5,0.8 54.2,9.4 53.2,15.1 C52.1,20.8 50.9,27.5 48.3,32.2 C45.6,36.9 41.5,40.7 37.3,43.2 C33.0,45.6 27.5,47.0 22.6,46.8 C17.7,46.6 12.0,44.4 7.9,42.0 C3.8,39.5 -0.2,39.5 -1.9,32.2 C-3.5,24.8 -11.2,3.7 -1.9,-2.1Z"/></clipPath><g clip-path="url(#c427_746_1)"><circle cx="19.3" cy="43.3" r="4.5" fill="#06103a" opacity="0.23"/><circle cx="47.2" cy="29.1" r="2.1" fill="#06103a" opacity="0.39"/><circle cx="12.5" cy="12.9" r="3.3" fill="#06103a" opacity="0.31"/><circle cx="5.1" cy="31.5" r="4.5" fill="#06103a" opacity="0.29"/><circle cx="42.8" cy="28.5" r="4.5" fill="#06103a" opacity="0.22"/><circle cx="18.3" cy="20.9" r="2.3" fill="#06103a" opacity="0.39"/><circle cx="33.9" cy="2.7" r="3.7" fill="#06103a" opacity="0.27"/><circle cx="8.8" cy="5.8" r="3.4" fill="#06103a" opacity="0.20"/><circle cx="29.8" cy="23.1" r="2.4" fill="#06103a" opacity="0.37"/><circle cx="0.4" cy="6.4" r="4.5" fill="#06103a" opacity="0.23"/><circle cx="22.0" cy="25.3" r="3.3" fill="#06103a" opacity="0.29"/><circle cx="26.5" cy="21.6" r="2.2" fill="#06103a" opacity="0.36"/><circle cx="14.0" cy="0.3" r="3.2" fill="#06103a" opacity="0.36"/><circle cx="33.5" cy="20.3" r="3.4" fill="#06103a" opacity="0.23"/><circle cx="32.9" cy="15.1" r="2.2" fill="#06103a" opacity="0.21"/><circle cx="3.4" cy="31.4" r="4.6" fill="#06103a" opacity="0.35"/></g></g><circle cx="12.8" cy="10.2" r="5.38" fill="#071238"/><circle cx="5.5" cy="22.4" r="3.42" fill="#071238"/><circle cx="32.4" cy="7.7" r="3.91" fill="#071238"/><circle cx="20.1" cy="24.8" r="4.40" fill="#071238"/><circle cx="39.7" cy="24.8" r="2.93" fill="#071238"/><circle cx="25.0" cy="37.1" r="2.44" fill="#071238"/><path d="M108.7,97.1 C106.3,103.0 102.3,109.3 98.2,113.7 C94.0,118.0 88.7,121.6 83.9,123.2 C79.2,124.7 73.8,124.7 69.7,123.0 C65.7,121.4 61.8,117.7 59.4,113.3 C57.1,108.8 55.7,102.5 55.8,96.5 C55.8,90.5 57.3,83.3 59.7,77.3 C62.1,71.3 66.1,65.1 70.2,60.7 C74.4,56.4 79.8,52.8 84.5,51.2 C89.2,49.7 94.6,49.7 98.7,51.4 C102.8,53.0 106.7,56.7 109.0,61.1 C111.3,65.5 112.7,71.9 112.6,77.8 C112.6,83.8 111.1,91.1 108.7,97.1Z" fill="#1b4ab4" opacity="1"/><g filter="url(#b2)"><clipPath id="c427_746_2"><path d="M108.7,97.1 C106.3,103.0 102.3,109.3 98.2,113.7 C94.0,118.0 88.7,121.6 83.9,123.2 C79.2,124.7 73.8,124.7 69.7,123.0 C65.7,121.4 61.8,117.7 59.4,113.3 C57.1,108.8 55.7,102.5 55.8,96.5 C55.8,90.5 57.3,83.3 59.7,77.3 C62.1,71.3 66.1,65.1 70.2,60.7 C74.4,56.4 79.8,52.8 84.5,51.2 C89.2,49.7 94.6,49.7 98.7,51.4 C102.8,53.0 106.7,56.7 109.0,61.1 C111.3,65.5 112.7,71.9 112.6,77.8 C112.6,83.8 111.1,91.1 108.7,97.1Z"/></clipPath><g clip-path="url(#c427_746_2)"><circle cx="68.3" cy="61.8" r="4.9" fill="#06103a" opacity="0.26"/><circle cx="65.3" cy="92.3" r="3.9" fill="#06103a" opacity="0.30"/><circle cx="81.5" cy="73.1" r="3.5" fill="#06103a" opacity="0.28"/><circle cx="94.5" cy="83.5" r="3.1" fill="#06103a" opacity="0.40"/><circle cx="62.1" cy="105.6" r="3.3" fill="#06103a" opacity="0.36"/><circle cx="96.0" cy="91.9" r="3.8" fill="#06103a" opacity="0.23"/><circle cx="56.7" cy="104.9" r="2.8" fill="#06103a" opacity="0.20"/><circle cx="101.9" cy="93.7" r="2.1" fill="#06103a" opacity="0.29"/><circle cx="65.1" cy="113.5" r="2.8" fill="#06103a" opacity="0.39"/><circle cx="90.6" cy="56.9" r="3.2" fill="#06103a" opacity="0.39"/><circle cx="95.6" cy="62.4" r="3.1" fill="#06103a" opacity="0.24"/><circle cx="61.1" cy="93.9" r="4.1" fill="#06103a" opacity="0.23"/><circle cx="87.2" cy="113.2" r="4.7" fill="#06103a" opacity="0.22"/><circle cx="60.0" cy="116.8" r="3.0" fill="#06103a" opacity="0.22"/><circle cx="101.2" cy="70.2" r="4.2" fill="#06103a" opacity="0.33"/><circle cx="72.4" cy="84.4" r="2.9" fill="#06103a" opacity="0.36"/><circle cx="71.9" cy="70.9" r="4.6" fill="#06103a" opacity="0.24"/><circle cx="80.6" cy="88.3" r="2.0" fill="#06103a" opacity="0.24"/></g></g><circle cx="76.4" cy="84.7" r="5.38" fill="#071238"/><circle cx="94.7" cy="81.1" r="4.40" fill="#071238"/><circle cx="72.7" cy="110.4" r="5.87" fill="#071238"/><circle cx="81.3" cy="68.9" r="3.42" fill="#071238"/><circle cx="91.1" cy="100.6" r="3.42" fill="#071238"/><circle cx="66.6" cy="98.2" r="2.93" fill="#071238"/><circle cx="98.4" cy="66.4" r="2.44" fill="#071238"/><path d="M173.0,29.7 C173.0,35.2 172.0,41.5 170.5,46.2 C169.0,51.0 166.4,55.6 163.8,58.3 C161.1,61.1 157.7,62.7 154.6,62.7 C151.6,62.7 148.1,61.1 145.5,58.3 C142.8,55.6 140.3,51.0 138.7,46.2 C137.2,41.5 136.3,35.2 136.3,29.7 C136.3,24.2 137.2,18.0 138.7,13.2 C140.3,8.5 142.8,3.9 145.5,1.1 C148.1,-1.6 151.6,-3.3 154.6,-3.3 C157.7,-3.3 161.1,-1.6 163.8,1.1 C166.4,3.9 169.0,8.5 170.5,13.2 C172.0,18.0 173.0,24.2 173.0,29.7Z" fill="#1b4ab4" opacity="1"/><g filter="url(#b2)"><clipPath id="c427_746_3"><path d="M173.0,29.7 C173.0,35.2 172.0,41.5 170.5,46.2 C169.0,51.0 166.4,55.6 163.8,58.3 C161.1,61.1 157.7,62.7 154.6,62.7 C151.6,62.7 148.1,61.1 145.5,58.3 C142.8,55.6 140.3,51.0 138.7,46.2 C137.2,41.5 136.3,35.2 136.3,29.7 C136.3,24.2 137.2,18.0 138.7,13.2 C140.3,8.5 142.8,3.9 145.5,1.1 C148.1,-1.6 151.6,-3.3 154.6,-3.3 C157.7,-3.3 161.1,-1.6 163.8,1.1 C166.4,3.9 169.0,8.5 170.5,13.2 C172.0,18.0 173.0,24.2 173.0,29.7Z"/></clipPath><g clip-path="url(#c427_746_3)"><circle cx="163.6" cy="61.5" r="3.0" fill="#06103a" opacity="0.28"/><circle cx="138.4" cy="28.9" r="3.1" fill="#06103a" opacity="0.29"/><circle cx="147.2" cy="17.4" r="4.7" fill="#06103a" opacity="0.35"/><circle cx="149.5" cy="1.4" r="2.2" fill="#06103a" opacity="0.20"/><circle cx="141.1" cy="35.2" r="3.6" fill="#06103a" opacity="0.21"/><circle cx="168.5" cy="41.0" r="4.1" fill="#06103a" opacity="0.38"/></g></g><path d="M164.4,136.1 C164.4,141.1 162.6,146.7 159.7,151.0 C156.7,155.3 151.8,159.4 146.7,161.9 C141.6,164.4 134.9,165.9 128.9,165.9 C123.0,165.9 116.3,164.4 111.2,161.9 C106.1,159.4 101.2,155.3 98.2,151.0 C95.3,146.7 93.5,141.1 93.5,136.1 C93.5,131.1 95.3,125.5 98.2,121.2 C101.2,116.9 106.1,112.7 111.2,110.3 C116.3,107.8 123.0,106.3 128.9,106.3 C134.9,106.3 141.6,107.8 146.7,110.3 C151.8,112.7 156.7,116.9 159.7,121.2 C162.6,125.5 164.4,131.1 164.4,136.1Z" fill="#1e55c8" opacity="1"/><g filter="url(#b2)"><clipPath id="c427_746_4"><path d="M164.4,136.1 C164.4,141.1 162.6,146.7 159.7,151.0 C156.7,155.3 151.8,159.4 146.7,161.9 C141.6,164.4 134.9,165.9 128.9,165.9 C123.0,165.9 116.3,164.4 111.2,161.9 C106.1,159.4 101.2,155.3 98.2,151.0 C95.3,146.7 93.5,141.1 93.5,136.1 C93.5,131.1 95.3,125.5 98.2,121.2 C101.2,116.9 106.1,112.7 111.2,110.3 C116.3,107.8 123.0,106.3 128.9,106.3 C134.9,106.3 141.6,107.8 146.7,110.3 C151.8,112.7 156.7,116.9 159.7,121.2 C162.6,125.5 164.4,131.1 164.4,136.1Z"/></clipPath><g clip-path="url(#c427_746_4)"><circle cx="115.7" cy="160.1" r="4.9" fill="#0a1a58" opacity="0.38"/><circle cx="96.7" cy="157.0" r="5.0" fill="#0a1a58" opacity="0.20"/><circle cx="154.9" cy="154.9" r="2.1" fill="#0a1a58" opacity="0.34"/><circle cx="147.3" cy="151.0" r="2.2" fill="#0a1a58" opacity="0.39"/><circle cx="98.7" cy="111.3" r="4.8" fill="#0a1a58" opacity="0.29"/><circle cx="106.1" cy="129.8" r="3.9" fill="#0a1a58" opacity="0.24"/><circle cx="158.3" cy="146.6" r="3.2" fill="#0a1a58" opacity="0.26"/><circle cx="101.7" cy="165.1" r="2.9" fill="#0a1a58" opacity="0.39"/><circle cx="131.8" cy="138.3" r="2.5" fill="#0a1a58" opacity="0.29"/><circle cx="100.5" cy="133.0" r="3.8" fill="#0a1a58" opacity="0.38"/></g></g><circle cx="133.8" cy="122.6" r="4.89" fill="#0a1a58"/><circle cx="128.9" cy="137.3" r="3.91" fill="#0a1a58"/><circle cx="142.4" cy="133.6" r="2.93" fill="#0a1a58"/><circle cx="117.9" cy="142.2" r="2.44" fill="#0a1a58"/><circle cx="119.5" cy="20.0" r="1.18" fill="#3ad23a"/><circle cx="47.3" cy="52.4" r="1.10" fill="#3ad23a"/><circle cx="114.3" cy="49.0" r="1.15" fill="#58e050"/><circle cx="92.4" cy="126.5" r="1.24" fill="#3ad23a"/><circle cx="17.5" cy="59.3" r="1.08" fill="#58e050"/><circle cx="74.8" cy="37.9" r="1.55" fill="#58e050"/><circle cx="7.3" cy="76.6" r="1.54" fill="#58e050"/><circle cx="64.8" cy="133.2" r="1.63" fill="#58e050"/><circle cx="118.9" cy="47.9" r="1.37" fill="#58e050"/><circle cx="5.2" cy="44.5" r="1.40" fill="#3ad23a"/><circle cx="80.4" cy="42.0" r="1.44" fill="#3ad23a"/><circle cx="17.8" cy="69.5" r="1.43" fill="#58e050"/><circle cx="104.9" cy="117.7" r="1.62" fill="#3ad23a"/><circle cx="92.6" cy="142.4" r="1.24" fill="#3ad23a"/><circle cx="107.4" cy="120.0" r="1.03" fill="#58e050"/><circle cx="127.2" cy="95.5" r="1.59" fill="#3ad23a"/><circle cx="51.5" cy="119.9" r="1.49" fill="#3ad23a"/><circle cx="75.6" cy="142.2" r="1.15" fill="#3ad23a"/><circle cx="115.0" cy="87.4" r="1.17" fill="#3ad23a"/><circle cx="47.6" cy="58.0" r="1.47" fill="#3ad23a"/><circle cx="97.3" cy="142.3" r="0.99" fill="#3ad23a"/><circle cx="106.4" cy="7.3" r="1.43" fill="#3ad23a"/><circle cx="50.7" cy="50.1" r="1.03" fill="#58e050"/><circle cx="10.4" cy="73.2" r="1.06" fill="#3ad23a"/><circle cx="20.5" cy="69.5" r="1.69" fill="#3ad23a"/><circle cx="83.7" cy="29.8" r="1.02" fill="#3ad23a"/><circle cx="91.4" cy="30.0" r="1.60" fill="#3ad23a"/><circle cx="108.1" cy="134.7" r="1.01" fill="#3ad23a"/><circle cx="99.8" cy="24.7" r="1.19" fill="#3ad23a"/><circle cx="22.3" cy="55.9" r="1.48" fill="#3ad23a"/><circle cx="55.9" cy="52.2" r="1.16" fill="#58e050"/><circle cx="119.3" cy="104.5" r="1.46" fill="#3ad23a"/><circle cx="58.3" cy="39.5" r="1.00" fill="#3ad23a"/><circle cx="10.2" cy="77.0" r="1.00" fill="#3ad23a"/><circle cx="67.2" cy="51.5" r="1.51" fill="#3ad23a"/><circle cx="114.0" cy="42.5" r="1.63" fill="#3ad23a"/><circle cx="113.9" cy="57.2" r="1.00" fill="#3ad23a"/><circle cx="103.2" cy="53.9" r="1.11" fill="#3ad23a"/><circle cx="116.9" cy="49.9" r="1.13" fill="#3ad23a"/><circle cx="115.8" cy="102.9" r="1.33" fill="#58e050"/><circle cx="48.7" cy="106.0" r="1.20" fill="#58e050"/><circle cx="23.9" cy="52.3" r="1.38" fill="#58e050"/><circle cx="79.0" cy="134.1" r="1.62" fill="#3ad23a"/><circle cx="23.0" cy="77.3" r="1.38" fill="#3ad23a"/><circle cx="48.8" cy="89.3" r="1.07" fill="#3ad23a"/><circle cx="121.0" cy="62.5" r="1.59" fill="#3ad23a"/><circle cx="108.4" cy="41.1" r="1.50" fill="#3ad23a"/><circle cx="81.3" cy="40.7" r="1.11" fill="#3ad23a"/><circle cx="89.7" cy="29.0" r="1.07" fill="#58e050"/><circle cx="23.3" cy="51.3" r="1.59" fill="#3ad23a"/><circle cx="45.9" cy="58.7" r="1.56" fill="#3ad23a"/><circle cx="120.8" cy="80.9" r="1.39" fill="#3ad23a"/><circle cx="65.9" cy="124.8" r="1.25" fill="#3ad23a"/><circle cx="44.5" cy="64.7" r="1.13" fill="#3ad23a"/><circle cx="70.6" cy="33.8" r="1.13" fill="#58e050"/><circle cx="112.9" cy="53.7" r="1.13" fill="#3ad23a"/><circle cx="127.4" cy="14.4" r="1.60" fill="#3ad23a"/><circle cx="108.9" cy="35.2" r="1.23" fill="#3ad23a"/><circle cx="22.8" cy="71.1" r="1.53" fill="#3ad23a"/><circle cx="49.1" cy="100.4" r="1.53" fill="#3ad23a"/><circle cx="107.6" cy="129.1" r="1.32" fill="#3ad23a"/><circle cx="127.2" cy="81.3" r="1.58" fill="#3ad23a"/><circle cx="52.1" cy="66.7" r="1.47" fill="#58e050"/><circle cx="15.4" cy="55.9" r="1.11" fill="#58e050"/><circle cx="49.3" cy="91.1" r="1.51" fill="#3ad23a"/><circle cx="82.1" cy="27.2" r="1.25" fill="#3ad23a"/><circle cx="120.5" cy="106.0" r="1.18" fill="#58e050"/><circle cx="91.2" cy="29.1" r="1.01" fill="#58e050"/><circle cx="56.2" cy="136.1" r="1.35" fill="#3ad23a"/><circle cx="113.8" cy="70.7" r="1.40" fill="#3ad23a"/><circle cx="118.7" cy="87.9" r="0.89" fill="#e8222c"/><circle cx="123.5" cy="22.0" r="1.28" fill="#e8222c"/><circle cx="22.9" cy="65.3" r="1.02" fill="#e8222c"/><circle cx="112.9" cy="98.2" r="1.02" fill="#e8222c"/><circle cx="93.7" cy="128.5" r="1.29" fill="#f08a22"/><circle cx="56.1" cy="86.5" r="1.28" fill="#e8222c"/><circle cx="23.4" cy="66.8" r="1.42" fill="#e8222c"/><circle cx="115.0" cy="64.1" r="1.39" fill="#e8222c"/><circle cx="86.2" cy="29.0" r="1.01" fill="#e8222c"/><circle cx="21.4" cy="47.7" r="0.75" fill="#e8222c"/><circle cx="97.9" cy="14.9" r="1.08" fill="#f08a22"/><circle cx="117.3" cy="104.5" r="0.97" fill="#f08a22"/><circle cx="59.1" cy="113.7" r="0.97" fill="#f08a22"/><circle cx="117.7" cy="128.5" r="1.21" fill="#e8222c"/><circle cx="24.4" cy="60.0" r="1.02" fill="#f08a22"/><circle cx="110.7" cy="26.3" r="1.09" fill="#e8222c"/><circle cx="57.0" cy="67.1" r="1.41" fill="#e8222c"/><circle cx="127.5" cy="90.8" r="1.32" fill="#e8222c"/><circle cx="51.3" cy="118.9" r="1.32" fill="#e8222c"/><circle cx="109.2" cy="45.6" r="1.41" fill="#e8222c"/><circle cx="120.8" cy="57.1" r="1.17" fill="#e8222c"/><circle cx="129.3" cy="75.4" r="0.78" fill="#e8222c"/><circle cx="78.1" cy="142.4" r="1.42" fill="#f08a22"/><circle cx="65.8" cy="31.1" r="1.05" fill="#e8222c"/><circle cx="47.1" cy="100.4" r="1.36" fill="#f08a22"/><circle cx="125.1" cy="90.6" r="0.86" fill="#f08a22"/><circle cx="7.0" cy="48.5" r="0.86" fill="#e8222c"/><circle cx="48.9" cy="67.1" r="0.76" fill="#e8222c"/><circle cx="100.6" cy="18.7" r="1.30" fill="#e8222c"/><circle cx="52.8" cy="47.6" r="1.08" fill="#e8222c"/><circle cx="56.2" cy="40.6" r="1.00" fill="#e8222c"/><circle cx="128.4" cy="97.0" r="0.90" fill="#f08a22"/><circle cx="119.1" cy="93.8" r="1.13" fill="#e8222c"/><circle cx="73.1" cy="142.3" r="0.84" fill="#e8222c"/><circle cx="47.4" cy="98.3" r="1.40" fill="#e8222c"/><circle cx="56.5" cy="79.7" r="1.23" fill="#e8222c"/><circle cx="53.7" cy="99.2" r="1.41" fill="#f08a22"/><circle cx="110.0" cy="15.6" r="1.38" fill="#e8222c"/><circle cx="58.0" cy="41.0" r="1.12" fill="#f08a22"/><circle cx="110.0" cy="36.4" r="1.04" fill="#e8222c"/><circle cx="11.4" cy="74.4" r="0.99" fill="#efe22a"/><circle cx="44.4" cy="116.6" r="1.23" fill="#efe22a"/><circle cx="8.5" cy="66.2" r="1.01" fill="#efe22a"/><circle cx="26.3" cy="60.6" r="1.13" fill="#efe22a"/><circle cx="77.4" cy="40.6" r="1.15" fill="#efe22a"/><circle cx="101.9" cy="34.1" r="1.16" fill="#efe22a"/><circle cx="112.4" cy="50.0" r="1.19" fill="#efe22a"/><circle cx="121.1" cy="112.0" r="1.41" fill="#efe22a"/><circle cx="69.9" cy="137.5" r="1.14" fill="#efe22a"/><circle cx="56.7" cy="70.0" r="1.45" fill="#efe22a"/><circle cx="117.3" cy="56.0" r="1.23" fill="#efe22a"/><circle cx="55.4" cy="107.9" r="1.01" fill="#efe22a"/><circle cx="94.4" cy="129.9" r="1.43" fill="#efe22a"/><circle cx="29.5" cy="60.6" r="1.09" fill="#efe22a"/><circle cx="41.2" cy="82.6" r="1.11" fill="#efe22a"/><circle cx="115.2" cy="8.6" r="1.30" fill="#efe22a"/><circle cx="106.8" cy="121.1" r="1.11" fill="#efe22a"/><circle cx="24.3" cy="63.3" r="1.14" fill="#efe22a"/><circle cx="57.2" cy="70.5" r="1.41" fill="#efe22a"/><circle cx="64.9" cy="122.0" r="1.39" fill="#efe22a"/><circle cx="88.2" cy="141.9" r="1.08" fill="#efe22a"/><circle cx="112.1" cy="63.5" r="1.30" fill="#efe22a"/><circle cx="26.2" cy="61.4" r="1.27" fill="#efe22a"/><circle cx="128.1" cy="95.8" r="1.16" fill="#efe22a"/><circle cx="113.1" cy="80.8" r="1.17" fill="#efe22a"/><circle cx="106.9" cy="18.7" r="2.44" fill="#3ad23a"/><circle cx="122.8" cy="33.4" r="2.20" fill="#3ad23a"/><circle cx="116.7" cy="27.3" r="1.96" fill="#3ad23a"/><circle cx="115.5" cy="7.7" r="1.71" fill="#3ad23a"/><circle cx="124.1" cy="24.8" r="1.71" fill="#3ad23a"/><circle cx="113.1" cy="40.7" r="1.96" fill="#3ad23a"/><circle cx="66.6" cy="50.5" r="1.96" fill="#3ad23a"/><circle cx="43.4" cy="89.6" r="1.71" fill="#3ad23a"/><circle cx="45.8" cy="103.1" r="1.71" fill="#3ad23a"/><circle cx="42.2" cy="112.9" r="1.71" fill="#3ad23a"/><circle cx="51.9" cy="125.1" r="1.47" fill="#3ad23a"/><circle cx="17.7" cy="57.8" r="2.20" fill="#e8222c"/><circle cx="25.0" cy="67.6" r="1.96" fill="#e8222c"/><circle cx="6.7" cy="53.0" r="1.47" fill="#e8222c"/><circle cx="20.1" cy="71.3" r="1.71" fill="#e8222c"/><circle cx="27.5" cy="78.6" r="1.47" fill="#e8222c"/><circle cx="10.4" cy="66.4" r="1.22" fill="#e8222c"/><circle cx="4.3" cy="73.7" r="1.22" fill="#e8222c"/><circle cx="40.9" cy="70.1" r="1.47" fill="#efe22a"/><circle cx="45.8" cy="71.8" r="1.22" fill="#efe22a"/></g>
<g filter="url(#bt)"><rect x="33.6" y="61.0" width="17.1" height="16.4" fill="none" stroke="#f2f2f2" stroke-width="1.3"/><text x="11.6" y="141.0" font-size="19" fill="#f4f4f4" textLength="133.7" lengthAdjust="spacingAndGlyphs">Osmotic Stress</text></g>
</svg>
<svg x="176.6" y="99.1" width="42.6" height="42.0" viewBox="0 0 100 100" preserveAspectRatio="none">
<rect x="-1" y="-1" width="102" height="102" fill="#060a08"/>
<g filter="url(#b3)"><ellipse cx="15" cy="47" rx="9" ry="8" fill="#35d24a" opacity="1" transform="rotate(0 15 47)"/><ellipse cx="40" cy="52" rx="9" ry="9" fill="#35d24a" opacity="1" transform="rotate(0 40 52)"/><ellipse cx="57" cy="45" rx="6" ry="6" fill="#35d24a" opacity="1" transform="rotate(0 57 45)"/><ellipse cx="66" cy="72" rx="10" ry="9" fill="#35d24a" opacity="1" transform="rotate(0 66 72)"/><ellipse cx="80" cy="78" rx="8" ry="7" fill="#35d24a" opacity="1" transform="rotate(0 80 78)"/><ellipse cx="70" cy="88" rx="6" ry="6" fill="#35d24a" opacity="1" transform="rotate(0 70 88)"/><ellipse cx="38" cy="22" rx="5" ry="5" fill="#35d24a" opacity="0.8" transform="rotate(0 38 22)"/><ellipse cx="55" cy="20" rx="3" ry="3" fill="#35d24a" opacity="0.6" transform="rotate(0 55 20)"/><ellipse cx="84" cy="20" rx="5" ry="5" fill="#35d24a" opacity="0.7" transform="rotate(0 84 20)"/><ellipse cx="6" cy="95" rx="6" ry="6" fill="#35d24a" opacity="1" transform="rotate(0 6 95)"/><ellipse cx="45" cy="75" rx="3" ry="3" fill="#35d24a" opacity="0.6" transform="rotate(0 45 75)"/></g>
<g filter="url(#b0)"><path d="M0,38 L100,82" stroke="#f4ecec" stroke-width="2.6" fill="none" stroke-dasharray="3.6 2.6"/></g>
</svg>
<svg x="176.6" y="146.6" width="42.6" height="42.0" viewBox="0 0 100 100" preserveAspectRatio="none">
<rect x="-1" y="-1" width="102" height="102" fill="#1c0508"/>
<g filter="url(#b3)"></g>
<g filter="url(#b0)"><path d="M0,38 L90,80" stroke="#f4ecec" stroke-width="2.6" fill="none" stroke-dasharray="3.6 2.6"/></g>
</svg>
<svg x="176.6" y="194.2" width="42.6" height="41.8" viewBox="0 0 100 100" preserveAspectRatio="none">
<rect x="-1" y="-1" width="102" height="102" fill="#060a0c"/>
<g filter="url(#b3)"><ellipse cx="15" cy="47" rx="9" ry="8" fill="#35d24a" opacity="1" transform="rotate(0 15 47)"/><ellipse cx="40" cy="52" rx="9" ry="9" fill="#35d24a" opacity="1" transform="rotate(0 40 52)"/><ellipse cx="57" cy="45" rx="6" ry="6" fill="#35d24a" opacity="1" transform="rotate(0 57 45)"/><ellipse cx="66" cy="72" rx="10" ry="9" fill="#35d24a" opacity="1" transform="rotate(0 66 72)"/><ellipse cx="80" cy="78" rx="8" ry="7" fill="#35d24a" opacity="1" transform="rotate(0 80 78)"/><ellipse cx="70" cy="88" rx="6" ry="6" fill="#35d24a" opacity="1" transform="rotate(0 70 88)"/><ellipse cx="38" cy="22" rx="5" ry="5" fill="#35d24a" opacity="0.8" transform="rotate(0 38 22)"/><ellipse cx="55" cy="20" rx="3" ry="3" fill="#35d24a" opacity="0.6" transform="rotate(0 55 20)"/><ellipse cx="84" cy="20" rx="5" ry="5" fill="#35d24a" opacity="0.7" transform="rotate(0 84 20)"/><ellipse cx="6" cy="95" rx="6" ry="6" fill="#35d24a" opacity="1" transform="rotate(0 6 95)"/><ellipse cx="45" cy="75" rx="3" ry="3" fill="#35d24a" opacity="0.6" transform="rotate(0 45 75)"/></g>
<g filter="url(#b0)"><path d="M0,38 L100,82" stroke="#f4ecec" stroke-width="2.6" fill="none" stroke-dasharray="3.6 2.6"/></g>
</svg>
<svg x="176.6" y="268.1" width="42.6" height="45.0" viewBox="0 0 100 100" preserveAspectRatio="none">
<rect x="-1" y="-1" width="102" height="102" fill="#070707"/>
<g filter="url(#b3)"><ellipse cx="22" cy="32" rx="17" ry="15" fill="#ee2428" opacity="1" transform="rotate(0 22 32)"/><ellipse cx="45" cy="45" rx="16" ry="14" fill="#ee2428" opacity="1" transform="rotate(20 45 45)"/><ellipse cx="62" cy="58" rx="14" ry="14" fill="#ee2428" opacity="1" transform="rotate(0 62 58)"/><ellipse cx="82" cy="60" rx="14" ry="20" fill="#ee2428" opacity="1" transform="rotate(-10 82 60)"/><ellipse cx="72" cy="50" rx="10" ry="10" fill="#ee2428" opacity="1" transform="rotate(0 72 50)"/><ellipse cx="38" cy="2" rx="7" ry="5" fill="#ee2428" opacity="1" transform="rotate(0 38 2)"/></g>
<g filter="url(#b0)"></g>
</svg>
<svg x="176.6" y="318.3" width="42.6" height="42.0" viewBox="0 0 100 100" preserveAspectRatio="none">
<rect x="-1" y="-1" width="102" height="102" fill="#070707"/>
<g filter="url(#b3)"><ellipse cx="22" cy="32" rx="17" ry="15" fill="#52c83c" opacity="1" transform="rotate(0 22 32)"/><ellipse cx="45" cy="45" rx="16" ry="14" fill="#52c83c" opacity="1" transform="rotate(20 45 45)"/><ellipse cx="62" cy="58" rx="14" ry="14" fill="#52c83c" opacity="1" transform="rotate(0 62 58)"/><ellipse cx="82" cy="60" rx="14" ry="20" fill="#52c83c" opacity="1" transform="rotate(-10 82 60)"/><ellipse cx="72" cy="50" rx="10" ry="10" fill="#52c83c" opacity="1" transform="rotate(0 72 50)"/><ellipse cx="38" cy="2" rx="7" ry="5" fill="#52c83c" opacity="1" transform="rotate(0 38 2)"/></g>
<g filter="url(#b0)"><path d="M0,18 L100,70" stroke="#f4ecec" stroke-width="2.2" fill="none"/></g>
</svg>
<svg x="176.6" y="365.4" width="42.6" height="42.0" viewBox="0 0 100 100" preserveAspectRatio="none">
<rect x="-1" y="-1" width="102" height="102" fill="#070707"/>
<g filter="url(#b3)"><path d="M52,-2 L102,-2 L102,45 Z" fill="#1c48b0"/><ellipse cx="22" cy="32" rx="17" ry="15" fill="#f2e428" opacity="1" transform="rotate(0 22 32)"/><ellipse cx="45" cy="45" rx="16" ry="14" fill="#f2e428" opacity="1" transform="rotate(20 45 45)"/><ellipse cx="62" cy="58" rx="14" ry="14" fill="#f2e428" opacity="1" transform="rotate(0 62 58)"/><ellipse cx="82" cy="60" rx="14" ry="20" fill="#f2e428" opacity="1" transform="rotate(-10 82 60)"/><ellipse cx="72" cy="50" rx="10" ry="10" fill="#f2e428" opacity="1" transform="rotate(0 72 50)"/><ellipse cx="38" cy="2" rx="7" ry="5" fill="#f2e428" opacity="1" transform="rotate(0 38 2)"/></g>
<g filter="url(#b0)"><path d="M0,18 L100,70" stroke="#f4ecec" stroke-width="2.2" fill="none"/></g>
</svg>
<svg x="176.6" y="428.8" width="42.6" height="42.0" viewBox="0 0 100 100" preserveAspectRatio="none">
<rect x="-1" y="-1" width="102" height="102" fill="#070707"/>
<g filter="url(#b3)"><ellipse cx="44" cy="46" rx="23" ry="18" fill="#ee2428" opacity="1" transform="rotate(-15 44 46)"/><ellipse cx="62" cy="42" rx="13" ry="13" fill="#ee2428" opacity="1" transform="rotate(0 62 42)"/><ellipse cx="34" cy="60" rx="12" ry="11" fill="#ee2428" opacity="1" transform="rotate(0 34 60)"/><ellipse cx="52" cy="66" rx="10" ry="9" fill="#ee2428" opacity="1" transform="rotate(0 52 66)"/><ellipse cx="28" cy="44" rx="9" ry="9" fill="#ee2428" opacity="1" transform="rotate(0 28 44)"/><ellipse cx="28" cy="78" rx="5" ry="5" fill="#ee2428" opacity="0.7" transform="rotate(0 28 78)"/><ellipse cx="60" cy="85" rx="4" ry="5" fill="#ee2428" opacity="0.5" transform="rotate(0 60 85)"/><ellipse cx="85" cy="62" rx="5" ry="5" fill="#ee2428" opacity="0.4" transform="rotate(0 85 62)"/></g>
<g filter="url(#b0)"><path d="M5,92 L95,12" stroke="#f4ecec" stroke-width="2.2" fill="none"/></g>
</svg>
<svg x="176.6" y="475.4" width="42.6" height="41.6" viewBox="0 0 100 100" preserveAspectRatio="none">
<rect x="-1" y="-1" width="102" height="102" fill="#070707"/>
<g filter="url(#b3)"><ellipse cx="44" cy="46" rx="23" ry="18" fill="#52c83c" opacity="1" transform="rotate(-15 44 46)"/><ellipse cx="62" cy="42" rx="13" ry="13" fill="#52c83c" opacity="1" transform="rotate(0 62 42)"/><ellipse cx="34" cy="60" rx="12" ry="11" fill="#52c83c" opacity="1" transform="rotate(0 34 60)"/><ellipse cx="52" cy="66" rx="10" ry="9" fill="#52c83c" opacity="1" transform="rotate(0 52 66)"/><ellipse cx="28" cy="44" rx="9" ry="9" fill="#52c83c" opacity="1" transform="rotate(0 28 44)"/><ellipse cx="22" cy="88" rx="3" ry="3" fill="#35d24a" opacity="0.6" transform="rotate(0 22 88)"/></g>
<g filter="url(#b0)"><path d="M5,92 L95,12" stroke="#f4ecec" stroke-width="2.2" fill="none"/></g>
</svg>
<svg x="176.6" y="521.8" width="42.6" height="42.2" viewBox="0 0 100 100" preserveAspectRatio="none">
<rect x="-1" y="-1" width="102" height="102" fill="#070707"/>
<g filter="url(#b3)"><path d="M-2,-2 L102,-2 L102,30 Q75,45 50,28 Q25,12 -2,22 Z" fill="#1c48b0"/><ellipse cx="44" cy="46" rx="23" ry="18" fill="#f2e428" opacity="1" transform="rotate(-15 44 46)"/><ellipse cx="62" cy="42" rx="13" ry="13" fill="#f2e428" opacity="1" transform="rotate(0 62 42)"/><ellipse cx="34" cy="60" rx="12" ry="11" fill="#f2e428" opacity="1" transform="rotate(0 34 60)"/><ellipse cx="52" cy="66" rx="10" ry="9" fill="#f2e428" opacity="1" transform="rotate(0 52 66)"/><ellipse cx="28" cy="44" rx="9" ry="9" fill="#f2e428" opacity="1" transform="rotate(0 28 44)"/><ellipse cx="28" cy="80" rx="5" ry="5" fill="#f09030" opacity="0.8" transform="rotate(0 28 80)"/><ellipse cx="18" cy="92" rx="4" ry="4" fill="#ee2428" opacity="0.7" transform="rotate(0 18 92)"/></g>
<g filter="url(#b0)"><path d="M5,92 L95,12" stroke="#f4ecec" stroke-width="2.2" fill="none"/></g>
</svg>
<svg x="177.7" y="592.3" width="42.2" height="42.5" viewBox="0 0 100 100" preserveAspectRatio="none">
<rect x="-1" y="-1" width="102" height="102" fill="#070707"/>
<g filter="url(#b3)"><ellipse cx="55" cy="60" rx="16" ry="10" fill="#ee2428" opacity="1" transform="rotate(10 55 60)"/><ellipse cx="48" cy="55" rx="8" ry="7" fill="#ee2428" opacity="1" transform="rotate(0 48 55)"/></g>
<g filter="url(#b0)"><path d="M5,45 L92,66" stroke="#f4ecec" stroke-width="2.6" fill="none" stroke-dasharray="3.6 2.6"/></g>
</svg>
<svg x="177.7" y="639.8" width="42.2" height="42.5" viewBox="0 0 100 100" preserveAspectRatio="none">
<rect x="-1" y="-1" width="102" height="102" fill="#070707"/>
<g filter="url(#b3)"><ellipse cx="15" cy="50" rx="9" ry="8" fill="#35d24a" opacity="1" transform="rotate(0 15 50)"/><ellipse cx="50" cy="38" rx="6" ry="8" fill="#35d24a" opacity="1" transform="rotate(0 50 38)"/><ellipse cx="28" cy="82" rx="6" ry="6" fill="#35d24a" opacity="1" transform="rotate(0 28 82)"/><ellipse cx="75" cy="58" rx="5" ry="4" fill="#35d24a" opacity="1" transform="rotate(0 75 58)"/><ellipse cx="22" cy="38" rx="4" ry="4" fill="#35d24a" opacity="0.7" transform="rotate(0 22 38)"/></g>
<g filter="url(#b0)"><path d="M5,45 L92,66" stroke="#f4ecec" stroke-width="2.6" fill="none" stroke-dasharray="3.6 2.6"/></g>
</svg>
<svg x="177.7" y="686.0" width="42.2" height="42.0" viewBox="0 0 100 100" preserveAspectRatio="none">
<rect x="-1" y="-1" width="102" height="102" fill="#070707"/>
<g filter="url(#b3)"><ellipse cx="15" cy="50" rx="9" ry="8" fill="#35d24a" opacity="1" transform="rotate(0 15 50)"/><ellipse cx="50" cy="38" rx="6" ry="8" fill="#35d24a" opacity="1" transform="rotate(0 50 38)"/><ellipse cx="28" cy="82" rx="6" ry="6" fill="#35d24a" opacity="1" transform="rotate(0 28 82)"/><ellipse cx="75" cy="58" rx="5" ry="4" fill="#35d24a" opacity="1" transform="rotate(0 75 58)"/><ellipse cx="22" cy="38" rx="4" ry="4" fill="#35d24a" opacity="0.7" transform="rotate(0 22 38)"/><ellipse cx="55" cy="60" rx="16" ry="10" fill="#ee2428" opacity="1" transform="rotate(10 55 60)"/><ellipse cx="48" cy="55" rx="8" ry="7" fill="#ee2428" opacity="1" transform="rotate(0 48 55)"/></g>
<g filter="url(#b0)"><path d="M5,45 L92,66" stroke="#f4ecec" stroke-width="2.6" fill="none" stroke-dasharray="3.6 2.6"/></g>
</svg>
<svg x="177.7" y="751.6" width="42.4" height="41.6" viewBox="0 0 100 100" preserveAspectRatio="none">
<rect x="-1" y="-1" width="102" height="102" fill="#070707"/>
<g filter="url(#b3)"><ellipse cx="52" cy="46" rx="26" ry="17" fill="#ee2428" opacity="1" transform="rotate(40 52 46)"/><ellipse cx="64" cy="62" rx="14" ry="12" fill="#ee2428" opacity="1" transform="rotate(0 64 62)"/><ellipse cx="40" cy="34" rx="10" ry="9" fill="#ee2428" opacity="1" transform="rotate(0 40 34)"/><ellipse cx="75" cy="12" rx="4" ry="4" fill="#ee2428" opacity="0.5" transform="rotate(0 75 12)"/></g>
<g filter="url(#b0)"><path d="M10,20 L92,66" stroke="#f4ecec" stroke-width="2.6" fill="none" stroke-dasharray="3.6 2.6"/></g>
</svg>
<svg x="177.7" y="798.2" width="42.4" height="41.8" viewBox="0 0 100 100" preserveAspectRatio="none">
<rect x="-1" y="-1" width="102" height="102" fill="#070707"/>
<g filter="url(#b3)"><ellipse cx="75" cy="12" rx="7" ry="7" fill="#35d24a" opacity="1" transform="rotate(0 75 12)"/><ellipse cx="30" cy="30" rx="4" ry="4" fill="#35d24a" opacity="1" transform="rotate(0 30 30)"/><ellipse cx="35" cy="57" rx="7" ry="7" fill="#35d24a" opacity="1" transform="rotate(0 35 57)"/><ellipse cx="75" cy="55" rx="8" ry="7" fill="#35d24a" opacity="1" transform="rotate(0 75 55)"/><ellipse cx="62" cy="75" rx="9" ry="8" fill="#35d24a" opacity="1" transform="rotate(0 62 75)"/></g>
<g filter="url(#b0)"><path d="M10,20 L92,66" stroke="#f4ecec" stroke-width="2.6" fill="none" stroke-dasharray="3.6 2.6"/></g>
</svg>
<svg x="177.7" y="844.9" width="42.4" height="42.1" viewBox="0 0 100 100" preserveAspectRatio="none">
<rect x="-1" y="-1" width="102" height="102" fill="#070707"/>
<g filter="url(#b3)"><ellipse cx="75" cy="12" rx="7" ry="7" fill="#35d24a" opacity="1" transform="rotate(0 75 12)"/><ellipse cx="30" cy="30" rx="4" ry="4" fill="#35d24a" opacity="1" transform="rotate(0 30 30)"/><ellipse cx="35" cy="57" rx="7" ry="7" fill="#35d24a" opacity="1" transform="rotate(0 35 57)"/><ellipse cx="75" cy="55" rx="8" ry="7" fill="#35d24a" opacity="1" transform="rotate(0 75 55)"/><ellipse cx="62" cy="75" rx="9" ry="8" fill="#35d24a" opacity="1" transform="rotate(0 62 75)"/><ellipse cx="52" cy="46" rx="26" ry="17" fill="#ee2428" opacity="1" transform="rotate(40 52 46)"/><ellipse cx="64" cy="62" rx="14" ry="12" fill="#ee2428" opacity="1" transform="rotate(0 64 62)"/><ellipse cx="40" cy="34" rx="10" ry="9" fill="#ee2428" opacity="1" transform="rotate(0 40 34)"/><ellipse cx="75" cy="12" rx="4" ry="4" fill="#ee2428" opacity="0.5" transform="rotate(0 75 12)"/><ellipse cx="58" cy="70" rx="10" ry="8" fill="#f2e428" opacity="1" transform="rotate(0 58 70)"/><ellipse cx="42" cy="55" rx="6" ry="6" fill="#f2e428" opacity="1" transform="rotate(0 42 55)"/></g>
<g filter="url(#b0)"><path d="M10,20 L92,66" stroke="#f4ecec" stroke-width="2.6" fill="none" stroke-dasharray="3.6 2.6"/></g>
</svg>
<svg x="583.7" y="110.2" width="43.1" height="42.4" viewBox="0 0 100 100" preserveAspectRatio="none">
<rect x="-1" y="-1" width="102" height="102" fill="#070707"/>
<g filter="url(#b3)"><ellipse cx="45" cy="50" rx="24" ry="34" fill="#ee2428" opacity="1" transform="rotate(0 45 50)"/><ellipse cx="100" cy="30" rx="3" ry="8" fill="#ee2428" opacity="0.7" transform="rotate(0 100 30)"/></g>
<g filter="url(#b0)"><path d="M32,5 L35,92" stroke="#f4ecec" stroke-width="2.6" fill="none" stroke-dasharray="3.6 2.6"/></g>
</svg>
<svg x="583.7" y="156.8" width="43.1" height="41.6" viewBox="0 0 100 100" preserveAspectRatio="none">
<rect x="-1" y="-1" width="102" height="102" fill="#070707"/>
<g filter="url(#b3)"><ellipse cx="35" cy="15" rx="9" ry="9" fill="#35d24a" opacity="1" transform="rotate(0 35 15)"/><ellipse cx="18" cy="42" rx="9" ry="9" fill="#35d24a" opacity="1" transform="rotate(0 18 42)"/><ellipse cx="38" cy="80" rx="10" ry="10" fill="#35d24a" opacity="1" transform="rotate(0 38 80)"/></g>
<g filter="url(#b0)"><path d="M32,5 L35,92" stroke="#f4ecec" stroke-width="2.6" fill="none" stroke-dasharray="3.6 2.6"/></g>
</svg>
<svg x="583.7" y="202.9" width="43.1" height="41.9" viewBox="0 0 100 100" preserveAspectRatio="none">
<rect x="-1" y="-1" width="102" height="102" fill="#070707"/>
<g filter="url(#b3)"><ellipse cx="45" cy="50" rx="24" ry="34" fill="#ee2428" opacity="1" transform="rotate(0 45 50)"/><ellipse cx="100" cy="30" rx="3" ry="8" fill="#ee2428" opacity="0.7" transform="rotate(0 100 30)"/><ellipse cx="35" cy="15" rx="9" ry="9" fill="#35d24a" opacity="1" transform="rotate(0 35 15)"/><ellipse cx="18" cy="42" rx="9" ry="9" fill="#35d24a" opacity="1" transform="rotate(0 18 42)"/><ellipse cx="38" cy="80" rx="10" ry="10" fill="#35d24a" opacity="1" transform="rotate(0 38 80)"/><ellipse cx="36" cy="18" rx="5" ry="5" fill="#f2e428" opacity="0.7" transform="rotate(0 36 18)"/><ellipse cx="22" cy="44" rx="4" ry="4" fill="#f2e428" opacity="0.6" transform="rotate(0 22 44)"/><ellipse cx="38" cy="78" rx="5" ry="5" fill="#f2e428" opacity="0.7" transform="rotate(0 38 78)"/></g>
<g filter="url(#b0)"><path d="M32,5 L35,92" stroke="#f4ecec" stroke-width="2.6" fill="none" stroke-dasharray="3.6 2.6"/></g>
</svg>
<svg x="585.4" y="265.7" width="41.9" height="41.3" viewBox="0 0 100 100" preserveAspectRatio="none">
<rect x="-1" y="-1" width="102" height="102" fill="#070707"/>
<g filter="url(#b3)"><ellipse cx="50" cy="50" rx="9" ry="9" fill="#ee2428" opacity="1" transform="rotate(0 50 50)"/><ellipse cx="72" cy="82" rx="12" ry="11" fill="#ee2428" opacity="1" transform="rotate(0 72 82)"/><ellipse cx="88" cy="78" rx="9" ry="10" fill="#ee2428" opacity="1" transform="rotate(0 88 78)"/><ellipse cx="45" cy="3" rx="6" ry="5" fill="#ee2428" opacity="0.8" transform="rotate(0 45 3)"/><ellipse cx="15" cy="100" rx="6" ry="4" fill="#ee2428" opacity="0.7" transform="rotate(0 15 100)"/></g>
<g filter="url(#b0)"><path d="M25,8 L86,98" stroke="#f4ecec" stroke-width="2.2" fill="none"/></g>
</svg>
<svg x="585.4" y="312.0" width="41.9" height="41.7" viewBox="0 0 100 100" preserveAspectRatio="none">
<rect x="-1" y="-1" width="102" height="102" fill="#070707"/>
<g filter="url(#b3)"><ellipse cx="58" cy="68" rx="13" ry="13" fill="#35d24a" opacity="1" transform="rotate(0 58 68)"/><ellipse cx="12" cy="92" rx="3" ry="4" fill="#35d24a" opacity="0.7" transform="rotate(0 12 92)"/></g>
<g filter="url(#b0)"><path d="M25,8 L86,98" stroke="#f4ecec" stroke-width="2.2" fill="none"/></g>
</svg>
<svg x="585.4" y="358.7" width="41.9" height="41.9" viewBox="0 0 100 100" preserveAspectRatio="none">
<rect x="-1" y="-1" width="102" height="102" fill="#070707"/>
<g filter="url(#b3)"><ellipse cx="50" cy="50" rx="9" ry="9" fill="#ee2428" opacity="1" transform="rotate(0 50 50)"/><ellipse cx="72" cy="82" rx="12" ry="11" fill="#ee2428" opacity="1" transform="rotate(0 72 82)"/><ellipse cx="88" cy="78" rx="9" ry="10" fill="#ee2428" opacity="1" transform="rotate(0 88 78)"/><ellipse cx="45" cy="3" rx="6" ry="5" fill="#ee2428" opacity="0.8" transform="rotate(0 45 3)"/><ellipse cx="15" cy="100" rx="6" ry="4" fill="#ee2428" opacity="0.7" transform="rotate(0 15 100)"/><ellipse cx="58" cy="68" rx="13" ry="13" fill="#35d24a" opacity="1" transform="rotate(0 58 68)"/><ellipse cx="12" cy="92" rx="3" ry="4" fill="#35d24a" opacity="0.7" transform="rotate(0 12 92)"/></g>
<g filter="url(#b0)"><path d="M25,8 L86,98" stroke="#f4ecec" stroke-width="2.2" fill="none"/></g>
</svg>
<svg x="585.4" y="423.7" width="41.9" height="42.3" viewBox="0 0 100 100" preserveAspectRatio="none">
<rect x="-1" y="-1" width="102" height="102" fill="#070707"/>
<g filter="url(#b3)"><ellipse cx="48" cy="38" rx="12" ry="12" fill="#c02028" opacity="0.85" transform="rotate(0 48 38)"/><ellipse cx="76" cy="45" rx="7" ry="7" fill="#a01c24" opacity="0.7" transform="rotate(0 76 45)"/><ellipse cx="5" cy="95" rx="7" ry="7" fill="#ee2428" opacity="1" transform="rotate(0 5 95)"/><ellipse cx="45" cy="62" rx="6" ry="8" fill="#c02028" opacity="0.7" transform="rotate(0 45 62)"/></g>
<g filter="url(#b0)"><path d="M14,14 L68,92" stroke="#f4ecec" stroke-width="2.2" fill="none"/></g>
</svg>
<svg x="585.4" y="470.4" width="41.9" height="42.2" viewBox="0 0 100 100" preserveAspectRatio="none">
<rect x="-1" y="-1" width="102" height="102" fill="#070707"/>
<g filter="url(#b3)"><ellipse cx="36" cy="42" rx="7" ry="7" fill="#35d24a" opacity="1" transform="rotate(0 36 42)"/><ellipse cx="56" cy="70" rx="10" ry="9" fill="#35d24a" opacity="1" transform="rotate(0 56 70)"/></g>
<g filter="url(#b0)"><path d="M14,14 L68,92" stroke="#f4ecec" stroke-width="2.2" fill="none"/></g>
</svg>
<svg x="585.4" y="517.3" width="41.9" height="41.9" viewBox="0 0 100 100" preserveAspectRatio="none">
<rect x="-1" y="-1" width="102" height="102" fill="#070707"/>
<g filter="url(#b3)"><path d="M70,-2 L102,-2 L102,30 Q85,25 70,-2 Z" fill="#12306e"/><ellipse cx="48" cy="38" rx="12" ry="12" fill="#c02028" opacity="0.85" transform="rotate(0 48 38)"/><ellipse cx="76" cy="45" rx="7" ry="7" fill="#a01c24" opacity="0.7" transform="rotate(0 76 45)"/><ellipse cx="5" cy="95" rx="7" ry="7" fill="#ee2428" opacity="1" transform="rotate(0 5 95)"/><ellipse cx="45" cy="62" rx="6" ry="8" fill="#c02028" opacity="0.7" transform="rotate(0 45 62)"/><ellipse cx="36" cy="42" rx="7" ry="7" fill="#35d24a" opacity="1" transform="rotate(0 36 42)"/><ellipse cx="56" cy="70" rx="10" ry="9" fill="#35d24a" opacity="1" transform="rotate(0 56 70)"/><ellipse cx="44" cy="55" rx="5" ry="6" fill="#ee2428" opacity="1" transform="rotate(0 44 55)"/></g>
<g filter="url(#b0)"><path d="M14,14 L68,92" stroke="#f4ecec" stroke-width="2.2" fill="none"/></g>
</svg>
<svg x="587.7" y="589.3" width="41.9" height="41.9" viewBox="0 0 100 100" preserveAspectRatio="none">
<rect x="-1" y="-1" width="102" height="102" fill="#070707"/>
<g filter="url(#b3)"><ellipse cx="40" cy="22" rx="16" ry="22" fill="#35d24a" opacity="1" transform="rotate(-25 40 22)"/><ellipse cx="48" cy="40" rx="9" ry="10" fill="#35d24a" opacity="1" transform="rotate(0 48 40)"/></g>
<g filter="url(#b0)"><path d="M20,5 L90,86" stroke="#f4ecec" stroke-width="2.2" fill="none"/></g>
</svg>
<svg x="587.7" y="636.3" width="41.9" height="41.0" viewBox="0 0 100 100" preserveAspectRatio="none">
<rect x="-1" y="-1" width="102" height="102" fill="#070707"/>
<g filter="url(#b3)"><ellipse cx="52" cy="60" rx="14" ry="20" fill="#ee2428" opacity="1" transform="rotate(-35 52 60)"/><ellipse cx="62" cy="52" rx="8" ry="8" fill="#ee2428" opacity="1" transform="rotate(0 62 52)"/><ellipse cx="60" cy="78" rx="8" ry="10" fill="#ee2428" opacity="1" transform="rotate(-30 60 78)"/></g>
<g filter="url(#b0)"><path d="M20,5 L90,86" stroke="#f4ecec" stroke-width="2.2" fill="none"/></g>
</svg>
<svg x="587.7" y="682.0" width="41.9" height="42.0" viewBox="0 0 100 100" preserveAspectRatio="none">
<rect x="-1" y="-1" width="102" height="102" fill="#070707"/>
<g filter="url(#b3)"><path d="M52,-2 L102,-2 L102,102 L88,102 Q92,55 52,-2 Z" fill="#173f98"/><ellipse cx="40" cy="22" rx="16" ry="22" fill="#35d24a" opacity="1" transform="rotate(-25 40 22)"/><ellipse cx="48" cy="40" rx="9" ry="10" fill="#35d24a" opacity="1" transform="rotate(0 48 40)"/><ellipse cx="52" cy="60" rx="14" ry="20" fill="#ee2428" opacity="1" transform="rotate(-35 52 60)"/><ellipse cx="62" cy="52" rx="8" ry="8" fill="#ee2428" opacity="1" transform="rotate(0 62 52)"/><ellipse cx="60" cy="78" rx="8" ry="10" fill="#ee2428" opacity="1" transform="rotate(-30 60 78)"/></g>
<g filter="url(#b0)"><path d="M20,5 L90,86" stroke="#f4ecec" stroke-width="2.2" fill="none"/></g>
</svg>
<svg x="587.7" y="756.3" width="41.9" height="41.4" viewBox="0 0 100 100" preserveAspectRatio="none">
<rect x="-1" y="-1" width="102" height="102" fill="#070707"/>
<g filter="url(#b3)"><ellipse cx="56" cy="22" rx="10" ry="10" fill="#35d24a" opacity="1" transform="rotate(0 56 22)"/><ellipse cx="28" cy="65" rx="9" ry="9" fill="#35d24a" opacity="1" transform="rotate(0 28 65)"/><ellipse cx="76" cy="70" rx="11" ry="10" fill="#35d24a" opacity="1" transform="rotate(0 76 70)"/></g>
<g filter="url(#b0)"><path d="M0,62 L100,70" stroke="#f4ecec" stroke-width="2.6" fill="none" stroke-dasharray="3.6 2.6"/></g>
</svg>
<svg x="587.7" y="803.0" width="41.9" height="41.3" viewBox="0 0 100 100" preserveAspectRatio="none">
<rect x="-1" y="-1" width="102" height="102" fill="#070707"/>
<g filter="url(#b3)"><ellipse cx="42" cy="28" rx="6" ry="6" fill="#ee2428" opacity="1" transform="rotate(0 42 28)"/><ellipse cx="68" cy="20" rx="6" ry="7" fill="#ee2428" opacity="1" transform="rotate(0 68 20)"/><ellipse cx="35" cy="50" rx="7" ry="6" fill="#ee2428" opacity="1" transform="rotate(0 35 50)"/><ellipse cx="22" cy="68" rx="9" ry="8" fill="#ee2428" opacity="1" transform="rotate(0 22 68)"/><ellipse cx="72" cy="62" rx="9" ry="7" fill="#ee2428" opacity="1" transform="rotate(0 72 62)"/><ellipse cx="80" cy="80" rx="10" ry="8" fill="#ee2428" opacity="1" transform="rotate(0 80 80)"/><ellipse cx="55" cy="85" rx="5" ry="5" fill="#ee2428" opacity="1" transform="rotate(0 55 85)"/><ellipse cx="62" cy="45" rx="4" ry="4" fill="#ee2428" opacity="0.7" transform="rotate(0 62 45)"/></g>
<g filter="url(#b0)"><path d="M0,62 L100,70" stroke="#f4ecec" stroke-width="2.6" fill="none" stroke-dasharray="3.6 2.6"/></g>
</svg>
<svg x="587.7" y="849.3" width="41.9" height="41.9" viewBox="0 0 100 100" preserveAspectRatio="none">
<rect x="-1" y="-1" width="102" height="102" fill="#070707"/>
<g filter="url(#b3)"><ellipse cx="42" cy="28" rx="6" ry="6" fill="#ee2428" opacity="1" transform="rotate(0 42 28)"/><ellipse cx="68" cy="20" rx="6" ry="7" fill="#ee2428" opacity="1" transform="rotate(0 68 20)"/><ellipse cx="35" cy="50" rx="7" ry="6" fill="#ee2428" opacity="1" transform="rotate(0 35 50)"/><ellipse cx="22" cy="68" rx="9" ry="8" fill="#ee2428" opacity="1" transform="rotate(0 22 68)"/><ellipse cx="72" cy="62" rx="9" ry="7" fill="#ee2428" opacity="1" transform="rotate(0 72 62)"/><ellipse cx="80" cy="80" rx="10" ry="8" fill="#ee2428" opacity="1" transform="rotate(0 80 80)"/><ellipse cx="55" cy="85" rx="5" ry="5" fill="#ee2428" opacity="1" transform="rotate(0 55 85)"/><ellipse cx="62" cy="45" rx="4" ry="4" fill="#ee2428" opacity="0.7" transform="rotate(0 62 45)"/><ellipse cx="56" cy="22" rx="10" ry="10" fill="#35d24a" opacity="1" transform="rotate(0 56 22)"/><ellipse cx="28" cy="65" rx="9" ry="9" fill="#35d24a" opacity="1" transform="rotate(0 28 65)"/><ellipse cx="76" cy="70" rx="11" ry="10" fill="#35d24a" opacity="1" transform="rotate(0 76 70)"/><ellipse cx="78" cy="74" rx="6" ry="5" fill="#f2e428" opacity="0.8" transform="rotate(0 78 74)"/><ellipse cx="27" cy="67" rx="5" ry="5" fill="#f2e428" opacity="0.6" transform="rotate(0 27 67)"/></g>
<g filter="url(#b0)"><path d="M0,62 L100,70" stroke="#f4ecec" stroke-width="2.6" fill="none" stroke-dasharray="3.6 2.6"/></g>
</svg>
<g>
<path d="M658.2,1009.2 H751.2 V1220.2 H728.8" fill="none" stroke="#444444" stroke-width="1.6"/>
<path d="M728.8,1045.4 V1398.5" fill="none" stroke="#444444" stroke-width="1.6"/>
<text x="252.2" y="1016.5" font-size="25.8" fill="#111" text-anchor="end">Poly(I:C)</text>
<path d="M258.5,1007.3 H273.5" stroke="#444444" stroke-width="1.6"/>
<rect x="275.9" y="993.5" width="15.6" height="27.6" fill="#fff" stroke="#325fa2" stroke-width="5.2" rx="2.2" stroke-linejoin="round"/>
<path d="M294.0,1007.3 H298.6 M298.6,1001.3 v12" stroke="#325fa2" stroke-width="1.8" fill="none"/>
<g fill="#7fa4d6"><circle cx="280.6" cy="1000.6" r="2.05"/><circle cx="280.8" cy="1001.0" r="2.05"/><circle cx="278.9" cy="1003.5" r="2.05"/><circle cx="279.4" cy="1012.8" r="2.05"/><circle cx="275.0" cy="1009.5" r="2.05"/><circle cx="280.7" cy="1012.6" r="2.05"/><circle cx="276.1" cy="997.5" r="2.05"/><circle cx="280.5" cy="1003.3" r="2.05"/><circle cx="276.2" cy="995.4" r="2.05"/><circle cx="278.9" cy="1009.5" r="2.05"/><circle cx="275.4" cy="1020.7" r="2.05"/><circle cx="280.2" cy="1016.5" r="2.05"/><circle cx="275.5" cy="999.6" r="2.05"/><circle cx="280.5" cy="1001.8" r="2.05"/><circle cx="278.0" cy="1012.6" r="2.05"/><circle cx="275.7" cy="1007.2" r="2.05"/><circle cx="280.9" cy="1018.4" r="2.05"/><circle cx="281.7" cy="1003.5" r="2.05"/><circle cx="278.2" cy="1015.4" r="2.05"/><circle cx="277.6" cy="1007.0" r="2.05"/><circle cx="278.4" cy="997.7" r="2.05"/><circle cx="282.0" cy="1008.9" r="2.05"/><circle cx="281.4" cy="1003.4" r="2.05"/><circle cx="278.2" cy="1003.9" r="2.05"/><circle cx="277.0" cy="1006.2" r="2.05"/><circle cx="281.5" cy="1017.5" r="2.05"/><circle cx="279.0" cy="1000.1" r="2.05"/><circle cx="280.3" cy="1003.9" r="2.05"/><circle cx="274.9" cy="1007.5" r="2.05"/><circle cx="275.6" cy="1005.1" r="2.05"/><circle cx="281.2" cy="998.1" r="2.05"/><circle cx="280.4" cy="995.7" r="2.05"/><circle cx="275.0" cy="1010.5" r="2.05"/><circle cx="278.5" cy="1013.0" r="2.05"/><circle cx="280.0" cy="1008.7" r="2.05"/><circle cx="276.8" cy="1006.4" r="2.05"/><circle cx="279.3" cy="1000.6" r="2.05"/><circle cx="278.1" cy="1003.8" r="2.05"/><circle cx="275.3" cy="993.9" r="2.05"/><circle cx="275.5" cy="1013.8" r="2.05"/><circle cx="289.7" cy="1007.0" r="2.05"/><circle cx="292.8" cy="1006.7" r="2.05"/><circle cx="287.6" cy="1011.0" r="2.05"/><circle cx="284.3" cy="1010.0" r="2.05"/><circle cx="284.9" cy="1014.8" r="2.05"/><circle cx="291.7" cy="1008.4" r="2.05"/><circle cx="290.8" cy="1011.1" r="2.05"/><circle cx="293.3" cy="1008.0" r="2.05"/><circle cx="290.8" cy="1007.4" r="2.05"/><circle cx="286.6" cy="1009.5" r="2.05"/><circle cx="290.5" cy="1008.8" r="2.05"/><circle cx="285.5" cy="1004.9" r="2.05"/><circle cx="283.7" cy="1008.9" r="2.05"/><circle cx="282.6" cy="1013.3" r="2.05"/><circle cx="288.4" cy="1005.4" r="2.05"/><circle cx="282.3" cy="1011.1" r="2.05"/><circle cx="299.6" cy="1007.5" r="2.05"/><circle cx="294.9" cy="1007.4" r="2.05"/><circle cx="298.4" cy="1008.4" r="2.05"/><circle cx="294.2" cy="1006.8" r="2.05"/><circle cx="306.5" cy="1007.2" r="2.05"/><circle cx="309.8" cy="1007.5" r="2.05"/><circle cx="313.1" cy="1007.9" r="2.05"/><circle cx="318.4" cy="1006.6" r="2.05"/><circle cx="321.0" cy="1007.7" r="2.05"/><circle cx="330.3" cy="1006.7" r="2.05"/><circle cx="339.5" cy="1007.1" r="2.05"/><circle cx="344.8" cy="1008.1" r="2.05"/><circle cx="372.5" cy="1007.9" r="2.05"/><circle cx="377.8" cy="1006.6" r="2.05"/><circle cx="388.3" cy="1006.5" r="2.05"/><circle cx="398.9" cy="1006.6" r="2.05"/><circle cx="405.5" cy="1007.7" r="2.05"/><circle cx="412.1" cy="1006.6" r="2.05"/><circle cx="437.2" cy="1007.8" r="2.05"/><circle cx="446.4" cy="1007.8" r="2.05"/><circle cx="464.9" cy="1007.8" r="2.05"/><circle cx="480.7" cy="1008.0" r="2.05"/><circle cx="484.7" cy="1007.5" r="2.05"/><circle cx="507.1" cy="1007.8" r="2.05"/><circle cx="511.1" cy="1007.4" r="2.05"/></g>
<text x="252.2" y="1065.4" font-size="25.8" fill="#111" text-anchor="end">SeV</text>
<path d="M258.5,1056.2 H273.5" stroke="#444444" stroke-width="1.6"/>
<rect x="275.9" y="1042.4" width="19.5" height="27.6" fill="#fff" stroke="#443192" stroke-width="5.2" rx="2.2" stroke-linejoin="round"/>
<path d="M297.9,1056.2 H301.9 M301.9,1050.2 v12" stroke="#443192" stroke-width="1.8" fill="none"/>
<g fill="#a392cc"><circle cx="281.0" cy="1050.2" r="2.05"/><circle cx="284.0" cy="1057.7" r="2.05"/><circle cx="276.5" cy="1056.6" r="2.05"/><circle cx="281.9" cy="1052.9" r="2.05"/><circle cx="276.6" cy="1065.0" r="2.05"/><circle cx="278.4" cy="1059.8" r="2.05"/><circle cx="276.6" cy="1054.6" r="2.05"/><circle cx="280.5" cy="1061.0" r="2.05"/><circle cx="281.0" cy="1055.9" r="2.05"/><circle cx="276.6" cy="1061.1" r="2.05"/><circle cx="276.8" cy="1049.1" r="2.05"/><circle cx="276.3" cy="1064.8" r="2.05"/><circle cx="279.7" cy="1052.1" r="2.05"/><circle cx="277.0" cy="1063.3" r="2.05"/><circle cx="281.1" cy="1047.5" r="2.05"/><circle cx="274.9" cy="1051.2" r="2.05"/><circle cx="279.6" cy="1061.2" r="2.05"/><circle cx="282.9" cy="1063.7" r="2.05"/><circle cx="282.3" cy="1056.4" r="2.05"/><circle cx="283.3" cy="1060.5" r="2.05"/><circle cx="282.8" cy="1059.0" r="2.05"/><circle cx="275.0" cy="1065.6" r="2.05"/><circle cx="278.9" cy="1065.2" r="2.05"/><circle cx="275.0" cy="1045.9" r="2.05"/><circle cx="283.8" cy="1060.0" r="2.05"/><circle cx="282.8" cy="1048.5" r="2.05"/><circle cx="278.9" cy="1057.4" r="2.05"/><circle cx="279.4" cy="1050.5" r="2.05"/><circle cx="275.7" cy="1059.0" r="2.05"/><circle cx="282.1" cy="1050.0" r="2.05"/><circle cx="275.0" cy="1057.9" r="2.05"/><circle cx="278.8" cy="1053.6" r="2.05"/><circle cx="275.1" cy="1063.4" r="2.05"/><circle cx="280.5" cy="1047.4" r="2.05"/><circle cx="275.1" cy="1059.9" r="2.05"/><circle cx="277.4" cy="1063.1" r="2.05"/><circle cx="279.5" cy="1057.9" r="2.05"/><circle cx="282.9" cy="1051.5" r="2.05"/><circle cx="280.1" cy="1054.3" r="2.05"/><circle cx="282.5" cy="1057.3" r="2.05"/><circle cx="283.6" cy="1050.1" r="2.05"/><circle cx="275.6" cy="1053.2" r="2.05"/><circle cx="281.3" cy="1051.9" r="2.05"/><circle cx="279.9" cy="1053.5" r="2.05"/><circle cx="278.6" cy="1053.4" r="2.05"/><circle cx="276.0" cy="1052.4" r="2.05"/><circle cx="282.1" cy="1067.1" r="2.05"/><circle cx="277.9" cy="1059.8" r="2.05"/><circle cx="276.9" cy="1053.6" r="2.05"/><circle cx="283.8" cy="1061.2" r="2.05"/><circle cx="280.4" cy="1060.6" r="2.05"/><circle cx="275.7" cy="1055.4" r="2.05"/><circle cx="299.6" cy="1055.1" r="2.05"/><circle cx="296.4" cy="1053.5" r="2.05"/><circle cx="296.2" cy="1052.8" r="2.05"/><circle cx="293.5" cy="1059.7" r="2.05"/><circle cx="291.7" cy="1052.6" r="2.05"/><circle cx="297.0" cy="1051.7" r="2.05"/><circle cx="289.8" cy="1056.8" r="2.05"/><circle cx="291.5" cy="1050.5" r="2.05"/><circle cx="298.9" cy="1056.0" r="2.05"/><circle cx="299.2" cy="1054.5" r="2.05"/><circle cx="289.9" cy="1057.7" r="2.05"/><circle cx="296.1" cy="1061.1" r="2.05"/><circle cx="296.0" cy="1056.4" r="2.05"/><circle cx="295.1" cy="1059.5" r="2.05"/><circle cx="284.3" cy="1052.6" r="2.05"/><circle cx="290.6" cy="1055.2" r="2.05"/><circle cx="284.2" cy="1065.0" r="2.05"/><circle cx="291.7" cy="1059.7" r="2.05"/><circle cx="294.7" cy="1055.0" r="2.05"/><circle cx="295.2" cy="1055.0" r="2.05"/><circle cx="296.8" cy="1056.5" r="2.05"/><circle cx="296.9" cy="1060.4" r="2.05"/><circle cx="287.5" cy="1062.0" r="2.05"/><circle cx="292.7" cy="1054.4" r="2.05"/><circle cx="294.6" cy="1052.9" r="2.05"/><circle cx="284.5" cy="1048.4" r="2.05"/><circle cx="303.5" cy="1055.6" r="2.05"/><circle cx="306.9" cy="1057.6" r="2.05"/><circle cx="309.3" cy="1056.4" r="2.05"/><circle cx="310.1" cy="1055.9" r="2.05"/><circle cx="305.1" cy="1054.1" r="2.05"/><circle cx="308.1" cy="1055.8" r="2.05"/><circle cx="301.2" cy="1056.3" r="2.05"/><circle cx="310.5" cy="1056.7" r="2.05"/><circle cx="316.4" cy="1056.3" r="2.05"/><circle cx="319.7" cy="1056.6" r="2.05"/><circle cx="325.0" cy="1055.6" r="2.05"/><circle cx="329.6" cy="1056.9" r="2.05"/><circle cx="332.9" cy="1056.1" r="2.05"/><circle cx="338.2" cy="1055.6" r="2.05"/><circle cx="342.8" cy="1055.5" r="2.05"/><circle cx="346.1" cy="1055.5" r="2.05"/><circle cx="359.3" cy="1055.4" r="2.05"/><circle cx="363.3" cy="1056.6" r="2.05"/><circle cx="367.2" cy="1056.7" r="2.05"/><circle cx="372.5" cy="1055.8" r="2.05"/><circle cx="376.5" cy="1055.9" r="2.05"/><circle cx="379.1" cy="1056.9" r="2.05"/><circle cx="425.3" cy="1055.8" r="2.05"/><circle cx="445.1" cy="1056.8" r="2.05"/><circle cx="449.1" cy="1056.7" r="2.05"/><circle cx="493.9" cy="1056.1" r="2.05"/><circle cx="500.5" cy="1056.1" r="2.05"/><circle cx="517.7" cy="1056.0" r="2.05"/><circle cx="521.7" cy="1056.0" r="2.05"/><circle cx="537.5" cy="1056.5" r="2.05"/></g>
<text x="700" y="1064.0" font-size="22" fill="#111" text-anchor="end">0.9947</text>
<text x="252.2" y="1114.3" font-size="25.8" fill="#111" text-anchor="end">Na<tspan font-size="15" dy="2">2</tspan><tspan dy="-2">AsO</tspan><tspan font-size="15" dy="2">3</tspan></text>
<path d="M258.5,1105.1 H273.5" stroke="#444444" stroke-width="1.6"/>
<rect x="275.9" y="1091.3" width="73.0" height="27.6" fill="#fff" stroke="#901d8e" stroke-width="5.2" rx="2.2" stroke-linejoin="round"/>
<path d="M351.4,1105.1 H356.0 M356.0,1099.1 v12" stroke="#901d8e" stroke-width="1.8" fill="none"/>
<g fill="#d69bc8"><circle cx="288.3" cy="1107.0" r="2.05"/><circle cx="280.9" cy="1110.6" r="2.05"/><circle cx="294.5" cy="1103.7" r="2.05"/><circle cx="289.9" cy="1099.3" r="2.05"/><circle cx="276.3" cy="1095.6" r="2.05"/><circle cx="292.2" cy="1093.9" r="2.05"/><circle cx="288.5" cy="1094.5" r="2.05"/><circle cx="278.8" cy="1118.6" r="2.05"/><circle cx="284.7" cy="1107.9" r="2.05"/><circle cx="281.6" cy="1107.9" r="2.05"/><circle cx="288.0" cy="1112.7" r="2.05"/><circle cx="291.2" cy="1106.3" r="2.05"/><circle cx="287.5" cy="1100.4" r="2.05"/><circle cx="279.2" cy="1110.9" r="2.05"/><circle cx="275.5" cy="1119.1" r="2.05"/><circle cx="282.8" cy="1103.9" r="2.05"/><circle cx="275.7" cy="1100.8" r="2.05"/><circle cx="279.4" cy="1101.6" r="2.05"/><circle cx="275.0" cy="1102.5" r="2.05"/><circle cx="293.9" cy="1113.0" r="2.05"/><circle cx="282.8" cy="1111.2" r="2.05"/><circle cx="275.3" cy="1115.7" r="2.05"/><circle cx="286.3" cy="1095.8" r="2.05"/><circle cx="292.1" cy="1092.0" r="2.05"/><circle cx="290.2" cy="1099.0" r="2.05"/><circle cx="280.2" cy="1109.5" r="2.05"/><circle cx="281.4" cy="1099.7" r="2.05"/><circle cx="281.8" cy="1104.4" r="2.05"/><circle cx="283.1" cy="1109.0" r="2.05"/><circle cx="278.5" cy="1111.0" r="2.05"/><circle cx="291.2" cy="1110.2" r="2.05"/><circle cx="289.1" cy="1103.3" r="2.05"/><circle cx="279.0" cy="1100.4" r="2.05"/><circle cx="293.6" cy="1106.0" r="2.05"/><circle cx="284.9" cy="1103.1" r="2.05"/><circle cx="290.1" cy="1105.6" r="2.05"/><circle cx="293.3" cy="1111.8" r="2.05"/><circle cx="284.5" cy="1111.6" r="2.05"/><circle cx="284.2" cy="1094.1" r="2.05"/><circle cx="284.3" cy="1091.6" r="2.05"/><circle cx="286.1" cy="1107.0" r="2.05"/><circle cx="277.2" cy="1094.7" r="2.05"/><circle cx="282.4" cy="1098.7" r="2.05"/><circle cx="277.6" cy="1095.8" r="2.05"/><circle cx="277.1" cy="1108.4" r="2.05"/><circle cx="281.1" cy="1111.2" r="2.05"/><circle cx="288.1" cy="1103.4" r="2.05"/><circle cx="287.7" cy="1091.7" r="2.05"/><circle cx="276.9" cy="1096.3" r="2.05"/><circle cx="276.6" cy="1105.5" r="2.05"/><circle cx="279.6" cy="1108.3" r="2.05"/><circle cx="281.1" cy="1097.6" r="2.05"/><circle cx="285.7" cy="1107.1" r="2.05"/><circle cx="285.8" cy="1100.8" r="2.05"/><circle cx="276.4" cy="1096.5" r="2.05"/><circle cx="278.3" cy="1108.3" r="2.05"/><circle cx="283.2" cy="1100.9" r="2.05"/><circle cx="278.4" cy="1114.0" r="2.05"/><circle cx="286.1" cy="1105.1" r="2.05"/><circle cx="275.5" cy="1107.3" r="2.05"/><circle cx="278.6" cy="1106.0" r="2.05"/><circle cx="281.2" cy="1100.0" r="2.05"/><circle cx="289.9" cy="1091.9" r="2.05"/><circle cx="292.2" cy="1103.6" r="2.05"/><circle cx="278.0" cy="1099.6" r="2.05"/><circle cx="287.7" cy="1101.8" r="2.05"/><circle cx="280.0" cy="1112.0" r="2.05"/><circle cx="284.3" cy="1112.8" r="2.05"/><circle cx="288.2" cy="1109.0" r="2.05"/><circle cx="289.3" cy="1093.6" r="2.05"/><circle cx="276.1" cy="1105.6" r="2.05"/><circle cx="284.2" cy="1098.5" r="2.05"/><circle cx="277.5" cy="1103.9" r="2.05"/><circle cx="285.3" cy="1114.4" r="2.05"/><circle cx="285.4" cy="1100.5" r="2.05"/><circle cx="282.3" cy="1105.3" r="2.05"/><circle cx="277.3" cy="1100.0" r="2.05"/><circle cx="292.5" cy="1101.0" r="2.05"/><circle cx="281.1" cy="1098.6" r="2.05"/><circle cx="290.2" cy="1099.9" r="2.05"/><circle cx="286.6" cy="1113.4" r="2.05"/><circle cx="285.2" cy="1092.5" r="2.05"/><circle cx="278.4" cy="1102.9" r="2.05"/><circle cx="290.9" cy="1106.8" r="2.05"/><circle cx="284.1" cy="1110.2" r="2.05"/><circle cx="278.1" cy="1104.4" r="2.05"/><circle cx="277.7" cy="1113.4" r="2.05"/><circle cx="274.9" cy="1110.6" r="2.05"/><circle cx="286.3" cy="1114.4" r="2.05"/><circle cx="293.5" cy="1115.4" r="2.05"/><circle cx="290.1" cy="1100.9" r="2.05"/><circle cx="287.4" cy="1103.3" r="2.05"/><circle cx="290.8" cy="1098.9" r="2.05"/><circle cx="276.8" cy="1108.2" r="2.05"/><circle cx="275.6" cy="1092.6" r="2.05"/><circle cx="280.4" cy="1097.9" r="2.05"/><circle cx="276.4" cy="1099.6" r="2.05"/><circle cx="293.5" cy="1102.6" r="2.05"/><circle cx="293.9" cy="1117.9" r="2.05"/><circle cx="282.4" cy="1107.3" r="2.05"/><circle cx="294.5" cy="1109.5" r="2.05"/><circle cx="275.3" cy="1111.1" r="2.05"/><circle cx="276.2" cy="1104.6" r="2.05"/><circle cx="288.5" cy="1117.7" r="2.05"/><circle cx="280.4" cy="1098.4" r="2.05"/><circle cx="288.7" cy="1118.4" r="2.05"/><circle cx="275.1" cy="1107.2" r="2.05"/><circle cx="293.3" cy="1113.4" r="2.05"/><circle cx="283.2" cy="1114.2" r="2.05"/><circle cx="283.7" cy="1099.5" r="2.05"/><circle cx="283.8" cy="1101.9" r="2.05"/><circle cx="277.7" cy="1093.8" r="2.05"/><circle cx="277.7" cy="1108.3" r="2.05"/><circle cx="282.7" cy="1108.1" r="2.05"/><circle cx="285.5" cy="1106.4" r="2.05"/><circle cx="287.8" cy="1098.6" r="2.05"/><circle cx="287.1" cy="1105.4" r="2.05"/><circle cx="280.8" cy="1106.7" r="2.05"/><circle cx="283.9" cy="1094.4" r="2.05"/><circle cx="288.7" cy="1113.8" r="2.05"/><circle cx="288.9" cy="1107.5" r="2.05"/><circle cx="281.5" cy="1102.2" r="2.05"/><circle cx="278.5" cy="1109.1" r="2.05"/><circle cx="292.1" cy="1115.1" r="2.05"/><circle cx="278.2" cy="1102.6" r="2.05"/><circle cx="279.6" cy="1101.9" r="2.05"/><circle cx="288.1" cy="1116.8" r="2.05"/><circle cx="289.0" cy="1095.9" r="2.05"/><circle cx="292.9" cy="1101.2" r="2.05"/><circle cx="288.0" cy="1105.9" r="2.05"/><circle cx="276.2" cy="1107.4" r="2.05"/><circle cx="294.2" cy="1108.5" r="2.05"/><circle cx="291.1" cy="1111.0" r="2.05"/><circle cx="283.3" cy="1115.1" r="2.05"/><circle cx="275.7" cy="1113.1" r="2.05"/><circle cx="293.8" cy="1113.6" r="2.05"/><circle cx="289.6" cy="1110.6" r="2.05"/><circle cx="275.4" cy="1116.0" r="2.05"/><circle cx="284.2" cy="1099.7" r="2.05"/><circle cx="293.2" cy="1099.3" r="2.05"/><circle cx="280.8" cy="1098.8" r="2.05"/><circle cx="283.5" cy="1113.9" r="2.05"/><circle cx="276.7" cy="1111.0" r="2.05"/><circle cx="281.5" cy="1095.2" r="2.05"/><circle cx="284.9" cy="1101.4" r="2.05"/><circle cx="275.3" cy="1115.5" r="2.05"/><circle cx="278.4" cy="1101.5" r="2.05"/><circle cx="283.6" cy="1116.3" r="2.05"/><circle cx="286.7" cy="1110.0" r="2.05"/><circle cx="275.6" cy="1106.7" r="2.05"/><circle cx="338.7" cy="1108.6" r="2.05"/><circle cx="308.4" cy="1111.7" r="2.05"/><circle cx="310.3" cy="1106.4" r="2.05"/><circle cx="321.0" cy="1104.9" r="2.05"/><circle cx="337.6" cy="1105.0" r="2.05"/><circle cx="321.1" cy="1100.9" r="2.05"/><circle cx="319.7" cy="1104.4" r="2.05"/><circle cx="299.7" cy="1104.8" r="2.05"/><circle cx="335.6" cy="1101.2" r="2.05"/><circle cx="352.4" cy="1109.3" r="2.05"/><circle cx="315.1" cy="1102.4" r="2.05"/><circle cx="319.9" cy="1103.2" r="2.05"/><circle cx="328.3" cy="1100.5" r="2.05"/><circle cx="317.9" cy="1099.4" r="2.05"/><circle cx="311.5" cy="1098.7" r="2.05"/><circle cx="338.7" cy="1106.2" r="2.05"/><circle cx="316.3" cy="1106.3" r="2.05"/><circle cx="326.5" cy="1103.4" r="2.05"/><circle cx="304.1" cy="1107.7" r="2.05"/><circle cx="309.3" cy="1100.2" r="2.05"/><circle cx="336.0" cy="1104.2" r="2.05"/><circle cx="332.7" cy="1110.0" r="2.05"/><circle cx="348.5" cy="1107.6" r="2.05"/><circle cx="301.8" cy="1096.7" r="2.05"/><circle cx="327.0" cy="1110.2" r="2.05"/><circle cx="315.5" cy="1107.0" r="2.05"/><circle cx="296.6" cy="1113.0" r="2.05"/><circle cx="304.4" cy="1109.8" r="2.05"/><circle cx="320.6" cy="1106.1" r="2.05"/><circle cx="321.2" cy="1103.7" r="2.05"/><circle cx="326.8" cy="1097.6" r="2.05"/><circle cx="337.0" cy="1105.9" r="2.05"/><circle cx="296.3" cy="1110.8" r="2.05"/><circle cx="295.3" cy="1104.7" r="2.05"/><circle cx="312.7" cy="1100.7" r="2.05"/><circle cx="339.3" cy="1106.8" r="2.05"/><circle cx="318.6" cy="1105.2" r="2.05"/><circle cx="307.7" cy="1104.8" r="2.05"/><circle cx="301.0" cy="1106.8" r="2.05"/><circle cx="335.5" cy="1107.2" r="2.05"/><circle cx="323.6" cy="1102.3" r="2.05"/><circle cx="310.9" cy="1110.4" r="2.05"/><circle cx="333.6" cy="1106.6" r="2.05"/><circle cx="325.1" cy="1107.5" r="2.05"/><circle cx="309.8" cy="1101.7" r="2.05"/><circle cx="295.0" cy="1107.5" r="2.05"/><circle cx="310.8" cy="1105.0" r="2.05"/><circle cx="305.1" cy="1101.8" r="2.05"/><circle cx="309.8" cy="1107.1" r="2.05"/><circle cx="342.3" cy="1105.9" r="2.05"/><circle cx="303.7" cy="1109.8" r="2.05"/><circle cx="319.1" cy="1105.2" r="2.05"/><circle cx="299.6" cy="1099.1" r="2.05"/><circle cx="331.1" cy="1106.2" r="2.05"/><circle cx="327.5" cy="1102.5" r="2.05"/><circle cx="326.9" cy="1105.1" r="2.05"/><circle cx="351.1" cy="1110.2" r="2.05"/><circle cx="332.5" cy="1098.7" r="2.05"/><circle cx="328.4" cy="1097.2" r="2.05"/><circle cx="300.0" cy="1112.6" r="2.05"/><circle cx="320.6" cy="1100.8" r="2.05"/><circle cx="325.2" cy="1101.2" r="2.05"/><circle cx="299.4" cy="1101.7" r="2.05"/><circle cx="345.5" cy="1105.4" r="2.05"/><circle cx="342.9" cy="1102.8" r="2.05"/><circle cx="341.0" cy="1106.5" r="2.05"/><circle cx="338.4" cy="1100.7" r="2.05"/><circle cx="351.3" cy="1104.2" r="2.05"/><circle cx="298.8" cy="1105.9" r="2.05"/><circle cx="342.7" cy="1104.6" r="2.05"/><circle cx="306.3" cy="1110.8" r="2.05"/><circle cx="321.5" cy="1104.5" r="2.05"/><circle cx="299.4" cy="1103.6" r="2.05"/><circle cx="312.9" cy="1103.3" r="2.05"/><circle cx="334.5" cy="1097.3" r="2.05"/><circle cx="309.8" cy="1106.7" r="2.05"/><circle cx="333.7" cy="1100.0" r="2.05"/><circle cx="343.2" cy="1108.6" r="2.05"/><circle cx="344.6" cy="1103.4" r="2.05"/><circle cx="344.5" cy="1098.1" r="2.05"/><circle cx="338.7" cy="1111.1" r="2.05"/><circle cx="339.3" cy="1102.1" r="2.05"/><circle cx="342.4" cy="1100.4" r="2.05"/><circle cx="311.6" cy="1099.2" r="2.05"/><circle cx="309.1" cy="1099.6" r="2.05"/><circle cx="350.1" cy="1099.6" r="2.05"/><circle cx="346.8" cy="1105.4" r="2.05"/><circle cx="336.4" cy="1107.6" r="2.05"/><circle cx="327.0" cy="1100.9" r="2.05"/><circle cx="320.4" cy="1101.0" r="2.05"/><circle cx="341.0" cy="1103.9" r="2.05"/><circle cx="317.4" cy="1103.8" r="2.05"/><circle cx="344.2" cy="1103.2" r="2.05"/><circle cx="296.7" cy="1100.3" r="2.05"/><circle cx="303.7" cy="1098.6" r="2.05"/><circle cx="304.5" cy="1112.4" r="2.05"/><circle cx="331.5" cy="1098.9" r="2.05"/><circle cx="352.6" cy="1108.3" r="2.05"/><circle cx="334.1" cy="1111.6" r="2.05"/><circle cx="330.3" cy="1104.3" r="2.05"/><circle cx="320.3" cy="1105.8" r="2.05"/><circle cx="333.9" cy="1103.6" r="2.05"/><circle cx="332.7" cy="1109.8" r="2.05"/><circle cx="321.3" cy="1100.2" r="2.05"/><circle cx="312.5" cy="1106.3" r="2.05"/><circle cx="316.2" cy="1109.1" r="2.05"/><circle cx="346.7" cy="1107.4" r="2.05"/><circle cx="345.3" cy="1102.7" r="2.05"/><circle cx="298.7" cy="1108.5" r="2.05"/><circle cx="337.1" cy="1105.3" r="2.05"/><circle cx="299.5" cy="1106.3" r="2.05"/><circle cx="309.9" cy="1102.4" r="2.05"/><circle cx="336.7" cy="1103.0" r="2.05"/><circle cx="305.6" cy="1101.4" r="2.05"/><circle cx="308.3" cy="1100.9" r="2.05"/><circle cx="330.6" cy="1110.0" r="2.05"/><circle cx="322.0" cy="1100.5" r="2.05"/><circle cx="334.0" cy="1106.9" r="2.05"/><circle cx="340.2" cy="1107.8" r="2.05"/><circle cx="348.6" cy="1104.5" r="2.05"/><circle cx="319.2" cy="1105.3" r="2.05"/><circle cx="312.4" cy="1109.9" r="2.05"/><circle cx="307.2" cy="1104.9" r="2.05"/><circle cx="315.8" cy="1099.8" r="2.05"/><circle cx="335.9" cy="1109.0" r="2.05"/><circle cx="347.9" cy="1108.6" r="2.05"/><circle cx="350.8" cy="1105.4" r="2.05"/><circle cx="298.1" cy="1107.7" r="2.05"/><circle cx="322.1" cy="1105.1" r="2.05"/><circle cx="320.6" cy="1102.5" r="2.05"/><circle cx="327.0" cy="1104.7" r="2.05"/><circle cx="309.2" cy="1098.4" r="2.05"/><circle cx="339.2" cy="1106.7" r="2.05"/><circle cx="336.8" cy="1099.8" r="2.05"/><circle cx="306.3" cy="1108.3" r="2.05"/><circle cx="337.2" cy="1103.9" r="2.05"/><circle cx="334.1" cy="1104.2" r="2.05"/><circle cx="320.3" cy="1107.7" r="2.05"/><circle cx="351.2" cy="1098.6" r="2.05"/><circle cx="299.3" cy="1105.6" r="2.05"/><circle cx="305.8" cy="1102.2" r="2.05"/><circle cx="324.1" cy="1109.4" r="2.05"/><circle cx="303.8" cy="1104.7" r="2.05"/><circle cx="314.3" cy="1107.7" r="2.05"/><circle cx="312.2" cy="1096.9" r="2.05"/><circle cx="329.3" cy="1104.5" r="2.05"/><circle cx="322.9" cy="1108.4" r="2.05"/><circle cx="326.2" cy="1108.4" r="2.05"/><circle cx="349.5" cy="1102.9" r="2.05"/><circle cx="327.5" cy="1104.8" r="2.05"/><circle cx="303.3" cy="1108.6" r="2.05"/><circle cx="349.1" cy="1099.2" r="2.05"/><circle cx="342.1" cy="1098.9" r="2.05"/><circle cx="333.6" cy="1101.1" r="2.05"/><circle cx="306.6" cy="1108.1" r="2.05"/><circle cx="351.3" cy="1098.1" r="2.05"/><circle cx="336.9" cy="1107.8" r="2.05"/><circle cx="300.0" cy="1098.7" r="2.05"/><circle cx="328.3" cy="1098.4" r="2.05"/><circle cx="321.7" cy="1108.4" r="2.05"/><circle cx="349.0" cy="1109.4" r="2.05"/><circle cx="300.9" cy="1108.3" r="2.05"/><circle cx="331.3" cy="1106.8" r="2.05"/><circle cx="308.6" cy="1110.0" r="2.05"/><circle cx="321.8" cy="1101.9" r="2.05"/><circle cx="333.4" cy="1110.0" r="2.05"/><circle cx="310.6" cy="1108.7" r="2.05"/><circle cx="313.9" cy="1103.4" r="2.05"/><circle cx="327.0" cy="1111.0" r="2.05"/><circle cx="301.6" cy="1106.7" r="2.05"/><circle cx="387.0" cy="1107.1" r="2.05"/><circle cx="378.3" cy="1104.9" r="2.05"/><circle cx="397.3" cy="1103.4" r="2.05"/><circle cx="381.3" cy="1104.4" r="2.05"/><circle cx="382.2" cy="1105.7" r="2.05"/><circle cx="385.2" cy="1104.4" r="2.05"/><circle cx="378.1" cy="1102.9" r="2.05"/><circle cx="373.7" cy="1101.7" r="2.05"/><circle cx="352.8" cy="1100.7" r="2.05"/><circle cx="387.1" cy="1107.2" r="2.05"/><circle cx="379.0" cy="1105.6" r="2.05"/><circle cx="353.9" cy="1107.3" r="2.05"/><circle cx="379.0" cy="1107.7" r="2.05"/><circle cx="385.6" cy="1106.9" r="2.05"/><circle cx="367.5" cy="1109.0" r="2.05"/><circle cx="395.0" cy="1101.4" r="2.05"/><circle cx="357.6" cy="1105.1" r="2.05"/><circle cx="365.7" cy="1108.2" r="2.05"/><circle cx="379.7" cy="1101.2" r="2.05"/><circle cx="375.3" cy="1102.8" r="2.05"/><circle cx="374.5" cy="1103.3" r="2.05"/><circle cx="368.2" cy="1106.8" r="2.05"/><circle cx="359.3" cy="1101.6" r="2.05"/><circle cx="391.6" cy="1104.8" r="2.05"/><circle cx="369.1" cy="1102.5" r="2.05"/><circle cx="372.3" cy="1102.7" r="2.05"/><circle cx="374.5" cy="1106.5" r="2.05"/><circle cx="393.3" cy="1106.2" r="2.05"/><circle cx="362.6" cy="1107.1" r="2.05"/><circle cx="388.3" cy="1109.2" r="2.05"/><circle cx="354.1" cy="1104.5" r="2.05"/><circle cx="368.5" cy="1105.7" r="2.05"/><circle cx="378.4" cy="1107.7" r="2.05"/><circle cx="391.6" cy="1101.4" r="2.05"/><circle cx="353.9" cy="1107.7" r="2.05"/><circle cx="394.8" cy="1101.9" r="2.05"/><circle cx="353.1" cy="1110.1" r="2.05"/><circle cx="381.3" cy="1106.0" r="2.05"/><circle cx="385.1" cy="1110.7" r="2.05"/><circle cx="377.9" cy="1104.1" r="2.05"/><circle cx="360.9" cy="1098.5" r="2.05"/><circle cx="353.2" cy="1109.7" r="2.05"/><circle cx="352.7" cy="1102.7" r="2.05"/><circle cx="365.1" cy="1100.1" r="2.05"/><circle cx="355.1" cy="1105.8" r="2.05"/><circle cx="381.4" cy="1104.0" r="2.05"/><circle cx="374.5" cy="1108.1" r="2.05"/><circle cx="373.6" cy="1106.7" r="2.05"/><circle cx="357.9" cy="1104.5" r="2.05"/><circle cx="369.0" cy="1106.6" r="2.05"/><circle cx="390.1" cy="1103.2" r="2.05"/><circle cx="384.5" cy="1107.9" r="2.05"/><circle cx="359.8" cy="1105.9" r="2.05"/><circle cx="353.1" cy="1105.5" r="2.05"/><circle cx="379.2" cy="1105.9" r="2.05"/><circle cx="384.2" cy="1107.6" r="2.05"/><circle cx="387.6" cy="1103.2" r="2.05"/><circle cx="389.7" cy="1108.9" r="2.05"/><circle cx="369.6" cy="1104.2" r="2.05"/><circle cx="376.9" cy="1104.2" r="2.05"/><circle cx="379.9" cy="1105.3" r="2.05"/><circle cx="356.8" cy="1104.4" r="2.05"/><circle cx="374.4" cy="1104.8" r="2.05"/><circle cx="369.4" cy="1099.8" r="2.05"/><circle cx="391.0" cy="1104.2" r="2.05"/><circle cx="367.1" cy="1107.6" r="2.05"/><circle cx="384.1" cy="1104.9" r="2.05"/><circle cx="368.5" cy="1105.0" r="2.05"/><circle cx="362.0" cy="1103.6" r="2.05"/><circle cx="379.0" cy="1104.5" r="2.05"/><circle cx="378.2" cy="1106.3" r="2.05"/><circle cx="369.9" cy="1099.9" r="2.05"/><circle cx="359.4" cy="1108.9" r="2.05"/><circle cx="384.6" cy="1101.0" r="2.05"/><circle cx="375.3" cy="1099.1" r="2.05"/><circle cx="363.3" cy="1105.1" r="2.05"/><circle cx="361.5" cy="1102.1" r="2.05"/><circle cx="388.5" cy="1102.8" r="2.05"/><circle cx="395.1" cy="1099.9" r="2.05"/><circle cx="383.7" cy="1106.2" r="2.05"/><circle cx="368.8" cy="1106.2" r="2.05"/><circle cx="354.5" cy="1106.5" r="2.05"/><circle cx="388.9" cy="1106.1" r="2.05"/><circle cx="354.0" cy="1099.8" r="2.05"/><circle cx="374.6" cy="1107.5" r="2.05"/><circle cx="358.5" cy="1109.0" r="2.05"/><circle cx="381.3" cy="1102.3" r="2.05"/><circle cx="356.3" cy="1108.9" r="2.05"/><circle cx="366.2" cy="1105.0" r="2.05"/><circle cx="356.9" cy="1102.7" r="2.05"/><circle cx="448.1" cy="1105.8" r="2.05"/><circle cx="454.8" cy="1104.5" r="2.05"/><circle cx="475.2" cy="1103.3" r="2.05"/><circle cx="490.6" cy="1104.5" r="2.05"/><circle cx="497.4" cy="1104.7" r="2.05"/><circle cx="468.6" cy="1104.4" r="2.05"/><circle cx="419.0" cy="1107.7" r="2.05"/><circle cx="445.3" cy="1106.8" r="2.05"/><circle cx="427.3" cy="1103.8" r="2.05"/><circle cx="493.0" cy="1104.3" r="2.05"/><circle cx="484.8" cy="1106.3" r="2.05"/><circle cx="497.9" cy="1104.6" r="2.05"/><circle cx="462.5" cy="1104.5" r="2.05"/><circle cx="435.2" cy="1104.1" r="2.05"/><circle cx="466.0" cy="1105.8" r="2.05"/><circle cx="468.9" cy="1104.3" r="2.05"/><circle cx="399.5" cy="1103.5" r="2.05"/><circle cx="479.5" cy="1105.4" r="2.05"/><circle cx="483.3" cy="1106.3" r="2.05"/><circle cx="484.8" cy="1104.8" r="2.05"/><circle cx="459.0" cy="1104.6" r="2.05"/><circle cx="496.6" cy="1103.0" r="2.05"/><circle cx="455.2" cy="1105.4" r="2.05"/><circle cx="441.0" cy="1104.3" r="2.05"/><circle cx="499.2" cy="1104.7" r="2.05"/><circle cx="428.5" cy="1103.2" r="2.05"/><circle cx="486.2" cy="1104.9" r="2.05"/><circle cx="484.0" cy="1104.6" r="2.05"/><circle cx="470.1" cy="1104.8" r="2.05"/><circle cx="427.2" cy="1106.4" r="2.05"/><circle cx="404.4" cy="1107.1" r="2.05"/><circle cx="493.3" cy="1105.8" r="2.05"/><circle cx="414.2" cy="1104.6" r="2.05"/><circle cx="399.7" cy="1105.5" r="2.05"/><circle cx="479.3" cy="1107.2" r="2.05"/><circle cx="398.9" cy="1103.9" r="2.05"/><circle cx="482.0" cy="1103.2" r="2.05"/><circle cx="462.3" cy="1104.1" r="2.05"/><circle cx="479.7" cy="1106.5" r="2.05"/><circle cx="502.8" cy="1105.4" r="2.05"/><circle cx="419.8" cy="1105.9" r="2.05"/><circle cx="475.0" cy="1106.2" r="2.05"/><circle cx="462.1" cy="1105.0" r="2.05"/><circle cx="414.0" cy="1106.5" r="2.05"/><circle cx="491.6" cy="1105.8" r="2.05"/><circle cx="405.4" cy="1102.6" r="2.05"/><circle cx="432.7" cy="1106.3" r="2.05"/><circle cx="480.2" cy="1104.1" r="2.05"/><circle cx="415.5" cy="1104.8" r="2.05"/><circle cx="443.2" cy="1103.4" r="2.05"/><circle cx="466.3" cy="1102.9" r="2.05"/><circle cx="476.9" cy="1105.5" r="2.05"/><circle cx="459.0" cy="1104.4" r="2.05"/><circle cx="444.0" cy="1106.6" r="2.05"/><circle cx="436.7" cy="1106.0" r="2.05"/><circle cx="480.9" cy="1106.9" r="2.05"/><circle cx="464.6" cy="1103.8" r="2.05"/><circle cx="483.1" cy="1105.5" r="2.05"/><circle cx="431.1" cy="1105.3" r="2.05"/><circle cx="418.4" cy="1105.8" r="2.05"/><circle cx="418.7" cy="1103.2" r="2.05"/><circle cx="480.6" cy="1103.4" r="2.05"/><circle cx="424.8" cy="1104.0" r="2.05"/><circle cx="478.5" cy="1105.4" r="2.05"/><circle cx="472.1" cy="1104.5" r="2.05"/><circle cx="452.2" cy="1106.1" r="2.05"/><circle cx="483.0" cy="1105.6" r="2.05"/><circle cx="435.4" cy="1104.4" r="2.05"/><circle cx="443.0" cy="1105.0" r="2.05"/><circle cx="491.3" cy="1105.7" r="2.05"/><circle cx="493.9" cy="1105.8" r="2.05"/><circle cx="417.1" cy="1101.9" r="2.05"/><circle cx="406.3" cy="1105.4" r="2.05"/><circle cx="491.9" cy="1103.0" r="2.05"/><circle cx="460.7" cy="1105.7" r="2.05"/><circle cx="511.1" cy="1105.6" r="2.05"/><circle cx="517.7" cy="1105.4" r="2.05"/><circle cx="524.3" cy="1105.0" r="2.05"/><circle cx="530.9" cy="1105.2" r="2.05"/><circle cx="540.8" cy="1104.8" r="2.05"/><circle cx="545.4" cy="1104.5" r="2.05"/><circle cx="550.7" cy="1104.6" r="2.05"/><circle cx="558.6" cy="1104.5" r="2.05"/><circle cx="567.2" cy="1105.1" r="2.05"/><circle cx="573.8" cy="1105.7" r="2.05"/><circle cx="583.7" cy="1105.0" r="2.05"/><circle cx="598.9" cy="1104.6" r="2.05"/></g>
<text x="700" y="1112.9" font-size="22" fill="#111" text-anchor="end">&lt;0.0001</text>
<text x="252.2" y="1163.2" font-size="25.8" fill="#111" text-anchor="end">Thy</text>
<path d="M258.5,1154.0 H273.5" stroke="#444444" stroke-width="1.6"/>
<rect x="275.9" y="1140.2" width="53.2" height="27.6" fill="#fff" stroke="#549431" stroke-width="5.2" rx="2.2" stroke-linejoin="round"/>
<path d="M331.6,1154.0 H336.2 M336.2,1148.0 v12" stroke="#549431" stroke-width="1.8" fill="none"/>
<g fill="#b7db8b"><circle cx="281.4" cy="1151.1" r="2.05"/><circle cx="283.2" cy="1161.7" r="2.05"/><circle cx="276.0" cy="1150.1" r="2.05"/><circle cx="283.5" cy="1151.8" r="2.05"/><circle cx="280.6" cy="1149.1" r="2.05"/><circle cx="283.5" cy="1153.8" r="2.05"/><circle cx="277.0" cy="1145.8" r="2.05"/><circle cx="280.8" cy="1152.6" r="2.05"/><circle cx="277.6" cy="1162.2" r="2.05"/><circle cx="275.2" cy="1149.6" r="2.05"/><circle cx="276.0" cy="1156.8" r="2.05"/><circle cx="279.1" cy="1156.6" r="2.05"/><circle cx="282.6" cy="1165.4" r="2.05"/><circle cx="279.2" cy="1146.0" r="2.05"/><circle cx="277.2" cy="1165.8" r="2.05"/><circle cx="281.9" cy="1149.6" r="2.05"/><circle cx="282.9" cy="1157.9" r="2.05"/><circle cx="282.7" cy="1150.9" r="2.05"/><circle cx="282.5" cy="1156.2" r="2.05"/><circle cx="277.2" cy="1148.0" r="2.05"/><circle cx="280.2" cy="1154.7" r="2.05"/><circle cx="277.7" cy="1154.4" r="2.05"/><circle cx="274.8" cy="1150.0" r="2.05"/><circle cx="277.6" cy="1149.1" r="2.05"/><circle cx="276.0" cy="1156.1" r="2.05"/><circle cx="278.5" cy="1146.1" r="2.05"/><circle cx="279.3" cy="1149.2" r="2.05"/><circle cx="276.8" cy="1148.8" r="2.05"/><circle cx="281.7" cy="1149.7" r="2.05"/><circle cx="282.7" cy="1153.0" r="2.05"/><circle cx="281.6" cy="1155.0" r="2.05"/><circle cx="276.4" cy="1152.1" r="2.05"/><circle cx="283.8" cy="1156.1" r="2.05"/><circle cx="277.5" cy="1156.2" r="2.05"/><circle cx="277.5" cy="1153.8" r="2.05"/><circle cx="278.5" cy="1163.9" r="2.05"/><circle cx="275.9" cy="1152.7" r="2.05"/><circle cx="279.4" cy="1148.2" r="2.05"/><circle cx="280.0" cy="1160.8" r="2.05"/><circle cx="275.2" cy="1159.9" r="2.05"/><circle cx="325.8" cy="1157.5" r="2.05"/><circle cx="286.7" cy="1156.6" r="2.05"/><circle cx="335.0" cy="1157.1" r="2.05"/><circle cx="323.1" cy="1147.7" r="2.05"/><circle cx="290.0" cy="1151.0" r="2.05"/><circle cx="296.6" cy="1154.0" r="2.05"/><circle cx="299.9" cy="1154.3" r="2.05"/><circle cx="313.3" cy="1151.4" r="2.05"/><circle cx="329.4" cy="1156.8" r="2.05"/><circle cx="289.8" cy="1155.5" r="2.05"/><circle cx="305.1" cy="1150.9" r="2.05"/><circle cx="332.0" cy="1148.5" r="2.05"/><circle cx="289.8" cy="1155.7" r="2.05"/><circle cx="308.0" cy="1156.8" r="2.05"/><circle cx="320.5" cy="1156.8" r="2.05"/><circle cx="323.1" cy="1150.6" r="2.05"/><circle cx="306.4" cy="1158.3" r="2.05"/><circle cx="298.7" cy="1149.5" r="2.05"/><circle cx="331.8" cy="1155.4" r="2.05"/><circle cx="319.6" cy="1154.3" r="2.05"/><circle cx="300.9" cy="1155.4" r="2.05"/><circle cx="320.4" cy="1157.2" r="2.05"/><circle cx="298.5" cy="1150.5" r="2.05"/><circle cx="326.1" cy="1157.5" r="2.05"/><circle cx="324.4" cy="1148.0" r="2.05"/><circle cx="307.4" cy="1151.6" r="2.05"/><circle cx="330.4" cy="1153.5" r="2.05"/><circle cx="321.0" cy="1157.5" r="2.05"/><circle cx="301.5" cy="1153.8" r="2.05"/><circle cx="313.8" cy="1158.7" r="2.05"/><circle cx="285.8" cy="1159.9" r="2.05"/><circle cx="299.9" cy="1154.6" r="2.05"/><circle cx="324.7" cy="1148.3" r="2.05"/><circle cx="284.2" cy="1154.7" r="2.05"/><circle cx="315.9" cy="1154.5" r="2.05"/><circle cx="285.0" cy="1155.5" r="2.05"/><circle cx="326.6" cy="1156.5" r="2.05"/><circle cx="285.6" cy="1151.2" r="2.05"/><circle cx="287.7" cy="1154.0" r="2.05"/><circle cx="298.9" cy="1156.3" r="2.05"/><circle cx="302.5" cy="1154.6" r="2.05"/><circle cx="323.2" cy="1155.0" r="2.05"/><circle cx="286.2" cy="1153.4" r="2.05"/><circle cx="306.0" cy="1154.9" r="2.05"/><circle cx="332.3" cy="1153.2" r="2.05"/><circle cx="297.7" cy="1151.0" r="2.05"/><circle cx="291.4" cy="1158.0" r="2.05"/><circle cx="293.0" cy="1151.5" r="2.05"/><circle cx="326.9" cy="1155.2" r="2.05"/><circle cx="318.5" cy="1152.0" r="2.05"/><circle cx="319.2" cy="1159.2" r="2.05"/><circle cx="296.4" cy="1159.3" r="2.05"/><circle cx="297.6" cy="1158.3" r="2.05"/><circle cx="292.2" cy="1156.6" r="2.05"/><circle cx="302.6" cy="1155.9" r="2.05"/><circle cx="312.5" cy="1153.6" r="2.05"/><circle cx="313.4" cy="1151.4" r="2.05"/><circle cx="320.2" cy="1155.1" r="2.05"/><circle cx="292.4" cy="1150.8" r="2.05"/><circle cx="330.5" cy="1153.3" r="2.05"/><circle cx="286.6" cy="1152.7" r="2.05"/><circle cx="317.0" cy="1154.5" r="2.05"/><circle cx="313.6" cy="1157.5" r="2.05"/><circle cx="298.3" cy="1153.4" r="2.05"/><circle cx="299.9" cy="1159.2" r="2.05"/><circle cx="329.7" cy="1158.1" r="2.05"/><circle cx="332.8" cy="1152.0" r="2.05"/><circle cx="301.1" cy="1153.2" r="2.05"/><circle cx="317.6" cy="1152.9" r="2.05"/><circle cx="316.3" cy="1150.0" r="2.05"/><circle cx="319.0" cy="1154.9" r="2.05"/><circle cx="329.6" cy="1152.6" r="2.05"/><circle cx="308.7" cy="1156.8" r="2.05"/><circle cx="322.2" cy="1153.9" r="2.05"/><circle cx="291.3" cy="1151.0" r="2.05"/><circle cx="353.8" cy="1154.5" r="2.05"/><circle cx="345.4" cy="1148.9" r="2.05"/><circle cx="363.4" cy="1152.9" r="2.05"/><circle cx="348.6" cy="1152.5" r="2.05"/><circle cx="354.6" cy="1152.7" r="2.05"/><circle cx="338.6" cy="1152.4" r="2.05"/><circle cx="349.4" cy="1151.2" r="2.05"/><circle cx="364.2" cy="1153.5" r="2.05"/><circle cx="350.9" cy="1153.7" r="2.05"/><circle cx="347.8" cy="1152.3" r="2.05"/><circle cx="344.6" cy="1153.3" r="2.05"/><circle cx="343.1" cy="1154.3" r="2.05"/><circle cx="340.1" cy="1157.9" r="2.05"/><circle cx="349.8" cy="1153.7" r="2.05"/><circle cx="342.4" cy="1155.3" r="2.05"/><circle cx="353.8" cy="1151.4" r="2.05"/><circle cx="357.2" cy="1154.7" r="2.05"/><circle cx="343.2" cy="1157.8" r="2.05"/><circle cx="348.1" cy="1153.3" r="2.05"/><circle cx="363.1" cy="1151.2" r="2.05"/><circle cx="345.6" cy="1155.5" r="2.05"/><circle cx="344.8" cy="1156.4" r="2.05"/><circle cx="350.6" cy="1149.7" r="2.05"/><circle cx="349.1" cy="1155.5" r="2.05"/><circle cx="404.1" cy="1152.4" r="2.05"/><circle cx="418.2" cy="1153.5" r="2.05"/><circle cx="438.3" cy="1155.0" r="2.05"/><circle cx="444.5" cy="1153.9" r="2.05"/><circle cx="395.0" cy="1155.2" r="2.05"/><circle cx="441.3" cy="1153.4" r="2.05"/><circle cx="405.6" cy="1152.8" r="2.05"/><circle cx="374.9" cy="1154.7" r="2.05"/><circle cx="405.0" cy="1153.7" r="2.05"/><circle cx="388.2" cy="1152.3" r="2.05"/><circle cx="440.4" cy="1153.8" r="2.05"/><circle cx="399.6" cy="1153.9" r="2.05"/><circle cx="414.9" cy="1154.8" r="2.05"/><circle cx="420.5" cy="1153.5" r="2.05"/><circle cx="451.4" cy="1154.6" r="2.05"/><circle cx="415.0" cy="1155.4" r="2.05"/><circle cx="410.3" cy="1153.7" r="2.05"/><circle cx="393.9" cy="1153.9" r="2.05"/><circle cx="439.8" cy="1153.9" r="2.05"/><circle cx="405.3" cy="1153.7" r="2.05"/><circle cx="418.0" cy="1153.5" r="2.05"/><circle cx="372.5" cy="1153.9" r="2.05"/><circle cx="413.1" cy="1153.9" r="2.05"/><circle cx="429.5" cy="1153.3" r="2.05"/><circle cx="478.1" cy="1154.6" r="2.05"/><circle cx="491.3" cy="1153.4" r="2.05"/><circle cx="495.3" cy="1153.4" r="2.05"/><circle cx="515.1" cy="1154.0" r="2.05"/><circle cx="573.8" cy="1154.7" r="2.05"/></g>
<text x="700" y="1161.8" font-size="22" fill="#111" text-anchor="end">0.0003</text>
<text x="252.2" y="1212.1" font-size="25.8" fill="#111" text-anchor="end">Puro</text>
<path d="M258.5,1202.9 H273.5" stroke="#444444" stroke-width="1.6"/>
<rect x="275.9" y="1189.1" width="59.1" height="27.6" fill="#fff" stroke="#165572" stroke-width="5.2" rx="2.2" stroke-linejoin="round"/>
<path d="M337.5,1202.9 H343.5 M343.5,1196.9 v12" stroke="#165572" stroke-width="1.8" fill="none"/>
<g fill="#2b86ae"><circle cx="276.5" cy="1191.2" r="2.05"/><circle cx="275.9" cy="1195.6" r="2.05"/><circle cx="276.4" cy="1200.6" r="2.05"/><circle cx="275.9" cy="1204.6" r="2.05"/><circle cx="276.5" cy="1209.6" r="2.05"/><circle cx="280.5" cy="1194.0" r="2.05"/><circle cx="280.3" cy="1198.5" r="2.05"/><circle cx="280.2" cy="1202.6" r="2.05"/><circle cx="280.1" cy="1207.5" r="2.05"/><circle cx="280.5" cy="1212.0" r="2.05"/><circle cx="284.6" cy="1191.8" r="2.05"/><circle cx="284.3" cy="1196.0" r="2.05"/><circle cx="284.8" cy="1200.2" r="2.05"/><circle cx="285.0" cy="1209.3" r="2.05"/><circle cx="284.5" cy="1214.0" r="2.05"/><circle cx="289.1" cy="1193.5" r="2.05"/><circle cx="288.9" cy="1197.8" r="2.05"/><circle cx="288.6" cy="1202.5" r="2.05"/><circle cx="288.6" cy="1206.8" r="2.05"/><circle cx="288.7" cy="1211.9" r="2.05"/><circle cx="293.5" cy="1191.0" r="2.05"/><circle cx="293.6" cy="1196.2" r="2.05"/><circle cx="292.9" cy="1200.2" r="2.05"/><circle cx="292.9" cy="1204.8" r="2.05"/><circle cx="293.5" cy="1209.1" r="2.05"/><circle cx="293.5" cy="1213.8" r="2.05"/><circle cx="297.7" cy="1193.4" r="2.05"/><circle cx="297.7" cy="1198.3" r="2.05"/><circle cx="297.8" cy="1207.3" r="2.05"/><circle cx="297.4" cy="1211.7" r="2.05"/><circle cx="302.1" cy="1196.1" r="2.05"/><circle cx="302.1" cy="1200.5" r="2.05"/><circle cx="301.6" cy="1204.8" r="2.05"/><circle cx="302.1" cy="1209.5" r="2.05"/><circle cx="301.8" cy="1213.6" r="2.05"/><circle cx="306.1" cy="1193.5" r="2.05"/><circle cx="306.0" cy="1198.4" r="2.05"/><circle cx="306.1" cy="1202.8" r="2.05"/><circle cx="306.3" cy="1206.8" r="2.05"/><circle cx="306.0" cy="1211.8" r="2.05"/><circle cx="310.1" cy="1191.5" r="2.05"/><circle cx="310.3" cy="1196.2" r="2.05"/><circle cx="310.7" cy="1200.6" r="2.05"/><circle cx="310.3" cy="1204.8" r="2.05"/><circle cx="310.0" cy="1209.3" r="2.05"/><circle cx="310.4" cy="1214.2" r="2.05"/><circle cx="314.2" cy="1194.0" r="2.05"/><circle cx="314.6" cy="1198.1" r="2.05"/><circle cx="315.0" cy="1203.0" r="2.05"/><circle cx="314.7" cy="1206.8" r="2.05"/><circle cx="314.7" cy="1211.8" r="2.05"/><circle cx="318.6" cy="1191.7" r="2.05"/><circle cx="319.2" cy="1196.3" r="2.05"/><circle cx="318.8" cy="1200.1" r="2.05"/><circle cx="318.6" cy="1205.0" r="2.05"/><circle cx="318.8" cy="1209.7" r="2.05"/><circle cx="318.7" cy="1214.0" r="2.05"/><circle cx="323.1" cy="1194.0" r="2.05"/><circle cx="323.3" cy="1198.1" r="2.05"/><circle cx="323.5" cy="1202.6" r="2.05"/><circle cx="323.2" cy="1206.9" r="2.05"/><circle cx="323.2" cy="1212.0" r="2.05"/><circle cx="327.3" cy="1191.2" r="2.05"/><circle cx="327.7" cy="1200.7" r="2.05"/><circle cx="327.5" cy="1204.9" r="2.05"/><circle cx="327.4" cy="1213.7" r="2.05"/><circle cx="331.5" cy="1193.4" r="2.05"/><circle cx="331.5" cy="1197.9" r="2.05"/><circle cx="331.9" cy="1202.9" r="2.05"/><circle cx="331.6" cy="1207.0" r="2.05"/><circle cx="336.2" cy="1191.3" r="2.05"/><circle cx="336.4" cy="1196.0" r="2.05"/><circle cx="335.9" cy="1200.1" r="2.05"/><circle cx="335.8" cy="1204.6" r="2.05"/><circle cx="335.8" cy="1214.1" r="2.05"/><circle cx="349.4" cy="1202.6" r="2.05"/><circle cx="355.7" cy="1201.4" r="2.05"/><circle cx="341.9" cy="1201.6" r="2.05"/><circle cx="341.2" cy="1202.1" r="2.05"/><circle cx="356.0" cy="1206.0" r="2.05"/><circle cx="340.0" cy="1203.1" r="2.05"/><circle cx="353.2" cy="1200.3" r="2.05"/><circle cx="356.6" cy="1205.4" r="2.05"/><circle cx="353.5" cy="1200.5" r="2.05"/><circle cx="357.6" cy="1205.0" r="2.05"/><circle cx="363.9" cy="1202.7" r="2.05"/><circle cx="364.3" cy="1201.2" r="2.05"/><circle cx="359.7" cy="1202.3" r="2.05"/><circle cx="349.9" cy="1200.5" r="2.05"/><circle cx="381.7" cy="1202.1" r="2.05"/><circle cx="385.7" cy="1203.1" r="2.05"/><circle cx="405.5" cy="1203.5" r="2.05"/><circle cx="412.1" cy="1202.5" r="2.05"/><circle cx="431.9" cy="1202.9" r="2.05"/><circle cx="438.5" cy="1203.6" r="2.05"/><circle cx="449.1" cy="1203.3" r="2.05"/><circle cx="478.1" cy="1202.7" r="2.05"/><circle cx="508.5" cy="1203.3" r="2.05"/><circle cx="541.5" cy="1203.2" r="2.05"/><circle cx="557.3" cy="1203.2" r="2.05"/><circle cx="567.9" cy="1203.0" r="2.05"/><circle cx="577.1" cy="1202.2" r="2.05"/><circle cx="583.7" cy="1203.5" r="2.05"/></g>
<text x="700" y="1210.7" font-size="22" fill="#111" text-anchor="end">&lt;0.0001</text>
<text x="252.2" y="1261.0" font-size="25.8" fill="#111" text-anchor="end">MG132</text>
<path d="M258.5,1251.8 H273.5" stroke="#444444" stroke-width="1.6"/>
<rect x="275.9" y="1238.0" width="100.7" height="27.6" fill="#fff" stroke="#402d7a" stroke-width="5.2" rx="2.2" stroke-linejoin="round"/>
<path d="M379.1,1251.8 H386.4 M386.4,1245.8 v12" stroke="#402d7a" stroke-width="1.8" fill="none"/>
<path d="M371.8,1251.8 H379.1 M371.8,1245.8 v12" stroke="#402d7a" stroke-width="1.8" fill="none"/>
<g fill="#4c3b97"><circle cx="276.0" cy="1244.8" r="2.05"/><circle cx="276.2" cy="1249.2" r="2.05"/><circle cx="276.0" cy="1253.8" r="2.05"/><circle cx="276.4" cy="1258.4" r="2.05"/><circle cx="276.1" cy="1263.2" r="2.05"/><circle cx="280.4" cy="1242.3" r="2.05"/><circle cx="280.6" cy="1247.4" r="2.05"/><circle cx="280.4" cy="1251.8" r="2.05"/><circle cx="280.7" cy="1256.0" r="2.05"/><circle cx="280.3" cy="1260.3" r="2.05"/><circle cx="284.5" cy="1240.2" r="2.05"/><circle cx="285.0" cy="1249.5" r="2.05"/><circle cx="284.6" cy="1254.2" r="2.05"/><circle cx="284.7" cy="1258.2" r="2.05"/><circle cx="284.4" cy="1263.0" r="2.05"/><circle cx="288.9" cy="1242.5" r="2.05"/><circle cx="288.8" cy="1247.1" r="2.05"/><circle cx="288.7" cy="1251.8" r="2.05"/><circle cx="289.2" cy="1255.8" r="2.05"/><circle cx="289.2" cy="1260.9" r="2.05"/><circle cx="293.4" cy="1240.2" r="2.05"/><circle cx="293.1" cy="1244.6" r="2.05"/><circle cx="292.9" cy="1249.6" r="2.05"/><circle cx="292.9" cy="1253.5" r="2.05"/><circle cx="293.0" cy="1258.4" r="2.05"/><circle cx="293.3" cy="1262.9" r="2.05"/><circle cx="297.2" cy="1247.0" r="2.05"/><circle cx="297.1" cy="1251.6" r="2.05"/><circle cx="297.9" cy="1256.2" r="2.05"/><circle cx="297.6" cy="1260.6" r="2.05"/><circle cx="301.7" cy="1240.7" r="2.05"/><circle cx="302.0" cy="1245.1" r="2.05"/><circle cx="301.5" cy="1249.6" r="2.05"/><circle cx="301.6" cy="1253.9" r="2.05"/><circle cx="301.7" cy="1258.5" r="2.05"/><circle cx="301.7" cy="1262.6" r="2.05"/><circle cx="306.1" cy="1242.3" r="2.05"/><circle cx="306.3" cy="1247.4" r="2.05"/><circle cx="306.1" cy="1251.2" r="2.05"/><circle cx="305.8" cy="1256.1" r="2.05"/><circle cx="306.4" cy="1260.9" r="2.05"/><circle cx="310.2" cy="1240.6" r="2.05"/><circle cx="310.3" cy="1244.5" r="2.05"/><circle cx="310.4" cy="1248.9" r="2.05"/><circle cx="310.3" cy="1253.8" r="2.05"/><circle cx="310.1" cy="1258.3" r="2.05"/><circle cx="310.0" cy="1262.6" r="2.05"/><circle cx="314.9" cy="1242.9" r="2.05"/><circle cx="314.8" cy="1251.7" r="2.05"/><circle cx="314.7" cy="1255.9" r="2.05"/><circle cx="314.8" cy="1260.6" r="2.05"/><circle cx="319.1" cy="1240.2" r="2.05"/><circle cx="318.7" cy="1249.0" r="2.05"/><circle cx="318.9" cy="1253.7" r="2.05"/><circle cx="318.7" cy="1258.1" r="2.05"/><circle cx="318.8" cy="1263.0" r="2.05"/><circle cx="323.5" cy="1242.2" r="2.05"/><circle cx="323.0" cy="1246.8" r="2.05"/><circle cx="323.3" cy="1251.4" r="2.05"/><circle cx="323.3" cy="1255.7" r="2.05"/><circle cx="323.0" cy="1260.3" r="2.05"/><circle cx="327.3" cy="1244.4" r="2.05"/><circle cx="327.3" cy="1249.2" r="2.05"/><circle cx="327.4" cy="1254.0" r="2.05"/><circle cx="327.7" cy="1258.4" r="2.05"/><circle cx="327.8" cy="1262.8" r="2.05"/><circle cx="331.7" cy="1242.5" r="2.05"/><circle cx="331.8" cy="1247.3" r="2.05"/><circle cx="331.4" cy="1251.7" r="2.05"/><circle cx="332.1" cy="1255.7" r="2.05"/><circle cx="332.0" cy="1260.6" r="2.05"/><circle cx="336.2" cy="1240.3" r="2.05"/><circle cx="336.0" cy="1245.0" r="2.05"/><circle cx="335.9" cy="1249.6" r="2.05"/><circle cx="336.3" cy="1253.6" r="2.05"/><circle cx="335.7" cy="1258.3" r="2.05"/><circle cx="335.7" cy="1262.5" r="2.05"/><circle cx="339.9" cy="1242.7" r="2.05"/><circle cx="340.0" cy="1247.2" r="2.05"/><circle cx="340.2" cy="1256.1" r="2.05"/><circle cx="340.0" cy="1260.4" r="2.05"/><circle cx="344.3" cy="1240.3" r="2.05"/><circle cx="344.1" cy="1245.0" r="2.05"/><circle cx="344.5" cy="1249.2" r="2.05"/><circle cx="344.8" cy="1253.9" r="2.05"/><circle cx="344.9" cy="1257.9" r="2.05"/><circle cx="344.5" cy="1262.5" r="2.05"/><circle cx="348.8" cy="1242.7" r="2.05"/><circle cx="348.8" cy="1247.4" r="2.05"/><circle cx="349.2" cy="1256.2" r="2.05"/><circle cx="348.9" cy="1260.8" r="2.05"/><circle cx="352.8" cy="1244.4" r="2.05"/><circle cx="353.3" cy="1249.5" r="2.05"/><circle cx="352.9" cy="1254.1" r="2.05"/><circle cx="352.7" cy="1258.2" r="2.05"/><circle cx="357.2" cy="1242.3" r="2.05"/><circle cx="357.5" cy="1247.4" r="2.05"/><circle cx="357.3" cy="1251.5" r="2.05"/><circle cx="357.3" cy="1256.1" r="2.05"/><circle cx="357.3" cy="1260.2" r="2.05"/><circle cx="361.7" cy="1240.3" r="2.05"/><circle cx="361.9" cy="1244.5" r="2.05"/><circle cx="361.3" cy="1249.5" r="2.05"/><circle cx="361.9" cy="1253.9" r="2.05"/><circle cx="361.4" cy="1258.7" r="2.05"/><circle cx="361.7" cy="1262.5" r="2.05"/><circle cx="366.3" cy="1242.8" r="2.05"/><circle cx="366.2" cy="1251.9" r="2.05"/><circle cx="365.6" cy="1255.8" r="2.05"/><circle cx="366.2" cy="1260.8" r="2.05"/><circle cx="370.4" cy="1240.1" r="2.05"/><circle cx="370.1" cy="1244.7" r="2.05"/><circle cx="370.0" cy="1249.4" r="2.05"/><circle cx="370.3" cy="1253.8" r="2.05"/><circle cx="370.3" cy="1258.6" r="2.05"/><circle cx="370.2" cy="1262.7" r="2.05"/><circle cx="374.1" cy="1242.2" r="2.05"/><circle cx="374.6" cy="1251.8" r="2.05"/><circle cx="374.7" cy="1256.4" r="2.05"/><circle cx="374.2" cy="1260.5" r="2.05"/><circle cx="385.8" cy="1250.0" r="2.05"/><circle cx="387.9" cy="1251.3" r="2.05"/><circle cx="392.3" cy="1245.1" r="2.05"/><circle cx="382.1" cy="1252.9" r="2.05"/><circle cx="384.0" cy="1252.0" r="2.05"/><circle cx="384.2" cy="1255.9" r="2.05"/><circle cx="386.5" cy="1253.1" r="2.05"/><circle cx="398.5" cy="1251.5" r="2.05"/><circle cx="397.7" cy="1254.9" r="2.05"/><circle cx="392.5" cy="1255.6" r="2.05"/><circle cx="386.2" cy="1251.1" r="2.05"/><circle cx="384.1" cy="1251.1" r="2.05"/><circle cx="396.1" cy="1250.3" r="2.05"/><circle cx="388.6" cy="1244.8" r="2.05"/><circle cx="387.9" cy="1245.5" r="2.05"/><circle cx="397.4" cy="1255.4" r="2.05"/><circle cx="401.1" cy="1251.8" r="2.05"/><circle cx="398.3" cy="1250.4" r="2.05"/><circle cx="392.2" cy="1256.9" r="2.05"/><circle cx="384.5" cy="1251.2" r="2.05"/><circle cx="379.3" cy="1258.6" r="2.05"/><circle cx="388.9" cy="1252.8" r="2.05"/><circle cx="430.5" cy="1250.8" r="2.05"/><circle cx="556.5" cy="1251.8" r="2.05"/><circle cx="569.5" cy="1252.3" r="2.05"/><circle cx="514.3" cy="1250.5" r="2.05"/><circle cx="415.7" cy="1250.7" r="2.05"/><circle cx="424.8" cy="1254.9" r="2.05"/><circle cx="509.0" cy="1253.8" r="2.05"/><circle cx="440.1" cy="1254.1" r="2.05"/><circle cx="452.9" cy="1249.9" r="2.05"/><circle cx="586.8" cy="1252.5" r="2.05"/><circle cx="586.6" cy="1253.3" r="2.05"/><circle cx="485.2" cy="1253.0" r="2.05"/><circle cx="502.1" cy="1251.6" r="2.05"/><circle cx="578.0" cy="1250.5" r="2.05"/><circle cx="518.2" cy="1252.0" r="2.05"/><circle cx="525.5" cy="1254.6" r="2.05"/><circle cx="433.4" cy="1252.8" r="2.05"/><circle cx="489.1" cy="1249.7" r="2.05"/><circle cx="580.4" cy="1251.7" r="2.05"/><circle cx="459.2" cy="1252.9" r="2.05"/><circle cx="471.3" cy="1254.0" r="2.05"/><circle cx="510.2" cy="1253.6" r="2.05"/><circle cx="575.2" cy="1253.9" r="2.05"/><circle cx="573.4" cy="1251.5" r="2.05"/><circle cx="534.5" cy="1251.7" r="2.05"/><circle cx="424.0" cy="1248.3" r="2.05"/><circle cx="519.8" cy="1255.2" r="2.05"/><circle cx="461.5" cy="1250.3" r="2.05"/><circle cx="507.8" cy="1252.1" r="2.05"/><circle cx="468.8" cy="1252.8" r="2.05"/><circle cx="495.2" cy="1252.0" r="2.05"/><circle cx="439.9" cy="1255.5" r="2.05"/><circle cx="482.2" cy="1251.5" r="2.05"/><circle cx="493.1" cy="1250.8" r="2.05"/><circle cx="551.8" cy="1253.6" r="2.05"/><circle cx="507.7" cy="1251.2" r="2.05"/><circle cx="433.0" cy="1253.1" r="2.05"/><circle cx="452.7" cy="1252.1" r="2.05"/><circle cx="417.3" cy="1252.7" r="2.05"/><circle cx="489.9" cy="1255.2" r="2.05"/><circle cx="434.8" cy="1248.7" r="2.05"/><circle cx="482.2" cy="1249.6" r="2.05"/></g>
<text x="700" y="1259.6" font-size="22" fill="#111" text-anchor="end">&lt;0.0001</text>
<text x="252.2" y="1309.9" font-size="25.8" fill="#111" text-anchor="end">CCCP</text>
<path d="M258.5,1300.7 H273.5" stroke="#444444" stroke-width="1.6"/>
<rect x="275.9" y="1286.9" width="91.5" height="27.6" fill="#fff" stroke="#a92030" stroke-width="5.2" rx="2.2" stroke-linejoin="round"/>
<path d="M369.9,1300.7 H379.1 M379.1,1294.7 v12" stroke="#a92030" stroke-width="1.8" fill="none"/>
<path d="M360.6,1300.7 H369.9 M360.6,1294.7 v12" stroke="#a92030" stroke-width="1.8" fill="none"/>
<g fill="#e3747d"><circle cx="289.6" cy="1297.4" r="2.05"/><circle cx="278.6" cy="1296.1" r="2.05"/><circle cx="281.1" cy="1304.9" r="2.05"/><circle cx="287.8" cy="1302.5" r="2.05"/><circle cx="283.3" cy="1308.2" r="2.05"/><circle cx="285.9" cy="1303.0" r="2.05"/><circle cx="283.4" cy="1298.5" r="2.05"/><circle cx="277.6" cy="1295.4" r="2.05"/><circle cx="276.6" cy="1313.6" r="2.05"/><circle cx="278.5" cy="1298.3" r="2.05"/><circle cx="278.4" cy="1306.2" r="2.05"/><circle cx="281.5" cy="1311.5" r="2.05"/><circle cx="279.4" cy="1303.5" r="2.05"/><circle cx="288.4" cy="1304.4" r="2.05"/><circle cx="281.2" cy="1300.0" r="2.05"/><circle cx="287.4" cy="1297.0" r="2.05"/><circle cx="351.2" cy="1297.0" r="2.05"/><circle cx="305.2" cy="1293.4" r="2.05"/><circle cx="353.4" cy="1296.6" r="2.05"/><circle cx="299.5" cy="1296.1" r="2.05"/><circle cx="333.2" cy="1290.7" r="2.05"/><circle cx="331.9" cy="1293.3" r="2.05"/><circle cx="330.6" cy="1300.7" r="2.05"/><circle cx="345.4" cy="1293.9" r="2.05"/><circle cx="327.7" cy="1301.0" r="2.05"/><circle cx="308.6" cy="1308.2" r="2.05"/><circle cx="322.7" cy="1300.5" r="2.05"/><circle cx="332.1" cy="1299.4" r="2.05"/><circle cx="316.0" cy="1300.3" r="2.05"/><circle cx="294.7" cy="1306.7" r="2.05"/><circle cx="298.2" cy="1288.8" r="2.05"/><circle cx="312.0" cy="1301.6" r="2.05"/><circle cx="294.7" cy="1299.4" r="2.05"/><circle cx="342.5" cy="1305.6" r="2.05"/><circle cx="357.9" cy="1306.2" r="2.05"/><circle cx="344.8" cy="1291.9" r="2.05"/><circle cx="319.9" cy="1311.9" r="2.05"/><circle cx="314.7" cy="1302.7" r="2.05"/><circle cx="337.1" cy="1307.0" r="2.05"/><circle cx="344.5" cy="1295.6" r="2.05"/><circle cx="345.6" cy="1302.7" r="2.05"/><circle cx="357.0" cy="1297.2" r="2.05"/><circle cx="341.5" cy="1295.5" r="2.05"/><circle cx="303.2" cy="1306.0" r="2.05"/><circle cx="295.2" cy="1309.5" r="2.05"/><circle cx="347.1" cy="1296.1" r="2.05"/><circle cx="311.0" cy="1308.5" r="2.05"/><circle cx="293.5" cy="1304.8" r="2.05"/><circle cx="322.3" cy="1307.4" r="2.05"/><circle cx="349.1" cy="1303.8" r="2.05"/><circle cx="304.3" cy="1290.8" r="2.05"/><circle cx="302.2" cy="1307.8" r="2.05"/><circle cx="402.7" cy="1300.1" r="2.05"/><circle cx="550.3" cy="1300.3" r="2.05"/><circle cx="516.1" cy="1300.7" r="2.05"/><circle cx="565.2" cy="1300.8" r="2.05"/><circle cx="423.6" cy="1304.0" r="2.05"/><circle cx="408.1" cy="1303.2" r="2.05"/><circle cx="570.3" cy="1299.3" r="2.05"/><circle cx="495.8" cy="1300.4" r="2.05"/><circle cx="511.2" cy="1300.0" r="2.05"/><circle cx="570.6" cy="1300.5" r="2.05"/><circle cx="451.9" cy="1300.2" r="2.05"/><circle cx="540.8" cy="1301.7" r="2.05"/><circle cx="511.3" cy="1300.3" r="2.05"/><circle cx="435.7" cy="1302.6" r="2.05"/><circle cx="422.3" cy="1298.7" r="2.05"/><circle cx="560.0" cy="1302.5" r="2.05"/><circle cx="573.3" cy="1299.5" r="2.05"/><circle cx="513.6" cy="1301.1" r="2.05"/><circle cx="531.6" cy="1300.5" r="2.05"/><circle cx="468.6" cy="1299.3" r="2.05"/><circle cx="544.9" cy="1300.7" r="2.05"/><circle cx="512.9" cy="1300.0" r="2.05"/><circle cx="554.4" cy="1299.4" r="2.05"/><circle cx="501.2" cy="1300.2" r="2.05"/><circle cx="565.2" cy="1302.3" r="2.05"/><circle cx="497.8" cy="1298.2" r="2.05"/><circle cx="489.5" cy="1302.0" r="2.05"/><circle cx="444.0" cy="1302.5" r="2.05"/><circle cx="505.4" cy="1298.1" r="2.05"/><circle cx="419.0" cy="1300.8" r="2.05"/><circle cx="562.4" cy="1300.8" r="2.05"/><circle cx="489.9" cy="1301.2" r="2.05"/><circle cx="558.4" cy="1299.4" r="2.05"/><circle cx="509.2" cy="1299.6" r="2.05"/><circle cx="589.0" cy="1300.7" r="2.05"/><circle cx="596.9" cy="1300.1" r="2.05"/></g>
<text x="700" y="1308.5" font-size="22" fill="#111" text-anchor="end">&lt;0.0001</text>
<text x="252.2" y="1358.8" font-size="25.8" fill="#111" text-anchor="end">Heat Shock</text>
<path d="M258.5,1349.6 H273.5" stroke="#444444" stroke-width="1.6"/>
<rect x="275.9" y="1335.8" width="85.5" height="27.6" fill="#fff" stroke="#2b4531" stroke-width="5.2" rx="2.2" stroke-linejoin="round"/>
<path d="M363.9,1349.6 H368.5 M368.5,1343.6 v12" stroke="#2b4531" stroke-width="1.8" fill="none"/>
<g fill="#9bbc7d"><circle cx="276.1" cy="1338.5" r="2.05"/><circle cx="275.9" cy="1342.3" r="2.05"/><circle cx="275.8" cy="1347.3" r="2.05"/><circle cx="276.3" cy="1351.9" r="2.05"/><circle cx="275.9" cy="1355.8" r="2.05"/><circle cx="276.3" cy="1360.7" r="2.05"/><circle cx="280.1" cy="1340.5" r="2.05"/><circle cx="280.1" cy="1344.6" r="2.05"/><circle cx="280.2" cy="1349.4" r="2.05"/><circle cx="280.3" cy="1354.0" r="2.05"/><circle cx="280.4" cy="1358.2" r="2.05"/><circle cx="284.3" cy="1337.8" r="2.05"/><circle cx="284.4" cy="1342.5" r="2.05"/><circle cx="284.4" cy="1346.9" r="2.05"/><circle cx="285.1" cy="1351.3" r="2.05"/><circle cx="284.9" cy="1356.3" r="2.05"/><circle cx="284.4" cy="1360.7" r="2.05"/><circle cx="289.2" cy="1340.3" r="2.05"/><circle cx="288.8" cy="1344.8" r="2.05"/><circle cx="289.4" cy="1349.0" r="2.05"/><circle cx="288.8" cy="1353.8" r="2.05"/><circle cx="288.7" cy="1358.7" r="2.05"/><circle cx="293.0" cy="1338.0" r="2.05"/><circle cx="293.5" cy="1342.9" r="2.05"/><circle cx="293.3" cy="1346.8" r="2.05"/><circle cx="293.1" cy="1356.1" r="2.05"/><circle cx="293.5" cy="1360.4" r="2.05"/><circle cx="297.6" cy="1340.1" r="2.05"/><circle cx="297.8" cy="1345.0" r="2.05"/><circle cx="297.8" cy="1349.6" r="2.05"/><circle cx="297.8" cy="1354.1" r="2.05"/><circle cx="297.9" cy="1358.3" r="2.05"/><circle cx="301.6" cy="1338.4" r="2.05"/><circle cx="301.6" cy="1342.9" r="2.05"/><circle cx="302.1" cy="1347.1" r="2.05"/><circle cx="302.0" cy="1351.8" r="2.05"/><circle cx="301.4" cy="1356.1" r="2.05"/><circle cx="306.0" cy="1340.6" r="2.05"/><circle cx="306.4" cy="1345.0" r="2.05"/><circle cx="305.7" cy="1349.0" r="2.05"/><circle cx="306.3" cy="1353.7" r="2.05"/><circle cx="306.0" cy="1358.0" r="2.05"/><circle cx="310.7" cy="1338.3" r="2.05"/><circle cx="310.7" cy="1342.9" r="2.05"/><circle cx="310.5" cy="1346.9" r="2.05"/><circle cx="310.5" cy="1351.7" r="2.05"/><circle cx="310.3" cy="1355.9" r="2.05"/><circle cx="310.4" cy="1360.5" r="2.05"/><circle cx="314.3" cy="1340.5" r="2.05"/><circle cx="314.8" cy="1345.1" r="2.05"/><circle cx="314.9" cy="1353.8" r="2.05"/><circle cx="314.2" cy="1358.4" r="2.05"/><circle cx="319.2" cy="1338.2" r="2.05"/><circle cx="319.2" cy="1347.1" r="2.05"/><circle cx="318.8" cy="1351.3" r="2.05"/><circle cx="319.3" cy="1355.8" r="2.05"/><circle cx="318.6" cy="1360.9" r="2.05"/><circle cx="323.4" cy="1340.4" r="2.05"/><circle cx="323.0" cy="1344.6" r="2.05"/><circle cx="323.4" cy="1349.6" r="2.05"/><circle cx="323.2" cy="1353.5" r="2.05"/><circle cx="322.9" cy="1358.2" r="2.05"/><circle cx="327.7" cy="1338.0" r="2.05"/><circle cx="327.1" cy="1342.8" r="2.05"/><circle cx="327.7" cy="1347.0" r="2.05"/><circle cx="327.0" cy="1351.6" r="2.05"/><circle cx="327.5" cy="1356.1" r="2.05"/><circle cx="327.6" cy="1360.2" r="2.05"/><circle cx="331.6" cy="1340.6" r="2.05"/><circle cx="331.4" cy="1344.6" r="2.05"/><circle cx="331.7" cy="1349.6" r="2.05"/><circle cx="331.5" cy="1353.5" r="2.05"/><circle cx="331.5" cy="1358.4" r="2.05"/><circle cx="335.8" cy="1338.2" r="2.05"/><circle cx="336.3" cy="1342.6" r="2.05"/><circle cx="335.9" cy="1347.4" r="2.05"/><circle cx="335.6" cy="1351.4" r="2.05"/><circle cx="336.0" cy="1355.8" r="2.05"/><circle cx="336.2" cy="1360.5" r="2.05"/><circle cx="340.1" cy="1340.3" r="2.05"/><circle cx="340.2" cy="1344.5" r="2.05"/><circle cx="340.6" cy="1349.3" r="2.05"/><circle cx="340.6" cy="1354.1" r="2.05"/><circle cx="340.6" cy="1358.7" r="2.05"/><circle cx="344.7" cy="1338.5" r="2.05"/><circle cx="344.5" cy="1347.4" r="2.05"/><circle cx="344.6" cy="1356.1" r="2.05"/><circle cx="344.7" cy="1360.8" r="2.05"/><circle cx="348.9" cy="1340.6" r="2.05"/><circle cx="349.0" cy="1344.8" r="2.05"/><circle cx="349.0" cy="1349.5" r="2.05"/><circle cx="348.9" cy="1353.7" r="2.05"/><circle cx="348.9" cy="1358.7" r="2.05"/><circle cx="353.2" cy="1337.8" r="2.05"/><circle cx="352.9" cy="1342.7" r="2.05"/><circle cx="353.0" cy="1347.1" r="2.05"/><circle cx="352.7" cy="1356.3" r="2.05"/><circle cx="352.9" cy="1360.7" r="2.05"/><circle cx="357.5" cy="1340.6" r="2.05"/><circle cx="357.4" cy="1345.2" r="2.05"/><circle cx="357.4" cy="1349.0" r="2.05"/><circle cx="357.0" cy="1353.5" r="2.05"/><circle cx="357.2" cy="1358.3" r="2.05"/><circle cx="373.4" cy="1343.0" r="2.05"/><circle cx="366.5" cy="1348.4" r="2.05"/><circle cx="367.6" cy="1341.1" r="2.05"/><circle cx="388.0" cy="1358.0" r="2.05"/><circle cx="370.0" cy="1350.6" r="2.05"/><circle cx="378.3" cy="1349.2" r="2.05"/><circle cx="385.9" cy="1348.6" r="2.05"/><circle cx="371.1" cy="1358.9" r="2.05"/><circle cx="376.7" cy="1350.3" r="2.05"/><circle cx="374.8" cy="1345.0" r="2.05"/><circle cx="387.2" cy="1344.8" r="2.05"/><circle cx="374.8" cy="1346.6" r="2.05"/><circle cx="368.6" cy="1343.2" r="2.05"/><circle cx="378.7" cy="1352.2" r="2.05"/><circle cx="372.9" cy="1349.7" r="2.05"/><circle cx="385.5" cy="1354.2" r="2.05"/><circle cx="380.4" cy="1352.0" r="2.05"/><circle cx="365.0" cy="1352.0" r="2.05"/><circle cx="382.9" cy="1355.3" r="2.05"/><circle cx="366.8" cy="1345.9" r="2.05"/><circle cx="373.5" cy="1341.1" r="2.05"/><circle cx="385.4" cy="1357.1" r="2.05"/><circle cx="381.0" cy="1349.0" r="2.05"/><circle cx="370.6" cy="1355.4" r="2.05"/><circle cx="378.8" cy="1360.4" r="2.05"/><circle cx="364.5" cy="1346.2" r="2.05"/><circle cx="367.9" cy="1340.5" r="2.05"/><circle cx="365.7" cy="1353.2" r="2.05"/><circle cx="364.9" cy="1355.1" r="2.05"/><circle cx="366.1" cy="1347.6" r="2.05"/><circle cx="364.2" cy="1346.1" r="2.05"/><circle cx="371.8" cy="1347.5" r="2.05"/><circle cx="364.2" cy="1340.5" r="2.05"/><circle cx="386.5" cy="1344.5" r="2.05"/><circle cx="367.9" cy="1354.3" r="2.05"/><circle cx="387.3" cy="1345.4" r="2.05"/><circle cx="383.4" cy="1342.6" r="2.05"/><circle cx="384.0" cy="1353.8" r="2.05"/><circle cx="379.2" cy="1351.2" r="2.05"/><circle cx="368.6" cy="1354.7" r="2.05"/><circle cx="412.0" cy="1349.2" r="2.05"/><circle cx="397.1" cy="1352.0" r="2.05"/><circle cx="409.3" cy="1348.5" r="2.05"/><circle cx="420.6" cy="1352.0" r="2.05"/><circle cx="404.0" cy="1348.5" r="2.05"/><circle cx="395.0" cy="1353.1" r="2.05"/><circle cx="419.9" cy="1350.4" r="2.05"/><circle cx="390.1" cy="1342.8" r="2.05"/><circle cx="393.6" cy="1351.7" r="2.05"/><circle cx="398.2" cy="1345.7" r="2.05"/><circle cx="425.6" cy="1344.4" r="2.05"/><circle cx="389.7" cy="1354.2" r="2.05"/><circle cx="423.5" cy="1347.1" r="2.05"/><circle cx="393.1" cy="1347.5" r="2.05"/><circle cx="399.1" cy="1345.3" r="2.05"/><circle cx="401.2" cy="1343.8" r="2.05"/><circle cx="399.6" cy="1346.9" r="2.05"/><circle cx="392.6" cy="1348.0" r="2.05"/><circle cx="418.7" cy="1346.8" r="2.05"/><circle cx="392.7" cy="1354.2" r="2.05"/><circle cx="411.7" cy="1356.3" r="2.05"/><circle cx="400.8" cy="1355.0" r="2.05"/><circle cx="399.5" cy="1344.5" r="2.05"/><circle cx="389.4" cy="1346.1" r="2.05"/><circle cx="404.7" cy="1344.7" r="2.05"/><circle cx="400.5" cy="1346.0" r="2.05"/><circle cx="414.2" cy="1347.2" r="2.05"/><circle cx="425.0" cy="1346.0" r="2.05"/><circle cx="418.1" cy="1351.0" r="2.05"/><circle cx="420.9" cy="1352.1" r="2.05"/><circle cx="417.3" cy="1345.9" r="2.05"/><circle cx="416.9" cy="1348.9" r="2.05"/><circle cx="399.2" cy="1348.7" r="2.05"/><circle cx="426.1" cy="1350.0" r="2.05"/><circle cx="419.8" cy="1347.2" r="2.05"/><circle cx="409.6" cy="1351.1" r="2.05"/><circle cx="418.7" cy="1344.6" r="2.05"/><circle cx="392.4" cy="1354.8" r="2.05"/><circle cx="396.4" cy="1348.4" r="2.05"/><circle cx="398.0" cy="1347.9" r="2.05"/><circle cx="404.4" cy="1352.3" r="2.05"/><circle cx="424.1" cy="1352.6" r="2.05"/><circle cx="433.5" cy="1349.0" r="2.05"/><circle cx="434.5" cy="1350.9" r="2.05"/><circle cx="467.9" cy="1348.3" r="2.05"/><circle cx="457.7" cy="1348.2" r="2.05"/><circle cx="465.9" cy="1348.4" r="2.05"/><circle cx="448.6" cy="1346.7" r="2.05"/><circle cx="434.2" cy="1351.8" r="2.05"/><circle cx="466.3" cy="1351.0" r="2.05"/><circle cx="438.6" cy="1353.4" r="2.05"/><circle cx="479.3" cy="1351.1" r="2.05"/><circle cx="472.9" cy="1348.6" r="2.05"/><circle cx="453.2" cy="1353.2" r="2.05"/><circle cx="469.6" cy="1347.1" r="2.05"/><circle cx="476.5" cy="1350.6" r="2.05"/><circle cx="458.9" cy="1348.8" r="2.05"/><circle cx="474.7" cy="1347.4" r="2.05"/><circle cx="440.9" cy="1348.2" r="2.05"/><circle cx="459.6" cy="1350.9" r="2.05"/><circle cx="480.5" cy="1349.6" r="2.05"/><circle cx="453.5" cy="1348.4" r="2.05"/><circle cx="447.9" cy="1348.5" r="2.05"/><circle cx="479.3" cy="1347.8" r="2.05"/><circle cx="434.8" cy="1351.4" r="2.05"/><circle cx="431.3" cy="1348.0" r="2.05"/><circle cx="478.6" cy="1350.1" r="2.05"/><circle cx="478.1" cy="1351.6" r="2.05"/><circle cx="551.4" cy="1349.0" r="2.05"/><circle cx="528.8" cy="1350.4" r="2.05"/><circle cx="526.6" cy="1351.2" r="2.05"/><circle cx="519.6" cy="1349.3" r="2.05"/><circle cx="541.9" cy="1349.0" r="2.05"/><circle cx="511.1" cy="1350.6" r="2.05"/><circle cx="506.6" cy="1349.5" r="2.05"/><circle cx="550.1" cy="1349.4" r="2.05"/><circle cx="555.2" cy="1349.8" r="2.05"/><circle cx="565.4" cy="1349.6" r="2.05"/><circle cx="527.9" cy="1348.8" r="2.05"/><circle cx="498.8" cy="1348.5" r="2.05"/><circle cx="541.9" cy="1350.0" r="2.05"/><circle cx="516.8" cy="1349.9" r="2.05"/><circle cx="492.5" cy="1349.0" r="2.05"/><circle cx="502.8" cy="1350.2" r="2.05"/></g>
<text x="700" y="1357.4" font-size="22" fill="#111" text-anchor="end">&lt;0.0001</text>
<text x="252.2" y="1407.7" font-size="25.8" fill="#111" text-anchor="end">Ostimic Stress</text>
<path d="M258.5,1398.5 H273.5" stroke="#444444" stroke-width="1.6"/>
<rect x="275.9" y="1384.7" width="51.2" height="27.6" fill="#fff" stroke="#0f3060" stroke-width="5.2" rx="2.2" stroke-linejoin="round"/>
<path d="M329.6,1398.5 H332.2 M332.2,1392.5 v12" stroke="#0f3060" stroke-width="1.8" fill="none"/>
<g fill="#164b91"><circle cx="283.0" cy="1401.6" r="2.05"/><circle cx="279.9" cy="1400.4" r="2.05"/><circle cx="287.4" cy="1395.9" r="2.05"/><circle cx="285.1" cy="1388.8" r="2.05"/><circle cx="278.3" cy="1406.3" r="2.05"/><circle cx="287.9" cy="1388.3" r="2.05"/><circle cx="281.7" cy="1408.4" r="2.05"/><circle cx="278.8" cy="1394.1" r="2.05"/><circle cx="285.3" cy="1393.1" r="2.05"/><circle cx="280.1" cy="1401.6" r="2.05"/><circle cx="276.9" cy="1397.2" r="2.05"/><circle cx="276.3" cy="1394.9" r="2.05"/><circle cx="279.7" cy="1395.5" r="2.05"/><circle cx="289.8" cy="1392.3" r="2.05"/><circle cx="274.9" cy="1394.3" r="2.05"/><circle cx="281.6" cy="1402.7" r="2.05"/><circle cx="278.2" cy="1392.3" r="2.05"/><circle cx="287.7" cy="1402.3" r="2.05"/><circle cx="287.7" cy="1398.9" r="2.05"/><circle cx="286.5" cy="1396.4" r="2.05"/><circle cx="281.5" cy="1400.7" r="2.05"/><circle cx="285.2" cy="1398.7" r="2.05"/><circle cx="281.1" cy="1405.1" r="2.05"/><circle cx="289.5" cy="1401.3" r="2.05"/><circle cx="282.3" cy="1405.9" r="2.05"/><circle cx="281.1" cy="1395.5" r="2.05"/><circle cx="279.9" cy="1396.3" r="2.05"/><circle cx="287.1" cy="1403.9" r="2.05"/><circle cx="276.1" cy="1393.3" r="2.05"/><circle cx="284.6" cy="1396.4" r="2.05"/><circle cx="286.3" cy="1395.1" r="2.05"/><circle cx="287.5" cy="1405.3" r="2.05"/><circle cx="282.8" cy="1401.0" r="2.05"/><circle cx="281.3" cy="1407.6" r="2.05"/><circle cx="284.1" cy="1406.5" r="2.05"/><circle cx="288.8" cy="1396.9" r="2.05"/><circle cx="279.4" cy="1395.2" r="2.05"/><circle cx="278.2" cy="1403.4" r="2.05"/><circle cx="281.3" cy="1393.5" r="2.05"/><circle cx="278.4" cy="1391.9" r="2.05"/><circle cx="275.7" cy="1400.3" r="2.05"/><circle cx="282.5" cy="1395.4" r="2.05"/><circle cx="279.6" cy="1402.4" r="2.05"/><circle cx="288.2" cy="1394.4" r="2.05"/><circle cx="284.9" cy="1401.5" r="2.05"/><circle cx="276.4" cy="1398.7" r="2.05"/><circle cx="283.7" cy="1396.8" r="2.05"/><circle cx="281.6" cy="1399.8" r="2.05"/><circle cx="287.6" cy="1390.9" r="2.05"/><circle cx="287.9" cy="1396.5" r="2.05"/><circle cx="283.4" cy="1408.9" r="2.05"/><circle cx="276.1" cy="1399.2" r="2.05"/><circle cx="282.7" cy="1395.3" r="2.05"/><circle cx="276.6" cy="1391.5" r="2.05"/><circle cx="279.3" cy="1401.0" r="2.05"/><circle cx="284.6" cy="1398.0" r="2.05"/><circle cx="277.4" cy="1401.3" r="2.05"/><circle cx="282.2" cy="1390.5" r="2.05"/><circle cx="287.0" cy="1397.2" r="2.05"/><circle cx="280.9" cy="1407.6" r="2.05"/><circle cx="288.0" cy="1401.8" r="2.05"/><circle cx="280.9" cy="1402.4" r="2.05"/><circle cx="289.8" cy="1404.3" r="2.05"/><circle cx="275.1" cy="1401.0" r="2.05"/><circle cx="283.5" cy="1394.5" r="2.05"/><circle cx="287.8" cy="1385.3" r="2.05"/><circle cx="283.5" cy="1398.2" r="2.05"/><circle cx="278.0" cy="1402.6" r="2.05"/><circle cx="281.5" cy="1400.0" r="2.05"/><circle cx="290.0" cy="1395.5" r="2.05"/><circle cx="284.3" cy="1400.6" r="2.05"/><circle cx="281.9" cy="1398.5" r="2.05"/><circle cx="281.4" cy="1405.1" r="2.05"/><circle cx="275.1" cy="1400.2" r="2.05"/><circle cx="285.1" cy="1388.1" r="2.05"/><circle cx="282.9" cy="1389.0" r="2.05"/><circle cx="285.9" cy="1404.1" r="2.05"/><circle cx="288.6" cy="1396.4" r="2.05"/><circle cx="280.8" cy="1390.6" r="2.05"/><circle cx="289.3" cy="1396.5" r="2.05"/><circle cx="288.8" cy="1411.6" r="2.05"/><circle cx="283.1" cy="1387.8" r="2.05"/><circle cx="285.2" cy="1392.9" r="2.05"/><circle cx="275.7" cy="1401.3" r="2.05"/><circle cx="278.2" cy="1398.6" r="2.05"/><circle cx="286.8" cy="1397.8" r="2.05"/><circle cx="280.7" cy="1400.8" r="2.05"/><circle cx="280.7" cy="1391.1" r="2.05"/><circle cx="277.0" cy="1391.6" r="2.05"/><circle cx="289.9" cy="1388.0" r="2.05"/><circle cx="312.7" cy="1401.0" r="2.05"/><circle cx="295.1" cy="1404.9" r="2.05"/><circle cx="305.7" cy="1397.7" r="2.05"/><circle cx="309.1" cy="1409.3" r="2.05"/><circle cx="295.3" cy="1392.3" r="2.05"/><circle cx="300.7" cy="1385.2" r="2.05"/><circle cx="293.7" cy="1399.5" r="2.05"/><circle cx="294.2" cy="1390.7" r="2.05"/><circle cx="291.7" cy="1388.5" r="2.05"/><circle cx="312.1" cy="1408.9" r="2.05"/><circle cx="309.6" cy="1392.5" r="2.05"/><circle cx="295.3" cy="1405.5" r="2.05"/><circle cx="299.0" cy="1409.6" r="2.05"/><circle cx="293.9" cy="1405.3" r="2.05"/><circle cx="290.5" cy="1398.9" r="2.05"/><circle cx="306.5" cy="1396.3" r="2.05"/><circle cx="304.3" cy="1402.0" r="2.05"/><circle cx="302.3" cy="1391.8" r="2.05"/><circle cx="297.3" cy="1399.9" r="2.05"/><circle cx="307.0" cy="1392.5" r="2.05"/><circle cx="294.5" cy="1401.5" r="2.05"/><circle cx="306.4" cy="1395.6" r="2.05"/><circle cx="306.0" cy="1397.3" r="2.05"/><circle cx="303.6" cy="1408.0" r="2.05"/><circle cx="290.4" cy="1393.3" r="2.05"/><circle cx="308.4" cy="1401.0" r="2.05"/><circle cx="311.4" cy="1394.3" r="2.05"/><circle cx="296.2" cy="1390.6" r="2.05"/><circle cx="313.9" cy="1398.0" r="2.05"/><circle cx="314.3" cy="1387.2" r="2.05"/><circle cx="311.7" cy="1398.8" r="2.05"/><circle cx="304.1" cy="1406.5" r="2.05"/><circle cx="292.0" cy="1395.8" r="2.05"/><circle cx="298.1" cy="1409.0" r="2.05"/><circle cx="311.0" cy="1410.0" r="2.05"/><circle cx="297.8" cy="1400.2" r="2.05"/><circle cx="298.3" cy="1393.4" r="2.05"/><circle cx="300.3" cy="1386.9" r="2.05"/><circle cx="313.4" cy="1386.1" r="2.05"/><circle cx="306.9" cy="1405.0" r="2.05"/><circle cx="290.5" cy="1400.2" r="2.05"/><circle cx="290.5" cy="1398.5" r="2.05"/><circle cx="290.0" cy="1402.2" r="2.05"/><circle cx="302.5" cy="1404.0" r="2.05"/><circle cx="304.4" cy="1394.8" r="2.05"/><circle cx="298.9" cy="1408.8" r="2.05"/><circle cx="302.4" cy="1396.6" r="2.05"/><circle cx="312.6" cy="1401.3" r="2.05"/><circle cx="295.4" cy="1391.0" r="2.05"/><circle cx="302.5" cy="1403.5" r="2.05"/><circle cx="301.1" cy="1398.9" r="2.05"/><circle cx="293.0" cy="1393.7" r="2.05"/><circle cx="296.3" cy="1403.6" r="2.05"/><circle cx="301.7" cy="1394.0" r="2.05"/><circle cx="296.3" cy="1389.4" r="2.05"/><circle cx="298.5" cy="1400.0" r="2.05"/><circle cx="306.5" cy="1402.0" r="2.05"/><circle cx="293.6" cy="1387.6" r="2.05"/><circle cx="304.8" cy="1388.4" r="2.05"/><circle cx="294.0" cy="1407.9" r="2.05"/><circle cx="307.5" cy="1405.5" r="2.05"/><circle cx="293.9" cy="1391.2" r="2.05"/><circle cx="296.0" cy="1387.6" r="2.05"/><circle cx="298.1" cy="1402.3" r="2.05"/><circle cx="311.8" cy="1411.7" r="2.05"/><circle cx="298.2" cy="1402.8" r="2.05"/><circle cx="313.4" cy="1398.2" r="2.05"/><circle cx="305.3" cy="1397.1" r="2.05"/><circle cx="309.6" cy="1390.9" r="2.05"/><circle cx="304.8" cy="1392.3" r="2.05"/><circle cx="296.9" cy="1411.0" r="2.05"/><circle cx="302.9" cy="1396.0" r="2.05"/><circle cx="294.2" cy="1392.4" r="2.05"/><circle cx="294.0" cy="1411.0" r="2.05"/><circle cx="297.7" cy="1409.9" r="2.05"/><circle cx="291.9" cy="1400.4" r="2.05"/><circle cx="311.6" cy="1385.3" r="2.05"/><circle cx="301.2" cy="1401.1" r="2.05"/><circle cx="290.3" cy="1402.7" r="2.05"/><circle cx="307.1" cy="1399.5" r="2.05"/><circle cx="305.6" cy="1391.1" r="2.05"/><circle cx="312.9" cy="1392.5" r="2.05"/><circle cx="297.0" cy="1404.9" r="2.05"/><circle cx="291.3" cy="1405.9" r="2.05"/><circle cx="292.8" cy="1409.0" r="2.05"/><circle cx="295.9" cy="1411.2" r="2.05"/><circle cx="297.5" cy="1397.0" r="2.05"/><circle cx="302.9" cy="1391.4" r="2.05"/><circle cx="309.8" cy="1404.1" r="2.05"/><circle cx="304.7" cy="1397.2" r="2.05"/><circle cx="299.8" cy="1412.4" r="2.05"/><circle cx="312.8" cy="1410.0" r="2.05"/><circle cx="299.6" cy="1397.5" r="2.05"/><circle cx="303.9" cy="1393.8" r="2.05"/><circle cx="304.1" cy="1403.3" r="2.05"/><circle cx="310.9" cy="1394.0" r="2.05"/><circle cx="293.3" cy="1394.1" r="2.05"/><circle cx="302.2" cy="1408.0" r="2.05"/><circle cx="303.6" cy="1408.2" r="2.05"/><circle cx="292.1" cy="1406.8" r="2.05"/><circle cx="293.6" cy="1400.6" r="2.05"/><circle cx="292.3" cy="1396.7" r="2.05"/><circle cx="312.0" cy="1388.3" r="2.05"/><circle cx="309.2" cy="1402.7" r="2.05"/><circle cx="310.3" cy="1401.2" r="2.05"/><circle cx="291.0" cy="1396.4" r="2.05"/><circle cx="293.7" cy="1394.3" r="2.05"/><circle cx="295.7" cy="1390.7" r="2.05"/><circle cx="309.2" cy="1394.2" r="2.05"/><circle cx="292.7" cy="1393.3" r="2.05"/><circle cx="293.2" cy="1388.4" r="2.05"/><circle cx="294.6" cy="1407.2" r="2.05"/><circle cx="309.4" cy="1402.3" r="2.05"/><circle cx="307.1" cy="1401.9" r="2.05"/><circle cx="305.8" cy="1401.6" r="2.05"/><circle cx="290.8" cy="1385.6" r="2.05"/><circle cx="294.1" cy="1390.2" r="2.05"/><circle cx="296.1" cy="1389.6" r="2.05"/><circle cx="310.4" cy="1387.9" r="2.05"/><circle cx="293.5" cy="1397.4" r="2.05"/><circle cx="296.0" cy="1400.1" r="2.05"/><circle cx="292.1" cy="1409.8" r="2.05"/><circle cx="301.5" cy="1403.7" r="2.05"/><circle cx="310.7" cy="1387.3" r="2.05"/><circle cx="309.4" cy="1407.3" r="2.05"/><circle cx="291.2" cy="1402.7" r="2.05"/><circle cx="301.2" cy="1389.4" r="2.05"/><circle cx="302.0" cy="1392.5" r="2.05"/><circle cx="312.0" cy="1391.7" r="2.05"/><circle cx="300.4" cy="1391.7" r="2.05"/><circle cx="312.4" cy="1398.4" r="2.05"/><circle cx="308.7" cy="1402.6" r="2.05"/><circle cx="306.0" cy="1399.6" r="2.05"/><circle cx="294.6" cy="1396.8" r="2.05"/><circle cx="291.9" cy="1410.3" r="2.05"/><circle cx="302.5" cy="1412.2" r="2.05"/><circle cx="294.6" cy="1387.8" r="2.05"/><circle cx="299.9" cy="1391.4" r="2.05"/><circle cx="313.7" cy="1395.8" r="2.05"/><circle cx="310.7" cy="1391.6" r="2.05"/><circle cx="302.6" cy="1384.8" r="2.05"/><circle cx="314.2" cy="1405.6" r="2.05"/><circle cx="313.1" cy="1396.7" r="2.05"/><circle cx="305.4" cy="1385.8" r="2.05"/><circle cx="298.7" cy="1409.5" r="2.05"/><circle cx="311.3" cy="1394.9" r="2.05"/><circle cx="298.9" cy="1404.0" r="2.05"/><circle cx="300.1" cy="1396.2" r="2.05"/><circle cx="312.8" cy="1410.3" r="2.05"/><circle cx="296.4" cy="1397.4" r="2.05"/><circle cx="303.1" cy="1407.7" r="2.05"/><circle cx="302.7" cy="1400.5" r="2.05"/><circle cx="292.6" cy="1402.8" r="2.05"/><circle cx="297.4" cy="1396.1" r="2.05"/><circle cx="301.7" cy="1393.5" r="2.05"/><circle cx="308.5" cy="1385.7" r="2.05"/><circle cx="311.6" cy="1385.3" r="2.05"/><circle cx="310.0" cy="1398.9" r="2.05"/><circle cx="297.7" cy="1397.2" r="2.05"/><circle cx="311.7" cy="1385.3" r="2.05"/><circle cx="307.6" cy="1399.9" r="2.05"/><circle cx="292.1" cy="1398.4" r="2.05"/><circle cx="310.7" cy="1393.4" r="2.05"/><circle cx="306.4" cy="1407.0" r="2.05"/><circle cx="293.9" cy="1399.3" r="2.05"/><circle cx="301.6" cy="1404.3" r="2.05"/><circle cx="300.6" cy="1394.7" r="2.05"/><circle cx="308.5" cy="1405.7" r="2.05"/><circle cx="311.8" cy="1399.8" r="2.05"/><circle cx="302.9" cy="1391.0" r="2.05"/><circle cx="303.7" cy="1412.2" r="2.05"/><circle cx="306.4" cy="1407.1" r="2.05"/><circle cx="297.3" cy="1395.2" r="2.05"/><circle cx="311.0" cy="1394.5" r="2.05"/><circle cx="292.2" cy="1389.7" r="2.05"/><circle cx="301.9" cy="1394.1" r="2.05"/><circle cx="308.7" cy="1399.0" r="2.05"/><circle cx="301.9" cy="1397.5" r="2.05"/><circle cx="295.4" cy="1397.0" r="2.05"/><circle cx="300.7" cy="1400.4" r="2.05"/><circle cx="310.4" cy="1408.4" r="2.05"/><circle cx="304.6" cy="1412.1" r="2.05"/><circle cx="304.6" cy="1393.7" r="2.05"/><circle cx="307.7" cy="1395.8" r="2.05"/><circle cx="295.9" cy="1403.0" r="2.05"/><circle cx="291.6" cy="1406.6" r="2.05"/><circle cx="297.1" cy="1395.0" r="2.05"/><circle cx="308.1" cy="1399.8" r="2.05"/><circle cx="300.6" cy="1399.1" r="2.05"/><circle cx="293.8" cy="1394.8" r="2.05"/><circle cx="331.9" cy="1401.5" r="2.05"/><circle cx="319.9" cy="1395.5" r="2.05"/><circle cx="333.0" cy="1400.7" r="2.05"/><circle cx="315.0" cy="1400.9" r="2.05"/><circle cx="326.9" cy="1399.8" r="2.05"/><circle cx="332.2" cy="1401.1" r="2.05"/><circle cx="337.4" cy="1398.7" r="2.05"/><circle cx="321.8" cy="1395.6" r="2.05"/><circle cx="335.9" cy="1401.9" r="2.05"/><circle cx="319.9" cy="1395.1" r="2.05"/><circle cx="335.0" cy="1396.7" r="2.05"/><circle cx="337.5" cy="1399.0" r="2.05"/><circle cx="319.4" cy="1396.1" r="2.05"/><circle cx="333.5" cy="1403.4" r="2.05"/><circle cx="325.5" cy="1402.0" r="2.05"/><circle cx="319.4" cy="1393.7" r="2.05"/><circle cx="317.0" cy="1394.7" r="2.05"/><circle cx="336.8" cy="1398.2" r="2.05"/><circle cx="332.0" cy="1393.6" r="2.05"/><circle cx="331.8" cy="1397.3" r="2.05"/><circle cx="317.8" cy="1391.0" r="2.05"/><circle cx="325.2" cy="1390.5" r="2.05"/><circle cx="333.4" cy="1395.5" r="2.05"/><circle cx="320.7" cy="1392.5" r="2.05"/><circle cx="334.5" cy="1392.5" r="2.05"/><circle cx="331.2" cy="1402.4" r="2.05"/><circle cx="315.3" cy="1396.3" r="2.05"/><circle cx="333.5" cy="1398.5" r="2.05"/><circle cx="327.8" cy="1401.0" r="2.05"/><circle cx="335.9" cy="1401.7" r="2.05"/><circle cx="324.1" cy="1400.3" r="2.05"/><circle cx="315.8" cy="1396.8" r="2.05"/><circle cx="327.4" cy="1398.6" r="2.05"/><circle cx="323.9" cy="1404.9" r="2.05"/><circle cx="317.2" cy="1387.2" r="2.05"/><circle cx="331.7" cy="1398.1" r="2.05"/><circle cx="329.0" cy="1396.5" r="2.05"/><circle cx="328.0" cy="1393.8" r="2.05"/><circle cx="320.7" cy="1399.4" r="2.05"/><circle cx="318.1" cy="1399.0" r="2.05"/><circle cx="315.1" cy="1390.8" r="2.05"/><circle cx="337.5" cy="1398.3" r="2.05"/><circle cx="317.8" cy="1407.2" r="2.05"/><circle cx="333.7" cy="1395.5" r="2.05"/><circle cx="335.1" cy="1396.2" r="2.05"/><circle cx="334.8" cy="1401.8" r="2.05"/><circle cx="324.5" cy="1400.5" r="2.05"/><circle cx="327.0" cy="1394.5" r="2.05"/><circle cx="317.8" cy="1395.2" r="2.05"/><circle cx="334.3" cy="1398.6" r="2.05"/><circle cx="335.3" cy="1402.9" r="2.05"/><circle cx="323.3" cy="1399.3" r="2.05"/><circle cx="323.7" cy="1403.4" r="2.05"/><circle cx="327.8" cy="1404.2" r="2.05"/><circle cx="324.4" cy="1394.2" r="2.05"/><circle cx="333.4" cy="1402.3" r="2.05"/><circle cx="324.1" cy="1399.8" r="2.05"/><circle cx="314.4" cy="1407.8" r="2.05"/><circle cx="331.7" cy="1397.9" r="2.05"/><circle cx="322.6" cy="1388.6" r="2.05"/><circle cx="332.0" cy="1398.1" r="2.05"/><circle cx="338.0" cy="1400.7" r="2.05"/><circle cx="323.9" cy="1398.4" r="2.05"/><circle cx="320.0" cy="1406.6" r="2.05"/><circle cx="328.0" cy="1399.6" r="2.05"/><circle cx="323.2" cy="1397.3" r="2.05"/><circle cx="331.5" cy="1397.1" r="2.05"/><circle cx="318.1" cy="1391.2" r="2.05"/><circle cx="323.8" cy="1405.0" r="2.05"/><circle cx="318.2" cy="1403.5" r="2.05"/><circle cx="328.3" cy="1403.6" r="2.05"/><circle cx="317.8" cy="1399.8" r="2.05"/><circle cx="324.5" cy="1403.3" r="2.05"/><circle cx="336.4" cy="1400.3" r="2.05"/><circle cx="320.6" cy="1391.1" r="2.05"/><circle cx="314.4" cy="1396.2" r="2.05"/><circle cx="320.6" cy="1406.5" r="2.05"/><circle cx="328.0" cy="1400.6" r="2.05"/><circle cx="336.7" cy="1398.8" r="2.05"/><circle cx="323.2" cy="1401.8" r="2.05"/><circle cx="320.8" cy="1391.8" r="2.05"/><circle cx="334.9" cy="1397.9" r="2.05"/><circle cx="317.3" cy="1395.7" r="2.05"/><circle cx="332.9" cy="1398.8" r="2.05"/><circle cx="319.3" cy="1393.1" r="2.05"/><circle cx="325.3" cy="1407.7" r="2.05"/><circle cx="316.0" cy="1398.2" r="2.05"/><circle cx="319.3" cy="1398.1" r="2.05"/><circle cx="331.8" cy="1405.5" r="2.05"/><circle cx="325.3" cy="1394.8" r="2.05"/><circle cx="327.0" cy="1398.1" r="2.05"/><circle cx="323.4" cy="1393.8" r="2.05"/><circle cx="335.7" cy="1398.5" r="2.05"/><circle cx="331.1" cy="1400.1" r="2.05"/><circle cx="332.7" cy="1397.8" r="2.05"/><circle cx="324.4" cy="1392.2" r="2.05"/><circle cx="337.3" cy="1402.2" r="2.05"/><circle cx="322.2" cy="1407.0" r="2.05"/><circle cx="328.6" cy="1399.3" r="2.05"/><circle cx="330.5" cy="1395.9" r="2.05"/><circle cx="334.7" cy="1403.2" r="2.05"/><circle cx="319.6" cy="1393.6" r="2.05"/><circle cx="318.7" cy="1391.5" r="2.05"/><circle cx="316.8" cy="1401.1" r="2.05"/><circle cx="318.0" cy="1394.3" r="2.05"/><circle cx="327.7" cy="1392.8" r="2.05"/><circle cx="319.5" cy="1387.8" r="2.05"/><circle cx="335.4" cy="1402.8" r="2.05"/><circle cx="321.4" cy="1388.3" r="2.05"/><circle cx="325.0" cy="1403.5" r="2.05"/><circle cx="338.8" cy="1395.9" r="2.05"/><circle cx="348.8" cy="1397.7" r="2.05"/><circle cx="347.8" cy="1397.0" r="2.05"/><circle cx="364.2" cy="1399.8" r="2.05"/><circle cx="366.7" cy="1402.3" r="2.05"/><circle cx="375.3" cy="1397.7" r="2.05"/><circle cx="364.6" cy="1401.8" r="2.05"/><circle cx="361.6" cy="1395.9" r="2.05"/><circle cx="386.4" cy="1400.9" r="2.05"/><circle cx="359.9" cy="1399.1" r="2.05"/><circle cx="345.8" cy="1395.5" r="2.05"/><circle cx="380.0" cy="1397.8" r="2.05"/><circle cx="342.0" cy="1398.9" r="2.05"/><circle cx="340.0" cy="1398.9" r="2.05"/><circle cx="345.2" cy="1399.5" r="2.05"/><circle cx="348.7" cy="1397.2" r="2.05"/><circle cx="345.0" cy="1400.4" r="2.05"/><circle cx="378.8" cy="1397.0" r="2.05"/><circle cx="378.3" cy="1398.6" r="2.05"/><circle cx="374.1" cy="1396.3" r="2.05"/><circle cx="365.7" cy="1397.0" r="2.05"/><circle cx="362.3" cy="1397.2" r="2.05"/><circle cx="384.1" cy="1399.5" r="2.05"/><circle cx="357.6" cy="1400.3" r="2.05"/><circle cx="383.7" cy="1397.3" r="2.05"/><circle cx="374.5" cy="1395.5" r="2.05"/><circle cx="362.4" cy="1396.3" r="2.05"/><circle cx="347.9" cy="1398.7" r="2.05"/><circle cx="356.7" cy="1395.6" r="2.05"/><circle cx="359.5" cy="1402.7" r="2.05"/><circle cx="361.4" cy="1399.5" r="2.05"/><circle cx="384.0" cy="1398.3" r="2.05"/><circle cx="387.3" cy="1398.3" r="2.05"/><circle cx="350.7" cy="1399.4" r="2.05"/><circle cx="349.0" cy="1394.7" r="2.05"/><circle cx="359.9" cy="1394.4" r="2.05"/><circle cx="380.3" cy="1395.2" r="2.05"/><circle cx="364.1" cy="1397.0" r="2.05"/><circle cx="357.1" cy="1402.8" r="2.05"/><circle cx="361.1" cy="1398.0" r="2.05"/><circle cx="338.3" cy="1400.3" r="2.05"/><circle cx="363.3" cy="1396.7" r="2.05"/><circle cx="370.6" cy="1400.3" r="2.05"/><circle cx="367.0" cy="1397.5" r="2.05"/><circle cx="368.2" cy="1396.8" r="2.05"/><circle cx="379.9" cy="1401.3" r="2.05"/><circle cx="355.5" cy="1402.6" r="2.05"/><circle cx="350.5" cy="1403.0" r="2.05"/><circle cx="349.4" cy="1396.5" r="2.05"/><circle cx="364.0" cy="1398.6" r="2.05"/><circle cx="342.8" cy="1394.8" r="2.05"/><circle cx="360.0" cy="1397.6" r="2.05"/><circle cx="368.6" cy="1399.8" r="2.05"/><circle cx="357.0" cy="1397.6" r="2.05"/><circle cx="375.7" cy="1398.8" r="2.05"/><circle cx="340.1" cy="1401.0" r="2.05"/><circle cx="367.6" cy="1399.3" r="2.05"/><circle cx="347.6" cy="1397.6" r="2.05"/><circle cx="359.8" cy="1397.8" r="2.05"/><circle cx="373.5" cy="1398.1" r="2.05"/><circle cx="370.1" cy="1400.6" r="2.05"/><circle cx="381.2" cy="1398.2" r="2.05"/><circle cx="353.6" cy="1400.9" r="2.05"/><circle cx="354.0" cy="1399.0" r="2.05"/><circle cx="381.1" cy="1398.2" r="2.05"/><circle cx="367.7" cy="1401.4" r="2.05"/><circle cx="367.2" cy="1395.0" r="2.05"/><circle cx="364.4" cy="1398.1" r="2.05"/><circle cx="372.9" cy="1397.8" r="2.05"/><circle cx="355.0" cy="1398.8" r="2.05"/><circle cx="429.8" cy="1397.9" r="2.05"/><circle cx="444.4" cy="1398.8" r="2.05"/><circle cx="426.7" cy="1398.5" r="2.05"/><circle cx="416.4" cy="1398.8" r="2.05"/><circle cx="393.6" cy="1400.3" r="2.05"/><circle cx="399.6" cy="1397.5" r="2.05"/><circle cx="409.8" cy="1400.5" r="2.05"/><circle cx="427.7" cy="1398.0" r="2.05"/><circle cx="429.0" cy="1397.9" r="2.05"/><circle cx="416.3" cy="1398.2" r="2.05"/><circle cx="432.7" cy="1398.8" r="2.05"/><circle cx="426.2" cy="1399.0" r="2.05"/><circle cx="400.2" cy="1398.5" r="2.05"/><circle cx="421.4" cy="1398.2" r="2.05"/><circle cx="412.0" cy="1397.8" r="2.05"/><circle cx="397.8" cy="1398.1" r="2.05"/><circle cx="392.8" cy="1397.4" r="2.05"/><circle cx="389.7" cy="1399.6" r="2.05"/><circle cx="406.3" cy="1398.7" r="2.05"/><circle cx="402.9" cy="1399.5" r="2.05"/><circle cx="416.7" cy="1398.0" r="2.05"/><circle cx="440.3" cy="1398.5" r="2.05"/><circle cx="402.2" cy="1398.9" r="2.05"/><circle cx="400.3" cy="1400.3" r="2.05"/><circle cx="432.6" cy="1397.6" r="2.05"/><circle cx="431.4" cy="1398.3" r="2.05"/><circle cx="444.4" cy="1398.0" r="2.05"/><circle cx="397.5" cy="1398.3" r="2.05"/><circle cx="401.7" cy="1398.0" r="2.05"/><circle cx="405.9" cy="1398.9" r="2.05"/><circle cx="392.0" cy="1398.7" r="2.05"/><circle cx="393.5" cy="1396.1" r="2.05"/><circle cx="471.8" cy="1399.3" r="2.05"/><circle cx="468.1" cy="1398.2" r="2.05"/><circle cx="490.3" cy="1397.7" r="2.05"/><circle cx="493.5" cy="1398.0" r="2.05"/><circle cx="449.3" cy="1398.2" r="2.05"/><circle cx="477.7" cy="1398.7" r="2.05"/><circle cx="489.0" cy="1399.4" r="2.05"/><circle cx="493.0" cy="1398.8" r="2.05"/><circle cx="486.5" cy="1398.1" r="2.05"/><circle cx="477.6" cy="1398.0" r="2.05"/><circle cx="471.1" cy="1399.8" r="2.05"/><circle cx="487.1" cy="1398.5" r="2.05"/><circle cx="501.9" cy="1399.3" r="2.05"/><circle cx="508.5" cy="1399.0" r="2.05"/><circle cx="517.7" cy="1398.8" r="2.05"/><circle cx="540.8" cy="1399.0" r="2.05"/><circle cx="563.9" cy="1398.7" r="2.05"/><circle cx="577.1" cy="1398.2" r="2.05"/></g>
<text x="700" y="1406.3" font-size="22" fill="#111" text-anchor="end">0.0006</text>
<path d="M273.5,972.4 V1431" stroke="#444444" stroke-width="1.8" fill="none"/>
<path d="M272.6,1431 H670.4" stroke="#444444" stroke-width="1.8" fill="none"/>
<path d="M273.5,1431 V1446" stroke="#444444" stroke-width="1.8"/>
<text x="272.7" y="1473.0" font-size="21.6" fill="#111" text-anchor="middle">0</text>
<path d="M339.5,1431 V1446" stroke="#444444" stroke-width="1.8"/>
<text x="338.7" y="1473.0" font-size="21.6" fill="#111" text-anchor="middle">1</text>
<path d="M405.5,1431 V1446" stroke="#444444" stroke-width="1.8"/>
<text x="404.7" y="1473.0" font-size="21.6" fill="#111" text-anchor="middle">2</text>
<path d="M471.5,1431 V1446" stroke="#444444" stroke-width="1.8"/>
<text x="470.7" y="1473.0" font-size="21.6" fill="#111" text-anchor="middle">3</text>
<path d="M537.5,1431 V1446" stroke="#444444" stroke-width="1.8"/>
<text x="536.7" y="1473.0" font-size="21.6" fill="#111" text-anchor="middle">4</text>
<path d="M603.5,1431 V1446" stroke="#444444" stroke-width="1.8"/>
<text x="602.7" y="1473.0" font-size="21.6" fill="#111" text-anchor="middle">5</text>
<path d="M669.5,1431 V1446" stroke="#444444" stroke-width="1.8"/>
<text x="668.7" y="1473.0" font-size="21.6" fill="#111" text-anchor="middle">6</text>
<text x="47.5" y="1529" font-size="29.8" fill="#111" textLength="757.5" lengthAdjust="spacingAndGlyphs">Shortest distence between TRIM25 Spots to G3BP1 (µm)</text>
</g>
</svg>
</body></html>
